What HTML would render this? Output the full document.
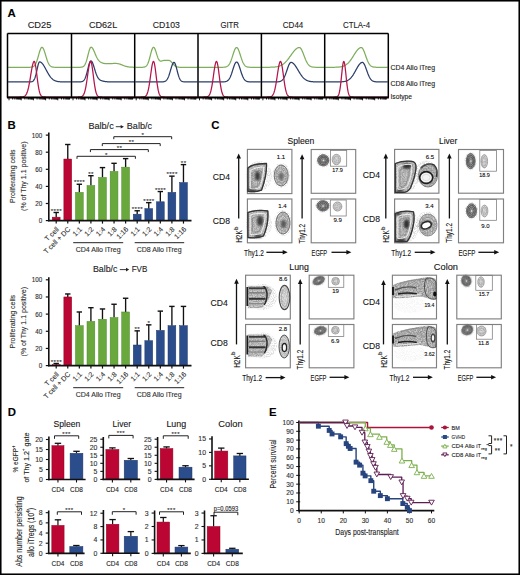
<!DOCTYPE html>
<html><head><meta charset="utf-8"><style>
html,body{margin:0;padding:0;background:#fff;}
svg{display:block;font-family:"Liberation Sans", sans-serif;}
text{stroke:#2a2a2a;stroke-width:0.12px;}
</style></head><body>
<svg width="520" height="575" viewBox="0 0 520 575">
<rect width="520" height="575" fill="#fff"/>
<defs><radialGradient id="gDark" cx="50%" cy="50%" r="50%">
<stop offset="0" stop-color="#8a8a8a"/><stop offset="0.3" stop-color="#4a4a4a"/><stop offset="0.65" stop-color="#3a3a3a"/><stop offset="0.85" stop-color="#6a6a6a"/><stop offset="1" stop-color="#cfcfcf" stop-opacity="0.6"/></radialGradient>
<radialGradient id="gLight" cx="50%" cy="50%" r="50%">
<stop offset="0" stop-color="#cfcfcf"/><stop offset="0.55" stop-color="#b8b8b8"/><stop offset="0.8" stop-color="#9a9a9a"/><stop offset="1" stop-color="#e0e0e0" stop-opacity="0.7"/></radialGradient>
<radialGradient id="gPop" cx="50%" cy="50%" r="50%">
<stop offset="0" stop-color="#7a7a7a"/><stop offset="0.5" stop-color="#a5a5a5"/><stop offset="0.9" stop-color="#c8c8c8"/><stop offset="1" stop-color="#dcdcdc"/></radialGradient>
<radialGradient id="gHaze" cx="50%" cy="50%" r="50%">
<stop offset="0" stop-color="#d0d0d0" stop-opacity="0.9"/><stop offset="1" stop-color="#ffffff" stop-opacity="0"/></radialGradient>
<linearGradient id="gBand" x1="0" y1="0" x2="1" y2="0">
<stop offset="0" stop-color="#6a6a6a"/><stop offset="0.5" stop-color="#a0a0a0"/><stop offset="1" stop-color="#8a8a8a"/></linearGradient>
<filter id="speck" filterUnits="userSpaceOnUse" x="0" y="0" width="520" height="575"><feTurbulence type="fractalNoise" baseFrequency="1.1" numOctaves="1" seed="7" result="n"/><feColorMatrix in="n" type="matrix" values="0 0 0 0 0  0 0 0 0 0  0 0 0 0 0  0 0 0 -3.2 2.0" result="m"/><feComposite in="SourceGraphic" in2="m" operator="in"/></filter>
<filter id="speck2" filterUnits="userSpaceOnUse" x="0" y="0" width="520" height="575"><feTurbulence type="fractalNoise" baseFrequency="0.8" numOctaves="2" seed="11" result="n"/><feColorMatrix in="n" type="matrix" values="0 0 0 0 0  0 0 0 0 0  0 0 0 0 0  0 0 0 -2.4 1.7" result="m"/><feComposite in="SourceGraphic" in2="m" operator="in"/><feGaussianBlur stdDeviation="0.25"/></filter>
<filter id="blur05" filterUnits="userSpaceOnUse" x="0" y="0" width="520" height="575"><feGaussianBlur stdDeviation="0.3"/></filter>
<filter id="blur1" filterUnits="userSpaceOnUse" x="0" y="0" width="520" height="575"><feGaussianBlur stdDeviation="0.6"/></filter>
<filter id="blur2" filterUnits="userSpaceOnUse" x="0" y="0" width="520" height="575"><feGaussianBlur stdDeviation="1.3"/></filter>
</defs>
<rect x="0.75" y="0.75" width="518.5" height="573.5" fill="none" stroke="#000" stroke-width="1.6" />
<text x="7.6" y="13.1" font-size="11.4" text-anchor="start" dominant-baseline="central" fill="#000" font-weight="bold" >A</text>
<text x="39.5" y="25.3" font-size="8.2" text-anchor="middle" dominant-baseline="central" fill="#222" textLength="23.7" lengthAdjust="spacingAndGlyphs" >CD25</text>
<text x="103.1" y="25.3" font-size="8.2" text-anchor="middle" dominant-baseline="central" fill="#222" textLength="28.3" lengthAdjust="spacingAndGlyphs" >CD62L</text>
<text x="166.35" y="25.3" font-size="8.2" text-anchor="middle" dominant-baseline="central" fill="#222" textLength="27" lengthAdjust="spacingAndGlyphs" >CD103</text>
<text x="229.7" y="25.3" font-size="8.2" text-anchor="middle" dominant-baseline="central" fill="#222" textLength="18.5" lengthAdjust="spacingAndGlyphs" >GITR</text>
<text x="293.05" y="25.3" font-size="8.2" text-anchor="middle" dominant-baseline="central" fill="#222" textLength="20.5" lengthAdjust="spacingAndGlyphs" >CD44</text>
<text x="356.5" y="25.3" font-size="8.2" text-anchor="middle" dominant-baseline="central" fill="#222" textLength="27" lengthAdjust="spacingAndGlyphs" >CTLA-4</text>
<polyline points="8.1,67.3 8.43,67.3 8.77,67.3 9.1,67.3 9.44,67.3 9.77,67.3 10.1,67.3 10.44,67.3 10.77,67.3 11.11,67.3 11.44,67.3 11.77,67.3 12.11,67.3 12.44,67.3 12.78,67.3 13.11,67.3 13.44,67.3 13.78,67.3 14.11,67.3 14.45,67.3 14.78,67.3 15.11,67.3 15.45,67.3 15.78,67.3 16.12,67.3 16.45,67.3 16.79,67.3 17.12,67.3 17.45,67.3 17.79,67.3 18.12,67.3 18.46,67.3 18.79,67.3 19.12,67.3 19.46,67.3 19.79,67.3 20.13,67.3 20.46,67.3 20.79,67.3 21.13,67.3 21.46,67.3 21.8,67.3 22.13,67.3 22.46,67.3 22.8,67.3 23.13,67.3 23.47,67.3 23.8,67.3 24.13,67.3 24.47,67.3 24.8,67.3 25.14,67.3 25.47,67.3 25.8,67.3 26.14,67.3 26.47,67.3 26.81,67.3 27.14,67.3 27.47,67.3 27.81,67.3 28.14,67.3 28.48,67.29 28.81,67.29 29.14,67.28 29.48,67.28 29.81,67.27 30.15,67.25 30.48,67.24 30.81,67.21 31.15,67.18 31.48,67.13 31.82,67.07 32.15,67 32.49,66.9 32.82,66.78 33.15,66.62 33.49,66.43 33.82,66.19 34.16,65.9 34.49,65.56 34.82,65.14 35.16,64.66 35.49,64.1 35.83,63.46 36.16,62.73 36.49,61.91 36.83,61.01 37.16,60.03 37.5,58.98 37.83,57.87 38.16,56.72 38.5,55.53 38.83,54.34 39.17,53.17 39.5,52.04 39.83,50.97 40.17,50 40.5,49.15 40.84,48.44 41.17,47.89 41.5,47.51 41.84,47.32 42.17,47.32 42.51,47.5 42.84,47.84 43.17,48.34 43.51,48.98 43.84,49.76 44.18,50.64 44.51,51.62 44.84,52.66 45.18,53.76 45.51,54.88 45.85,56 46.18,57.11 46.51,58.19 46.85,59.23 47.18,60.21 47.52,61.12 47.85,61.96 48.19,62.73 48.52,63.42 48.85,64.03 49.19,64.57 49.52,65.04 49.86,65.45 50.19,65.8 50.52,66.09 50.86,66.33 51.19,66.53 51.53,66.7 51.86,66.83 52.19,66.94 52.53,67.02 52.86,67.09 53.2,67.14 53.53,67.18 53.86,67.21 54.2,67.24 54.53,67.25 54.87,67.27 55.2,67.28 55.53,67.28 55.87,67.29 56.2,67.29 56.54,67.29 56.87,67.3 57.2,67.3 57.54,67.3 57.87,67.3 58.21,67.3 58.54,67.3 58.87,67.3 59.21,67.3 59.54,67.3 59.88,67.3 60.21,67.3 60.54,67.3 60.88,67.3 61.21,67.3 61.55,67.3 61.88,67.3 62.21,67.3 62.55,67.3 62.88,67.3 63.22,67.3 63.55,67.3 63.89,67.3 64.22,67.3 64.55,67.3 64.89,67.3 65.22,67.3 65.56,67.3 65.89,67.3 66.22,67.3 66.56,67.3 66.89,67.3 67.23,67.3 67.56,67.3 67.89,67.3 68.23,67.3 68.56,67.3 68.9,67.3 69.23,67.3 69.56,67.3 69.9,67.3 70.23,67.3 70.57,67.3 70.9,67.3" fill="none" stroke="#7eae5c" stroke-width="1.25" stroke-linejoin="round" />
<polyline points="8.1,81.9 8.43,81.9 8.77,81.9 9.1,81.9 9.44,81.9 9.77,81.9 10.1,81.9 10.44,81.9 10.77,81.9 11.11,81.9 11.44,81.9 11.77,81.9 12.11,81.9 12.44,81.9 12.78,81.9 13.11,81.9 13.44,81.9 13.78,81.9 14.11,81.9 14.45,81.9 14.78,81.9 15.11,81.9 15.45,81.9 15.78,81.9 16.12,81.9 16.45,81.9 16.79,81.9 17.12,81.9 17.45,81.9 17.79,81.9 18.12,81.9 18.46,81.9 18.79,81.9 19.12,81.9 19.46,81.9 19.79,81.9 20.13,81.9 20.46,81.9 20.79,81.9 21.13,81.9 21.46,81.9 21.8,81.9 22.13,81.9 22.46,81.9 22.8,81.9 23.13,81.9 23.47,81.9 23.8,81.9 24.13,81.9 24.47,81.9 24.8,81.9 25.14,81.9 25.47,81.9 25.8,81.9 26.14,81.9 26.47,81.9 26.81,81.9 27.14,81.9 27.47,81.9 27.81,81.9 28.14,81.9 28.48,81.9 28.81,81.9 29.14,81.89 29.48,81.89 29.81,81.88 30.15,81.87 30.48,81.86 30.81,81.83 31.15,81.8 31.48,81.75 31.82,81.67 32.15,81.57 32.49,81.43 32.82,81.23 33.15,80.98 33.49,80.64 33.82,80.21 34.16,79.67 34.49,79 34.82,78.2 35.16,77.25 35.49,76.16 35.83,74.93 36.16,73.57 36.49,72.1 36.83,70.57 37.16,69.02 37.5,67.49 37.83,66.04 38.16,64.73 38.5,63.62 38.83,62.75 39.17,62.18 39.5,61.91 39.83,61.91 40.17,61.98 40.5,62.09 40.84,62.26 41.17,62.48 41.5,62.74 41.84,63.05 42.17,63.41 42.51,63.8 42.84,64.24 43.17,64.71 43.51,65.21 43.84,65.74 44.18,66.29 44.51,66.87 44.84,67.46 45.18,68.06 45.51,68.68 45.85,69.3 46.18,69.92 46.51,70.54 46.85,71.16 47.18,71.77 47.52,72.37 47.85,72.96 48.19,73.54 48.52,74.1 48.85,74.64 49.19,75.16 49.52,75.66 49.86,76.14 50.19,76.59 50.52,77.03 50.86,77.44 51.19,77.82 51.53,78.18 51.86,78.52 52.19,78.84 52.53,79.13 52.86,79.4 53.2,79.66 53.53,79.89 53.86,80.1 54.2,80.29 54.53,80.47 54.87,80.63 55.2,80.78 55.53,80.91 55.87,81.03 56.2,81.13 56.54,81.23 56.87,81.31 57.2,81.39 57.54,81.46 57.87,81.52 58.21,81.57 58.54,81.61 58.87,81.65 59.21,81.69 59.54,81.72 59.88,81.75 60.21,81.77 60.54,81.79 60.88,81.81 61.21,81.82 61.55,81.83 61.88,81.84 62.21,81.85 62.55,81.86 62.88,81.87 63.22,81.87 63.55,81.88 63.89,81.88 64.22,81.88 64.55,81.89 64.89,81.89 65.22,81.89 65.56,81.89 65.89,81.89 66.22,81.9 66.56,81.9 66.89,81.9 67.23,81.9 67.56,81.9 67.89,81.9 68.23,81.9 68.56,81.9 68.9,81.9 69.23,81.9 69.56,81.9 69.9,81.9 70.23,81.9 70.57,81.9 70.9,81.9" fill="none" stroke="#2a3e68" stroke-width="1.25" stroke-linejoin="round" />
<polyline points="8.1,97 8.43,97 8.77,97 9.1,97 9.44,97 9.77,97 10.1,97 10.44,97 10.77,97 11.11,97 11.44,97 11.77,97 12.11,97 12.44,97 12.78,97 13.11,97 13.44,97 13.78,97 14.11,97 14.45,97 14.78,97 15.11,97 15.45,97 15.78,97 16.12,97 16.45,97 16.79,97 17.12,97 17.45,97 17.79,97 18.12,97 18.46,97 18.79,97 19.12,97 19.46,97 19.79,96.99 20.13,96.99 20.46,96.98 20.79,96.98 21.13,96.97 21.46,96.95 21.8,96.93 22.13,96.91 22.46,96.87 22.8,96.82 23.13,96.76 23.47,96.68 23.8,96.57 24.13,96.43 24.47,96.25 24.8,96.03 25.14,95.75 25.47,95.41 25.8,95 26.14,94.49 26.47,93.89 26.81,93.18 27.14,92.34 27.47,91.38 27.81,90.28 28.14,89.04 28.48,87.65 28.81,86.12 29.14,84.46 29.48,82.67 29.81,80.77 30.15,78.79 30.48,76.76 30.81,74.7 31.15,72.65 31.48,70.66 31.82,68.76 32.15,67.01 32.49,65.43 32.82,64.07 33.15,62.96 33.49,62.13 33.82,61.61 34.16,61.4 34.49,61.6 34.82,62.34 35.16,63.57 35.49,65.25 35.83,67.3 36.16,69.64 36.49,72.18 36.83,74.83 37.16,77.49 37.5,80.1 37.83,82.58 38.16,84.88 38.5,86.97 38.83,88.83 39.17,90.44 39.5,91.82 39.83,92.96 40.17,93.91 40.5,94.66 40.84,95.26 41.17,95.73 41.5,96.08 41.84,96.35 42.17,96.54 42.51,96.69 42.84,96.79 43.17,96.86 43.51,96.91 43.84,96.94 44.18,96.96 44.51,96.98 44.84,96.98 45.18,96.99 45.51,96.99 45.85,97 46.18,97 46.51,97 46.85,97 47.18,97 47.52,97 47.85,97 48.19,97 48.52,97 48.85,97 49.19,97 49.52,97 49.86,97 50.19,97 50.52,97 50.86,97 51.19,97 51.53,97 51.86,97 52.19,97 52.53,97 52.86,97 53.2,97 53.53,97 53.86,97 54.2,97 54.53,97 54.87,97 55.2,97 55.53,97 55.87,97 56.2,97 56.54,97 56.87,97 57.2,97 57.54,97 57.87,97 58.21,97 58.54,97 58.87,97 59.21,97 59.54,97 59.88,97 60.21,97 60.54,97 60.88,97 61.21,97 61.55,97 61.88,97 62.21,97 62.55,97 62.88,97 63.22,97 63.55,97 63.89,97 64.22,97 64.55,97 64.89,97 65.22,97 65.56,97 65.89,97 66.22,97 66.56,97 66.89,97 67.23,97 67.56,97 67.89,97 68.23,97 68.56,97 68.9,97 69.23,97 69.56,97 69.9,97 70.23,97 70.57,97 70.9,97" fill="none" stroke="#b5134a" stroke-width="1.25" stroke-linejoin="round" />
<polyline points="72.1,67.3 72.43,67.3 72.77,67.3 73.1,67.3 73.43,67.3 73.77,67.3 74.1,67.3 74.43,67.3 74.77,67.3 75.1,67.3 75.43,67.3 75.77,67.3 76.1,67.3 76.43,67.3 76.77,67.3 77.1,67.3 77.43,67.3 77.77,67.3 78.1,67.3 78.43,67.3 78.77,67.29 79.1,67.29 79.43,67.29 79.77,67.28 80.1,67.27 80.43,67.26 80.77,67.23 81.1,67.21 81.43,67.17 81.77,67.11 82.1,67.04 82.43,66.94 82.77,66.81 83.1,66.64 83.43,66.42 83.77,66.15 84.1,65.81 84.43,65.4 84.77,64.9 85.1,64.3 85.43,63.61 85.77,62.8 86.1,61.89 86.43,60.88 86.77,59.76 87.1,58.56 87.43,57.3 87.77,55.99 88.1,54.66 88.43,53.34 88.77,52.07 89.1,50.89 89.43,49.82 89.77,48.91 90.1,48.18 90.43,47.64 90.77,47.33 91.1,47.23 91.43,47.26 91.77,47.41 92.1,47.69 92.43,48.08 92.77,48.57 93.1,49.14 93.43,49.79 93.77,50.51 94.1,51.26 94.43,52.05 94.77,52.85 95.1,53.65 95.43,54.44 95.77,55.22 96.1,55.97 96.43,56.68 96.77,57.35 97.1,57.97 97.43,58.55 97.77,59.09 98.1,59.58 98.43,60.02 98.77,60.43 99.1,60.79 99.43,61.12 99.77,61.42 100.1,61.69 100.43,61.93 100.77,62.15 101.1,62.35 101.43,62.53 101.77,62.7 102.1,62.84 102.43,62.98 102.77,63.09 103.1,63.2 103.43,63.29 103.77,63.36 104.1,63.43 104.43,63.48 104.77,63.53 105.1,63.56 105.43,63.58 105.77,63.6 106.1,63.61 106.43,63.61 106.77,63.61 107.1,63.61 107.43,63.6 107.77,63.59 108.1,63.58 108.43,63.58 108.77,63.57 109.1,63.56 109.43,63.55 109.77,63.55 110.1,63.54 110.43,63.54 110.77,63.54 111.1,63.53 111.43,63.53 111.77,63.52 112.1,63.52 112.43,63.51 112.77,63.5 113.1,63.49 113.43,63.48 113.77,63.47 114.1,63.46 114.43,63.46 114.77,63.45 115.1,63.45 115.43,63.45 115.77,63.45 116.1,63.46 116.43,63.48 116.77,63.5 117.1,63.53 117.43,63.57 117.77,63.62 118.1,63.68 118.43,63.75 118.77,63.82 119.1,63.91 119.43,64 119.77,64.1 120.1,64.21 120.43,64.32 120.77,64.44 121.1,64.56 121.43,64.69 121.77,64.82 122.1,64.95 122.43,65.09 122.77,65.22 123.1,65.35 123.43,65.48 123.77,65.61 124.1,65.73 124.43,65.86 124.77,65.97 125.1,66.08 125.43,66.19 125.77,66.29 126.1,66.38 126.43,66.47 126.77,66.56 127.1,66.63 127.43,66.7 127.77,66.77 128.1,66.83 128.43,66.89 128.77,66.93 129.1,66.98 129.43,67.02 129.77,67.06 130.1,67.09 130.43,67.12 130.77,67.14 131.1,67.17 131.43,67.18 131.77,67.2 132.1,67.22 132.43,67.23 132.77,67.24 133.1,67.25 133.43,67.26 133.77,67.27 134.1,67.27" fill="none" stroke="#7eae5c" stroke-width="1.25" stroke-linejoin="round" />
<polyline points="72.1,81.9 72.43,81.9 72.77,81.9 73.1,81.9 73.43,81.9 73.77,81.9 74.1,81.9 74.43,81.9 74.77,81.9 75.1,81.9 75.43,81.9 75.77,81.9 76.1,81.9 76.43,81.9 76.77,81.9 77.1,81.9 77.43,81.9 77.77,81.9 78.1,81.9 78.43,81.89 78.77,81.89 79.1,81.89 79.43,81.88 79.77,81.87 80.1,81.85 80.43,81.83 80.77,81.8 81.1,81.76 81.43,81.7 81.77,81.63 82.1,81.53 82.43,81.4 82.77,81.23 83.1,81.02 83.43,80.76 83.77,80.43 84.1,80.02 84.43,79.54 84.77,78.96 85.1,78.28 85.43,77.5 85.77,76.61 86.1,75.62 86.43,74.53 86.77,73.34 87.1,72.07 87.43,70.75 87.77,69.4 88.1,68.04 88.43,66.71 88.77,65.44 89.1,64.27 89.43,63.23 89.77,62.36 90.1,61.68 90.43,61.21 90.77,60.97 91.1,60.96 91.43,61.13 91.77,61.46 92.1,61.95 92.43,62.59 92.77,63.36 93.1,64.24 93.43,65.21 93.77,66.24 94.1,67.32 94.43,68.43 94.77,69.53 95.1,70.62 95.43,71.68 95.77,72.69 96.1,73.65 96.43,74.54 96.77,75.36 97.1,76.11 97.43,76.78 97.77,77.38 98.1,77.92 98.43,78.38 98.77,78.79 99.1,79.15 99.43,79.45 99.77,79.72 100.1,79.95 100.43,80.15 100.77,80.33 101.1,80.48 101.43,80.61 101.77,80.74 102.1,80.85 102.43,80.95 102.77,81.04 103.1,81.12 103.43,81.2 103.77,81.28 104.1,81.34 104.43,81.41 104.77,81.46 105.1,81.52 105.43,81.56 105.77,81.61 106.1,81.65 106.43,81.68 106.77,81.72 107.1,81.74 107.43,81.77 107.77,81.79 108.1,81.81 108.43,81.83 108.77,81.84 109.1,81.85 109.43,81.86 109.77,81.87 110.1,81.87 110.43,81.88 110.77,81.88 111.1,81.89 111.43,81.89 111.77,81.89 112.1,81.89 112.43,81.9 112.77,81.9 113.1,81.9 113.43,81.9 113.77,81.9 114.1,81.9 114.43,81.9 114.77,81.9 115.1,81.9 115.43,81.9 115.77,81.9 116.1,81.9 116.43,81.9 116.77,81.9 117.1,81.9 117.43,81.9 117.77,81.9 118.1,81.9 118.43,81.9 118.77,81.9 119.1,81.9 119.43,81.9 119.77,81.9 120.1,81.9 120.43,81.9 120.77,81.9 121.1,81.9 121.43,81.9 121.77,81.9 122.1,81.9 122.43,81.9 122.77,81.9 123.1,81.9 123.43,81.9 123.77,81.9 124.1,81.9 124.43,81.9 124.77,81.9 125.1,81.9 125.43,81.9 125.77,81.9 126.1,81.9 126.43,81.9 126.77,81.9 127.1,81.9 127.43,81.9 127.77,81.9 128.1,81.9 128.43,81.9 128.77,81.9 129.1,81.9 129.43,81.9 129.77,81.9 130.1,81.9 130.43,81.9 130.77,81.9 131.1,81.9 131.43,81.9 131.77,81.9 132.1,81.9 132.43,81.9 132.77,81.9 133.1,81.9 133.43,81.9 133.77,81.9 134.1,81.9" fill="none" stroke="#2a3e68" stroke-width="1.25" stroke-linejoin="round" />
<polyline points="72.1,97 72.43,97 72.77,97 73.1,97 73.43,97 73.77,97 74.1,97 74.43,97 74.77,97 75.1,97 75.43,97 75.77,97 76.1,97 76.43,97 76.77,97 77.1,97 77.43,97 77.77,97 78.1,96.99 78.43,96.99 78.77,96.99 79.1,96.98 79.43,96.97 79.77,96.95 80.1,96.92 80.43,96.89 80.77,96.83 81.1,96.76 81.43,96.67 81.77,96.53 82.1,96.36 82.43,96.12 82.77,95.82 83.1,95.44 83.43,94.95 83.77,94.34 84.1,93.6 84.43,92.7 84.77,91.62 85.1,90.37 85.43,88.92 85.77,87.28 86.1,85.44 86.43,83.43 86.77,81.26 87.1,78.97 87.43,76.61 87.77,74.21 88.1,71.84 88.43,69.57 88.77,67.46 89.1,65.58 89.43,63.99 89.77,62.75 90.1,61.89 90.43,61.45 90.77,61.47 91.1,62.01 91.43,63.06 91.77,64.57 92.1,66.49 92.43,68.73 92.77,71.2 93.1,73.81 93.43,76.47 93.77,79.1 94.1,81.63 94.43,84.01 94.77,86.18 95.1,88.12 95.43,89.83 95.77,91.29 96.1,92.53 96.43,93.55 96.77,94.38 97.1,95.04 97.43,95.55 97.77,95.95 98.1,96.25 98.43,96.47 98.77,96.63 99.1,96.75 99.43,96.83 99.77,96.89 100.1,96.93 100.43,96.95 100.77,96.97 101.1,96.98 101.43,96.99 101.77,96.99 102.1,97 102.43,97 102.77,97 103.1,97 103.43,97 103.77,97 104.1,97 104.43,97 104.77,97 105.1,97 105.43,97 105.77,97 106.1,97 106.43,97 106.77,97 107.1,97 107.43,97 107.77,97 108.1,97 108.43,97 108.77,97 109.1,97 109.43,97 109.77,97 110.1,97 110.43,97 110.77,97 111.1,97 111.43,97 111.77,97 112.1,97 112.43,97 112.77,97 113.1,97 113.43,97 113.77,97 114.1,97 114.43,97 114.77,97 115.1,97 115.43,97 115.77,97 116.1,97 116.43,97 116.77,97 117.1,97 117.43,97 117.77,97 118.1,97 118.43,97 118.77,97 119.1,97 119.43,97 119.77,97 120.1,97 120.43,97 120.77,97 121.1,97 121.43,97 121.77,97 122.1,97 122.43,97 122.77,97 123.1,97 123.43,97 123.77,97 124.1,97 124.43,97 124.77,97 125.1,97 125.43,97 125.77,97 126.1,97 126.43,97 126.77,97 127.1,97 127.43,97 127.77,97 128.1,97 128.43,97 128.77,97 129.1,97 129.43,97 129.77,97 130.1,97 130.43,97 130.77,97 131.1,97 131.43,97 131.77,97 132.1,97 132.43,97 132.77,97 133.1,97 133.43,97 133.77,97 134.1,97" fill="none" stroke="#b5134a" stroke-width="1.25" stroke-linejoin="round" />
<polyline points="135.3,67.3 135.63,67.3 135.97,67.3 136.3,67.3 136.64,67.3 136.97,67.3 137.3,67.3 137.64,67.3 137.97,67.3 138.3,67.3 138.64,67.3 138.97,67.3 139.31,67.3 139.64,67.3 139.97,67.3 140.31,67.3 140.64,67.3 140.98,67.29 141.31,67.29 141.64,67.29 141.98,67.28 142.31,67.27 142.65,67.26 142.98,67.24 143.31,67.21 143.65,67.17 143.98,67.12 144.31,67.05 144.65,66.96 144.98,66.84 145.32,66.69 145.65,66.49 145.98,66.24 146.32,65.93 146.65,65.56 146.99,65.1 147.32,64.56 147.65,63.92 147.99,63.19 148.32,62.35 148.65,61.4 148.99,60.36 149.32,59.23 149.66,58.03 149.99,56.76 150.32,55.47 150.66,54.16 150.99,52.88 151.33,51.66 151.66,50.53 151.99,49.52 152.33,48.67 152.66,48 153,47.54 153.33,47.3 153.66,47.28 154,47.46 154.33,47.84 154.66,48.39 155,49.1 155.33,49.94 155.67,50.89 156,51.92 156.33,52.99 156.67,54.08 157,55.15 157.34,56.17 157.67,57.14 158,58.01 158.34,58.78 158.67,59.44 159,59.99 159.34,60.42 159.67,60.74 160.01,60.96 160.34,61.08 160.67,61.13 161.01,61.12 161.34,61.06 161.68,60.98 162.01,60.88 162.34,60.77 162.68,60.68 163.01,60.59 163.35,60.53 163.68,60.48 164.01,60.46 164.35,60.45 164.68,60.45 165.01,60.46 165.35,60.47 165.68,60.48 166.02,60.48 166.35,60.47 166.68,60.45 167.02,60.42 167.35,60.39 167.69,60.36 168.02,60.35 168.35,60.35 168.69,60.37 169.02,60.42 169.35,60.51 169.69,60.64 170.02,60.82 170.36,61.04 170.69,61.3 171.02,61.61 171.36,61.95 171.69,62.31 172.03,62.7 172.36,63.1 172.69,63.5 173.03,63.9 173.36,64.29 173.7,64.66 174.03,65.02 174.36,65.34 174.7,65.64 175.03,65.91 175.36,66.14 175.7,66.35 176.03,66.53 176.37,66.68 176.7,66.81 177.03,66.91 177.37,67 177.7,67.07 178.04,67.12 178.37,67.17 178.7,67.2 179.04,67.23 179.37,67.25 179.7,67.26 180.04,67.27 180.37,67.28 180.71,67.29 181.04,67.29 181.37,67.29 181.71,67.3 182.04,67.3 182.38,67.3 182.71,67.3 183.04,67.3 183.38,67.3 183.71,67.3 184.05,67.3 184.38,67.3 184.71,67.3 185.05,67.3 185.38,67.3 185.71,67.3 186.05,67.3 186.38,67.3 186.72,67.3 187.05,67.3 187.38,67.3 187.72,67.3 188.05,67.3 188.39,67.3 188.72,67.3 189.05,67.3 189.39,67.3 189.72,67.3 190.05,67.3 190.39,67.3 190.72,67.3 191.06,67.3 191.39,67.3 191.72,67.3 192.06,67.3 192.39,67.3 192.73,67.3 193.06,67.3 193.39,67.3 193.73,67.3 194.06,67.3 194.4,67.3 194.73,67.3 195.06,67.3 195.4,67.3 195.73,67.3 196.06,67.3 196.4,67.3 196.73,67.3 197.07,67.3 197.4,67.3" fill="none" stroke="#7eae5c" stroke-width="1.25" stroke-linejoin="round" />
<polyline points="135.3,81.9 135.63,81.9 135.97,81.9 136.3,81.9 136.64,81.9 136.97,81.9 137.3,81.9 137.64,81.9 137.97,81.9 138.3,81.9 138.64,81.9 138.97,81.9 139.31,81.9 139.64,81.9 139.97,81.9 140.31,81.9 140.64,81.9 140.98,81.9 141.31,81.9 141.64,81.9 141.98,81.9 142.31,81.9 142.65,81.9 142.98,81.9 143.31,81.9 143.65,81.9 143.98,81.9 144.31,81.9 144.65,81.9 144.98,81.9 145.32,81.9 145.65,81.9 145.98,81.9 146.32,81.9 146.65,81.9 146.99,81.9 147.32,81.9 147.65,81.9 147.99,81.9 148.32,81.9 148.65,81.9 148.99,81.9 149.32,81.9 149.66,81.9 149.99,81.9 150.32,81.9 150.66,81.9 150.99,81.9 151.33,81.9 151.66,81.9 151.99,81.9 152.33,81.9 152.66,81.9 153,81.9 153.33,81.9 153.66,81.9 154,81.9 154.33,81.9 154.66,81.9 155,81.9 155.33,81.9 155.67,81.9 156,81.9 156.33,81.9 156.67,81.9 157,81.9 157.34,81.9 157.67,81.9 158,81.9 158.34,81.9 158.67,81.9 159,81.9 159.34,81.9 159.67,81.9 160.01,81.9 160.34,81.89 160.67,81.89 161.01,81.89 161.34,81.88 161.68,81.87 162.01,81.86 162.34,81.85 162.68,81.82 163.01,81.79 163.35,81.76 163.68,81.71 164.01,81.64 164.35,81.55 164.68,81.44 165.01,81.31 165.35,81.13 165.68,80.92 166.02,80.66 166.35,80.35 166.68,79.97 167.02,79.53 167.35,79.02 167.69,78.42 168.02,77.75 168.35,76.99 168.69,76.15 169.02,75.23 169.35,74.23 169.69,73.17 170.02,72.06 170.36,70.92 170.69,69.76 171.02,68.6 171.36,67.48 171.69,66.41 172.03,65.43 172.36,64.54 172.69,63.79 173.03,63.18 173.36,62.74 173.7,62.48 174.03,62.4 174.36,62.54 174.7,62.92 175.03,63.52 175.36,64.32 175.7,65.29 176.03,66.4 176.37,67.61 176.7,68.89 177.03,70.21 177.37,71.52 177.7,72.79 178.04,74.01 178.37,75.15 178.7,76.19 179.04,77.14 179.37,77.97 179.7,78.7 180.04,79.33 180.37,79.86 180.71,80.3 181.04,80.66 181.37,80.95 181.71,81.18 182.04,81.36 182.38,81.5 182.71,81.61 183.04,81.69 183.38,81.75 183.71,81.8 184.05,81.83 184.38,81.85 184.71,81.87 185.05,81.88 185.38,81.89 185.71,81.89 186.05,81.89 186.38,81.9 186.72,81.9 187.05,81.9 187.38,81.9 187.72,81.9 188.05,81.9 188.39,81.9 188.72,81.9 189.05,81.9 189.39,81.9 189.72,81.9 190.05,81.9 190.39,81.9 190.72,81.9 191.06,81.9 191.39,81.9 191.72,81.9 192.06,81.9 192.39,81.9 192.73,81.9 193.06,81.9 193.39,81.9 193.73,81.9 194.06,81.9 194.4,81.9 194.73,81.9 195.06,81.9 195.4,81.9 195.73,81.9 196.06,81.9 196.4,81.9 196.73,81.9 197.07,81.9 197.4,81.9" fill="none" stroke="#2a3e68" stroke-width="1.25" stroke-linejoin="round" />
<polyline points="135.3,97 135.63,97 135.97,97 136.3,97 136.64,97 136.97,97 137.3,97 137.64,97 137.97,97 138.3,97 138.64,97 138.97,97 139.31,97 139.64,97 139.97,97 140.31,97 140.64,97 140.98,97 141.31,96.99 141.64,96.99 141.98,96.99 142.31,96.98 142.65,96.97 142.98,96.95 143.31,96.93 143.65,96.89 143.98,96.84 144.31,96.76 144.65,96.66 144.98,96.52 145.32,96.34 145.65,96.09 145.98,95.76 146.32,95.34 146.65,94.81 146.99,94.14 147.32,93.33 147.65,92.34 147.99,91.16 148.32,89.77 148.65,88.18 148.99,86.38 149.32,84.39 149.66,82.21 149.99,79.88 150.32,77.46 150.66,74.98 150.99,72.51 151.33,70.12 151.66,67.89 151.99,65.89 152.33,64.19 152.66,62.86 153,61.94 153.33,61.46 153.66,61.47 154,62.04 154.33,63.17 154.66,64.8 155,66.85 155.33,69.23 155.67,71.84 156,74.58 156.33,77.34 156.67,80.05 157,82.63 157.34,85.01 157.67,87.16 158,89.06 158.34,90.69 158.67,92.07 159,93.22 159.34,94.14 159.67,94.87 160.01,95.45 160.34,95.88 160.67,96.21 161.01,96.45 161.34,96.62 161.68,96.75 162.01,96.83 162.34,96.89 162.68,96.93 163.01,96.96 163.35,96.97 163.68,96.98 164.01,96.99 164.35,96.99 164.68,97 165.01,97 165.35,97 165.68,97 166.02,97 166.35,97 166.68,97 167.02,97 167.35,97 167.69,97 168.02,97 168.35,97 168.69,97 169.02,97 169.35,97 169.69,97 170.02,97 170.36,97 170.69,97 171.02,97 171.36,97 171.69,97 172.03,97 172.36,97 172.69,97 173.03,97 173.36,97 173.7,97 174.03,97 174.36,97 174.7,97 175.03,97 175.36,97 175.7,97 176.03,97 176.37,97 176.7,97 177.03,97 177.37,97 177.7,97 178.04,97 178.37,97 178.7,97 179.04,97 179.37,97 179.7,97 180.04,97 180.37,97 180.71,97 181.04,97 181.37,97 181.71,97 182.04,97 182.38,97 182.71,97 183.04,97 183.38,97 183.71,97 184.05,97 184.38,97 184.71,97 185.05,97 185.38,97 185.71,97 186.05,97 186.38,97 186.72,97 187.05,97 187.38,97 187.72,97 188.05,97 188.39,97 188.72,97 189.05,97 189.39,97 189.72,97 190.05,97 190.39,97 190.72,97 191.06,97 191.39,97 191.72,97 192.06,97 192.39,97 192.73,97 193.06,97 193.39,97 193.73,97 194.06,97 194.4,97 194.73,97 195.06,97 195.4,97 195.73,97 196.06,97 196.4,97 196.73,97 197.07,97 197.4,97" fill="none" stroke="#b5134a" stroke-width="1.25" stroke-linejoin="round" />
<polyline points="198.6,67.3 198.93,67.3 199.27,67.3 199.6,67.3 199.94,67.3 200.27,67.3 200.61,67.3 200.94,67.3 201.28,67.3 201.61,67.3 201.94,67.3 202.28,67.3 202.61,67.3 202.95,67.3 203.28,67.3 203.62,67.3 203.95,67.3 204.28,67.3 204.62,67.3 204.95,67.3 205.29,67.3 205.62,67.3 205.96,67.3 206.29,67.3 206.63,67.3 206.96,67.3 207.29,67.3 207.63,67.3 207.96,67.3 208.3,67.3 208.63,67.3 208.97,67.3 209.3,67.3 209.64,67.3 209.97,67.3 210.3,67.3 210.64,67.3 210.97,67.3 211.31,67.3 211.64,67.3 211.98,67.3 212.31,67.3 212.65,67.3 212.98,67.3 213.31,67.3 213.65,67.3 213.98,67.3 214.32,67.3 214.65,67.3 214.99,67.3 215.32,67.3 215.65,67.3 215.99,67.3 216.32,67.3 216.66,67.3 216.99,67.3 217.33,67.3 217.66,67.3 218,67.3 218.33,67.3 218.66,67.3 219,67.3 219.33,67.3 219.67,67.3 220,67.3 220.34,67.3 220.67,67.3 221.01,67.3 221.34,67.29 221.67,67.29 222.01,67.29 222.34,67.28 222.68,67.28 223.01,67.27 223.35,67.25 223.68,67.24 224.02,67.22 224.35,67.19 224.68,67.15 225.02,67.11 225.35,67.05 225.69,66.98 226.02,66.89 226.36,66.78 226.69,66.64 227.02,66.47 227.36,66.27 227.69,66.03 228.03,65.75 228.36,65.41 228.7,65.02 229.03,64.58 229.37,64.07 229.7,63.49 230.03,62.85 230.37,62.14 230.7,61.36 231.04,60.52 231.37,59.61 231.71,58.66 232.04,57.66 232.38,56.63 232.71,55.58 233.04,54.52 233.38,53.48 233.71,52.46 234.05,51.5 234.38,50.6 234.72,49.79 235.05,49.08 235.38,48.49 235.72,48.02 236.05,47.7 236.39,47.53 236.72,47.51 237.06,47.64 237.39,47.92 237.73,48.35 238.06,48.91 238.39,49.59 238.73,50.38 239.06,51.25 239.4,52.2 239.73,53.2 240.07,54.24 240.4,55.29 240.74,56.35 241.07,57.39 241.4,58.4 241.74,59.36 242.07,60.28 242.41,61.14 242.74,61.94 243.08,62.67 243.41,63.33 243.75,63.92 244.08,64.45 244.41,64.91 244.75,65.31 245.08,65.66 245.42,65.96 245.75,66.21 246.09,66.42 246.42,66.6 246.75,66.74 247.09,66.86 247.42,66.96 247.76,67.03 248.09,67.1 248.43,67.14 248.76,67.18 249.1,67.21 249.43,67.23 249.76,67.25 250.1,67.26 250.43,67.27 250.77,67.28 251.1,67.29 251.44,67.29 251.77,67.29 252.11,67.3 252.44,67.3 252.77,67.3 253.11,67.3 253.44,67.3 253.78,67.3 254.11,67.3 254.45,67.3 254.78,67.3 255.12,67.3 255.45,67.3 255.78,67.3 256.12,67.3 256.45,67.3 256.79,67.3 257.12,67.3 257.46,67.3 257.79,67.3 258.12,67.3 258.46,67.3 258.79,67.3 259.13,67.3 259.46,67.3 259.8,67.3 260.13,67.3 260.47,67.3 260.8,67.3" fill="none" stroke="#7eae5c" stroke-width="1.25" stroke-linejoin="round" />
<polyline points="198.6,81.9 198.93,81.9 199.27,81.9 199.6,81.9 199.94,81.9 200.27,81.9 200.61,81.9 200.94,81.9 201.28,81.9 201.61,81.9 201.94,81.9 202.28,81.9 202.61,81.9 202.95,81.9 203.28,81.9 203.62,81.9 203.95,81.9 204.28,81.9 204.62,81.9 204.95,81.9 205.29,81.9 205.62,81.9 205.96,81.9 206.29,81.9 206.63,81.9 206.96,81.9 207.29,81.9 207.63,81.9 207.96,81.9 208.3,81.9 208.63,81.9 208.97,81.9 209.3,81.9 209.64,81.9 209.97,81.9 210.3,81.9 210.64,81.9 210.97,81.9 211.31,81.9 211.64,81.9 211.98,81.9 212.31,81.9 212.65,81.9 212.98,81.9 213.31,81.9 213.65,81.9 213.98,81.9 214.32,81.9 214.65,81.9 214.99,81.9 215.32,81.9 215.65,81.9 215.99,81.9 216.32,81.9 216.66,81.9 216.99,81.9 217.33,81.9 217.66,81.9 218,81.9 218.33,81.9 218.66,81.9 219,81.9 219.33,81.9 219.67,81.9 220,81.9 220.34,81.9 220.67,81.9 221.01,81.9 221.34,81.89 221.67,81.89 222.01,81.89 222.34,81.88 222.68,81.88 223.01,81.87 223.35,81.85 223.68,81.84 224.02,81.82 224.35,81.79 224.68,81.75 225.02,81.71 225.35,81.65 225.69,81.58 226.02,81.49 226.36,81.37 226.69,81.24 227.02,81.07 227.36,80.87 227.69,80.62 228.03,80.34 228.36,80 228.7,79.61 229.03,79.16 229.37,78.65 229.7,78.07 230.03,77.43 230.37,76.71 230.7,75.93 231.04,75.08 231.37,74.18 231.71,73.22 232.04,72.21 232.38,71.17 232.71,70.12 233.04,69.06 233.38,68.01 233.71,66.99 234.05,66.02 234.38,65.12 234.72,64.3 235.05,63.59 235.38,62.99 235.72,62.53 236.05,62.2 236.39,62.03 236.72,62.01 237.06,62.14 237.39,62.43 237.73,62.85 238.06,63.42 238.39,64.1 238.73,64.89 239.06,65.77 239.4,66.72 239.73,67.73 240.07,68.77 240.4,69.83 240.74,70.89 241.07,71.94 241.4,72.95 241.74,73.92 242.07,74.85 242.41,75.71 242.74,76.51 243.08,77.24 243.41,77.91 243.75,78.5 244.08,79.03 244.41,79.5 244.75,79.9 245.08,80.25 245.42,80.55 245.75,80.81 246.09,81.02 246.42,81.19 246.75,81.34 247.09,81.46 247.42,81.56 247.76,81.63 248.09,81.69 248.43,81.74 248.76,81.78 249.1,81.81 249.43,81.83 249.76,81.85 250.1,81.86 250.43,81.87 250.77,81.88 251.1,81.89 251.44,81.89 251.77,81.89 252.11,81.9 252.44,81.9 252.77,81.9 253.11,81.9 253.44,81.9 253.78,81.9 254.11,81.9 254.45,81.9 254.78,81.9 255.12,81.9 255.45,81.9 255.78,81.9 256.12,81.9 256.45,81.9 256.79,81.9 257.12,81.9 257.46,81.9 257.79,81.9 258.12,81.9 258.46,81.9 258.79,81.9 259.13,81.9 259.46,81.9 259.8,81.9 260.13,81.9 260.47,81.9 260.8,81.9" fill="none" stroke="#2a3e68" stroke-width="1.25" stroke-linejoin="round" />
<polyline points="198.6,97 198.93,97 199.27,97 199.6,97 199.94,97 200.27,97 200.61,97 200.94,97 201.28,97 201.61,97 201.94,97 202.28,97 202.61,97 202.95,97 203.28,97 203.62,97 203.95,96.99 204.28,96.99 204.62,96.99 204.95,96.98 205.29,96.97 205.62,96.95 205.96,96.93 206.29,96.89 206.63,96.84 206.96,96.77 207.29,96.68 207.63,96.55 207.96,96.38 208.3,96.15 208.63,95.86 208.97,95.48 209.3,95 209.64,94.4 209.97,93.67 210.3,92.78 210.64,91.72 210.97,90.48 211.31,89.04 211.64,87.41 211.98,85.58 212.31,83.57 212.65,81.41 212.98,79.12 213.31,76.74 213.65,74.34 213.98,71.96 214.32,69.68 214.65,67.55 214.99,65.66 215.32,64.05 215.65,62.79 215.99,61.91 216.32,61.46 216.66,61.46 216.99,61.99 217.33,63.03 217.66,64.55 218,66.46 218.33,68.71 218.66,71.18 219,73.8 219.33,76.47 219.67,79.11 220,81.65 220.34,84.03 220.67,86.2 221.01,88.15 221.34,89.86 221.67,91.32 222.01,92.56 222.34,93.58 222.68,94.4 223.01,95.06 223.35,95.57 223.68,95.96 224.02,96.26 224.35,96.48 224.68,96.64 225.02,96.75 225.35,96.84 225.69,96.89 226.02,96.93 226.36,96.95 226.69,96.97 227.02,96.98 227.36,96.99 227.69,96.99 228.03,97 228.36,97 228.7,97 229.03,97 229.37,97 229.7,97 230.03,97 230.37,97 230.7,97 231.04,97 231.37,97 231.71,97 232.04,97 232.38,97 232.71,97 233.04,97 233.38,97 233.71,97 234.05,97 234.38,97 234.72,97 235.05,97 235.38,97 235.72,97 236.05,97 236.39,97 236.72,97 237.06,97 237.39,97 237.73,97 238.06,97 238.39,97 238.73,97 239.06,97 239.4,97 239.73,97 240.07,97 240.4,97 240.74,97 241.07,97 241.4,97 241.74,97 242.07,97 242.41,97 242.74,97 243.08,97 243.41,97 243.75,97 244.08,97 244.41,97 244.75,97 245.08,97 245.42,97 245.75,97 246.09,97 246.42,97 246.75,97 247.09,97 247.42,97 247.76,97 248.09,97 248.43,97 248.76,97 249.1,97 249.43,97 249.76,97 250.1,97 250.43,97 250.77,97 251.1,97 251.44,97 251.77,97 252.11,97 252.44,97 252.77,97 253.11,97 253.44,97 253.78,97 254.11,97 254.45,97 254.78,97 255.12,97 255.45,97 255.78,97 256.12,97 256.45,97 256.79,97 257.12,97 257.46,97 257.79,97 258.12,97 258.46,97 258.79,97 259.13,97 259.46,97 259.8,97 260.13,97 260.47,97 260.8,97" fill="none" stroke="#b5134a" stroke-width="1.25" stroke-linejoin="round" />
<polyline points="262,67.3 262.33,67.3 262.67,67.3 263,67.3 263.34,67.3 263.67,67.3 264,67.3 264.34,67.3 264.67,67.3 265,67.29 265.34,67.29 265.67,67.29 266.01,67.29 266.34,67.29 266.67,67.29 267.01,67.29 267.34,67.28 267.68,67.28 268.01,67.28 268.34,67.28 268.68,67.27 269.01,67.27 269.35,67.26 269.68,67.26 270.01,67.25 270.35,67.24 270.68,67.23 271.01,67.23 271.35,67.21 271.68,67.2 272.02,67.19 272.35,67.17 272.68,67.16 273.02,67.14 273.35,67.12 273.69,67.1 274.02,67.07 274.35,67.04 274.69,67.01 275.02,66.98 275.35,66.94 275.69,66.9 276.02,66.85 276.36,66.8 276.69,66.74 277.02,66.68 277.36,66.61 277.69,66.54 278.03,66.46 278.36,66.37 278.69,66.28 279.03,66.18 279.36,66.07 279.7,65.95 280.03,65.82 280.36,65.69 280.7,65.54 281.03,65.38 281.36,65.22 281.7,65.04 282.03,64.84 282.37,64.64 282.7,64.43 283.03,64.2 283.37,63.96 283.7,63.7 284.04,63.43 284.37,63.15 284.7,62.86 285.04,62.55 285.37,62.23 285.7,61.89 286.04,61.54 286.37,61.18 286.71,60.81 287.04,60.42 287.37,60.02 287.71,59.61 288.04,59.19 288.38,58.76 288.71,58.32 289.04,57.87 289.38,57.42 289.71,56.96 290.05,56.49 290.38,56.03 290.71,55.55 291.05,55.08 291.38,54.61 291.71,54.14 292.05,53.68 292.38,53.22 292.72,52.77 293.05,52.32 293.38,51.89 293.72,51.46 294.05,51.06 294.39,50.66 294.72,50.29 295.05,49.93 295.39,49.59 295.72,49.27 296.05,48.98 296.39,48.7 296.72,48.46 297.06,48.24 297.39,48.05 297.72,47.88 298.06,47.75 298.39,47.64 298.73,47.56 299.06,47.52 299.39,47.5 299.73,47.55 300.06,47.71 300.4,47.98 300.73,48.34 301.06,48.81 301.4,49.36 301.73,49.99 302.06,50.68 302.4,51.44 302.73,52.25 303.07,53.09 303.4,53.96 303.73,54.85 304.07,55.74 304.4,56.62 304.74,57.5 305.07,58.35 305.4,59.17 305.74,59.95 306.07,60.7 306.4,61.4 306.74,62.06 307.07,62.67 307.41,63.23 307.74,63.75 308.07,64.21 308.41,64.63 308.74,65 309.08,65.34 309.41,65.63 309.74,65.89 310.08,66.11 310.41,66.31 310.75,66.48 311.08,66.62 311.41,66.74 311.75,66.84 312.08,66.93 312.41,67 312.75,67.06 313.08,67.11 313.42,67.15 313.75,67.18 314.08,67.2 314.42,67.22 314.75,67.24 315.09,67.25 315.42,67.26 315.75,67.27 316.09,67.28 316.42,67.28 316.75,67.29 317.09,67.29 317.42,67.29 317.76,67.3 318.09,67.3 318.42,67.3 318.76,67.3 319.09,67.3 319.43,67.3 319.76,67.3 320.09,67.3 320.43,67.3 320.76,67.3 321.1,67.3 321.43,67.3 321.76,67.3 322.1,67.3 322.43,67.3 322.76,67.3 323.1,67.3 323.43,67.3 323.77,67.3 324.1,67.3" fill="none" stroke="#7eae5c" stroke-width="1.25" stroke-linejoin="round" />
<polyline points="262,81.9 262.33,81.9 262.67,81.9 263,81.9 263.34,81.9 263.67,81.9 264,81.9 264.34,81.9 264.67,81.9 265,81.9 265.34,81.9 265.67,81.9 266.01,81.9 266.34,81.9 266.67,81.9 267.01,81.9 267.34,81.9 267.68,81.9 268.01,81.9 268.34,81.9 268.68,81.9 269.01,81.9 269.35,81.9 269.68,81.9 270.01,81.9 270.35,81.9 270.68,81.9 271.01,81.9 271.35,81.9 271.68,81.9 272.02,81.9 272.35,81.9 272.68,81.9 273.02,81.9 273.35,81.9 273.69,81.9 274.02,81.9 274.35,81.9 274.69,81.9 275.02,81.89 275.35,81.89 275.69,81.89 276.02,81.88 276.36,81.88 276.69,81.87 277.02,81.86 277.36,81.84 277.69,81.82 278.03,81.8 278.36,81.77 278.69,81.73 279.03,81.68 279.36,81.62 279.7,81.54 280.03,81.45 280.36,81.33 280.7,81.19 281.03,81.03 281.36,80.83 281.7,80.59 282.03,80.32 282.37,80 282.7,79.63 283.03,79.22 283.37,78.74 283.7,78.21 284.04,77.62 284.37,76.96 284.7,76.25 285.04,75.48 285.37,74.66 285.7,73.78 286.04,72.86 286.37,71.91 286.71,70.94 287.04,69.95 287.37,68.97 287.71,68 288.04,67.07 288.38,66.18 288.71,65.35 289.04,64.6 289.38,63.94 289.71,63.39 290.05,62.95 290.38,62.63 290.71,62.45 291.05,62.4 291.38,62.43 291.71,62.5 292.05,62.62 292.38,62.78 292.72,62.98 293.05,63.22 293.38,63.5 293.72,63.82 294.05,64.17 294.39,64.55 294.72,64.97 295.05,65.41 295.39,65.88 295.72,66.37 296.05,66.88 296.39,67.4 296.72,67.94 297.06,68.49 297.39,69.05 297.72,69.61 298.06,70.17 298.39,70.73 298.73,71.29 299.06,71.85 299.39,72.4 299.73,72.94 300.06,73.46 300.4,73.98 300.73,74.48 301.06,74.96 301.4,75.43 301.73,75.88 302.06,76.31 302.4,76.72 302.73,77.11 303.07,77.49 303.4,77.84 303.73,78.17 304.07,78.49 304.4,78.78 304.74,79.06 305.07,79.31 305.4,79.55 305.74,79.77 306.07,79.98 306.4,80.17 306.74,80.34 307.07,80.5 307.41,80.65 307.74,80.78 308.07,80.9 308.41,81.01 308.74,81.11 309.08,81.2 309.41,81.29 309.74,81.36 310.08,81.42 310.41,81.48 310.75,81.54 311.08,81.58 311.41,81.62 311.75,81.66 312.08,81.69 312.41,81.72 312.75,81.74 313.08,81.77 313.42,81.78 313.75,81.8 314.08,81.82 314.42,81.83 314.75,81.84 315.09,81.85 315.42,81.86 315.75,81.86 316.09,81.87 316.42,81.87 316.75,81.88 317.09,81.88 317.42,81.88 317.76,81.89 318.09,81.89 318.42,81.89 318.76,81.89 319.09,81.89 319.43,81.89 319.76,81.9 320.09,81.9 320.43,81.9 320.76,81.9 321.1,81.9 321.43,81.9 321.76,81.9 322.1,81.9 322.43,81.9 322.76,81.9 323.1,81.9 323.43,81.9 323.77,81.9 324.1,81.9" fill="none" stroke="#2a3e68" stroke-width="1.25" stroke-linejoin="round" />
<polyline points="262,97 262.33,97 262.67,97 263,97 263.34,97 263.67,97 264,97 264.34,97 264.67,97 265,97 265.34,97 265.67,97 266.01,97 266.34,97 266.67,97 267.01,97 267.34,96.99 267.68,96.99 268.01,96.98 268.34,96.97 268.68,96.96 269.01,96.94 269.35,96.92 269.68,96.88 270.01,96.83 270.35,96.77 270.68,96.68 271.01,96.56 271.35,96.4 271.68,96.2 272.02,95.94 272.35,95.61 272.68,95.2 273.02,94.69 273.35,94.06 273.69,93.31 274.02,92.42 274.35,91.37 274.69,90.16 275.02,88.78 275.35,87.23 275.69,85.5 276.02,83.62 276.36,81.61 276.69,79.47 277.02,77.26 277.36,75.02 277.69,72.78 278.03,70.6 278.36,68.54 278.69,66.64 279.03,64.98 279.36,63.58 279.7,62.51 280.03,61.78 280.36,61.43 280.7,61.48 281.03,61.99 281.36,62.95 281.7,64.31 282.03,66.04 282.37,68.06 282.7,70.3 283.03,72.7 283.37,75.17 283.7,77.65 284.04,80.07 284.37,82.38 284.7,84.55 285.04,86.53 285.37,88.31 285.7,89.89 286.04,91.25 286.37,92.42 286.71,93.4 287.04,94.2 287.37,94.86 287.71,95.38 288.04,95.79 288.38,96.11 288.71,96.35 289.04,96.54 289.38,96.67 289.71,96.77 290.05,96.84 290.38,96.89 290.71,96.93 291.05,96.95 291.38,96.97 291.71,96.98 292.05,96.99 292.38,96.99 292.72,97 293.05,97 293.38,97 293.72,97 294.05,97 294.39,97 294.72,97 295.05,97 295.39,97 295.72,97 296.05,97 296.39,97 296.72,97 297.06,97 297.39,97 297.72,97 298.06,97 298.39,97 298.73,97 299.06,97 299.39,97 299.73,97 300.06,97 300.4,97 300.73,97 301.06,97 301.4,97 301.73,97 302.06,97 302.4,97 302.73,97 303.07,97 303.4,97 303.73,97 304.07,97 304.4,97 304.74,97 305.07,97 305.4,97 305.74,97 306.07,97 306.4,97 306.74,97 307.07,97 307.41,97 307.74,97 308.07,97 308.41,97 308.74,97 309.08,97 309.41,97 309.74,97 310.08,97 310.41,97 310.75,97 311.08,97 311.41,97 311.75,97 312.08,97 312.41,97 312.75,97 313.08,97 313.42,97 313.75,97 314.08,97 314.42,97 314.75,97 315.09,97 315.42,97 315.75,97 316.09,97 316.42,97 316.75,97 317.09,97 317.42,97 317.76,97 318.09,97 318.42,97 318.76,97 319.09,97 319.43,97 319.76,97 320.09,97 320.43,97 320.76,97 321.1,97 321.43,97 321.76,97 322.1,97 322.43,97 322.76,97 323.1,97 323.43,97 323.77,97 324.1,97" fill="none" stroke="#b5134a" stroke-width="1.25" stroke-linejoin="round" />
<polyline points="325.3,67.3 325.63,67.3 325.97,67.3 326.3,67.3 326.63,67.3 326.97,67.3 327.3,67.3 327.64,67.3 327.97,67.3 328.3,67.3 328.64,67.3 328.97,67.3 329.3,67.3 329.64,67.3 329.97,67.3 330.31,67.3 330.64,67.3 330.97,67.29 331.31,67.29 331.64,67.29 331.97,67.29 332.31,67.29 332.64,67.29 332.97,67.28 333.31,67.28 333.64,67.28 333.98,67.27 334.31,67.27 334.64,67.26 334.98,67.26 335.31,67.25 335.64,67.24 335.98,67.23 336.31,67.22 336.65,67.21 336.98,67.2 337.31,67.18 337.65,67.16 337.98,67.14 338.31,67.12 338.65,67.09 338.98,67.06 339.31,67.03 339.65,66.99 339.98,66.95 340.32,66.9 340.65,66.85 340.98,66.8 341.32,66.73 341.65,66.66 341.98,66.58 342.32,66.5 342.65,66.4 342.99,66.3 343.32,66.18 343.65,66.06 343.99,65.92 344.32,65.77 344.65,65.61 344.99,65.44 345.32,65.25 345.66,65.05 345.99,64.84 346.32,64.6 346.66,64.36 346.99,64.09 347.32,63.81 347.66,63.51 347.99,63.2 348.32,62.87 348.66,62.52 348.99,62.15 349.33,61.76 349.66,61.36 349.99,60.94 350.33,60.51 350.66,60.06 350.99,59.6 351.33,59.12 351.66,58.63 352,58.13 352.33,57.62 352.66,57.1 353,56.57 353.33,56.04 353.66,55.51 354,54.97 354.33,54.44 354.66,53.91 355,53.39 355.33,52.87 355.67,52.37 356,51.88 356.33,51.4 356.67,50.94 357,50.5 357.33,50.08 357.67,49.69 358,49.33 358.34,48.99 358.67,48.68 359,48.41 359.34,48.17 359.67,47.96 360,47.79 360.34,47.66 360.67,47.57 361,47.52 361.34,47.5 361.67,47.58 362.01,47.78 362.34,48.1 362.67,48.53 363.01,49.07 363.34,49.7 363.67,50.42 364.01,51.22 364.34,52.07 364.68,52.96 365.01,53.89 365.34,54.84 365.68,55.79 366.01,56.74 366.34,57.67 366.68,58.58 367.01,59.45 367.34,60.27 367.68,61.05 368.01,61.78 368.35,62.45 368.68,63.07 369.01,63.63 369.35,64.14 369.68,64.6 370.01,65 370.35,65.36 370.68,65.67 371.02,65.94 371.35,66.17 371.68,66.37 372.02,66.54 372.35,66.68 372.68,66.8 373.02,66.9 373.35,66.98 373.69,67.04 374.02,67.1 374.35,67.14 374.69,67.18 375.02,67.2 375.35,67.23 375.69,67.24 376.02,67.26 376.35,67.27 376.69,67.28 377.02,67.28 377.36,67.29 377.69,67.29 378.02,67.29 378.36,67.29 378.69,67.3 379.02,67.3 379.36,67.3 379.69,67.3 380.03,67.3 380.36,67.3 380.69,67.3 381.03,67.3 381.36,67.3 381.69,67.3 382.03,67.3 382.36,67.3 382.69,67.3 383.03,67.3 383.36,67.3 383.7,67.3 384.03,67.3 384.36,67.3 384.7,67.3 385.03,67.3 385.36,67.3 385.7,67.3 386.03,67.3 386.37,67.3 386.7,67.3 387.03,67.3 387.37,67.3 387.7,67.3" fill="none" stroke="#7eae5c" stroke-width="1.25" stroke-linejoin="round" />
<polyline points="325.3,81.9 325.63,81.9 325.97,81.9 326.3,81.9 326.63,81.9 326.97,81.9 327.3,81.9 327.64,81.9 327.97,81.9 328.3,81.9 328.64,81.9 328.97,81.9 329.3,81.9 329.64,81.9 329.97,81.9 330.31,81.9 330.64,81.9 330.97,81.9 331.31,81.9 331.64,81.9 331.97,81.9 332.31,81.9 332.64,81.9 332.97,81.9 333.31,81.9 333.64,81.9 333.98,81.9 334.31,81.9 334.64,81.9 334.98,81.9 335.31,81.9 335.64,81.9 335.98,81.89 336.31,81.89 336.65,81.89 336.98,81.89 337.31,81.89 337.65,81.89 337.98,81.88 338.31,81.88 338.65,81.88 338.98,81.87 339.31,81.86 339.65,81.86 339.98,81.85 340.32,81.84 340.65,81.83 340.98,81.81 341.32,81.8 341.65,81.78 341.98,81.76 342.32,81.74 342.65,81.71 342.99,81.67 343.32,81.64 343.65,81.6 343.99,81.55 344.32,81.49 344.65,81.43 344.99,81.36 345.32,81.28 345.66,81.19 345.99,81.09 346.32,80.98 346.66,80.86 346.99,80.73 347.32,80.58 347.66,80.41 347.99,80.23 348.32,80.03 348.66,79.81 348.99,79.58 349.33,79.32 349.66,79.04 349.99,78.75 350.33,78.43 350.66,78.08 350.99,77.72 351.33,77.33 351.66,76.92 352,76.48 352.33,76.03 352.66,75.55 353,75.05 353.33,74.53 353.66,74 354,73.44 354.33,72.88 354.66,72.29 355,71.7 355.33,71.1 355.67,70.5 356,69.89 356.33,69.29 356.67,68.68 357,68.09 357.33,67.51 357.67,66.94 358,66.39 358.34,65.86 358.67,65.36 359,64.89 359.34,64.45 359.67,64.05 360,63.68 360.34,63.36 360.67,63.08 361,62.84 361.34,62.66 361.67,62.52 362.01,62.44 362.34,62.4 362.67,62.44 363.01,62.6 363.34,62.88 363.67,63.28 364.01,63.78 364.34,64.38 364.68,65.06 365.01,65.82 365.34,66.64 365.68,67.52 366.01,68.42 366.34,69.35 366.68,70.29 367.01,71.23 367.34,72.15 367.68,73.05 368.01,73.91 368.35,74.74 368.68,75.52 369.01,76.26 369.35,76.93 369.68,77.56 370.01,78.13 370.35,78.65 370.68,79.11 371.02,79.52 371.35,79.89 371.68,80.2 372.02,80.48 372.35,80.72 372.68,80.93 373.02,81.1 373.35,81.25 373.69,81.37 374.02,81.48 374.35,81.56 374.69,81.63 375.02,81.69 375.35,81.73 375.69,81.77 376.02,81.8 376.35,81.82 376.69,81.84 377.02,81.85 377.36,81.87 377.69,81.87 378.02,81.88 378.36,81.89 378.69,81.89 379.02,81.89 379.36,81.89 379.69,81.9 380.03,81.9 380.36,81.9 380.69,81.9 381.03,81.9 381.36,81.9 381.69,81.9 382.03,81.9 382.36,81.9 382.69,81.9 383.03,81.9 383.36,81.9 383.7,81.9 384.03,81.9 384.36,81.9 384.7,81.9 385.03,81.9 385.36,81.9 385.7,81.9 386.03,81.9 386.37,81.9 386.7,81.9 387.03,81.9 387.37,81.9 387.7,81.9" fill="none" stroke="#2a3e68" stroke-width="1.25" stroke-linejoin="round" />
<polyline points="325.3,97 325.63,97 325.97,97 326.3,97 326.63,97 326.97,97 327.3,97 327.64,97 327.97,97 328.3,97 328.64,97 328.97,97 329.3,97 329.64,97 329.97,97 330.31,97 330.64,97 330.97,97 331.31,97 331.64,97 331.97,97 332.31,97 332.64,97 332.97,97 333.31,97 333.64,97 333.98,97 334.31,97 334.64,96.99 334.98,96.99 335.31,96.98 335.64,96.96 335.98,96.94 336.31,96.89 336.65,96.82 336.98,96.71 337.31,96.54 337.65,96.29 337.98,95.92 338.31,95.41 338.65,94.71 338.98,93.77 339.31,92.54 339.65,91 339.98,89.1 340.32,86.84 340.65,84.23 340.98,81.31 341.32,78.17 341.65,74.91 341.98,71.67 342.32,68.63 342.65,65.93 342.99,63.76 343.32,62.24 343.65,61.48 343.99,61.53 344.32,62.38 344.65,63.98 344.99,66.23 345.32,68.97 345.66,72.05 345.99,75.3 346.32,78.55 346.66,81.67 346.99,84.56 347.32,87.13 347.66,89.35 347.99,91.2 348.32,92.7 348.66,93.89 348.99,94.8 349.33,95.48 349.66,95.97 349.99,96.32 350.33,96.56 350.66,96.72 350.99,96.83 351.33,96.9 351.66,96.94 352,96.97 352.33,96.98 352.66,96.99 353,96.99 353.33,97 353.66,97 354,97 354.33,97 354.66,97 355,97 355.33,97 355.67,97 356,97 356.33,97 356.67,97 357,97 357.33,97 357.67,97 358,97 358.34,97 358.67,97 359,97 359.34,97 359.67,97 360,97 360.34,97 360.67,97 361,97 361.34,97 361.67,97 362.01,97 362.34,97 362.67,97 363.01,97 363.34,97 363.67,97 364.01,97 364.34,97 364.68,97 365.01,97 365.34,97 365.68,97 366.01,97 366.34,97 366.68,97 367.01,97 367.34,97 367.68,97 368.01,97 368.35,97 368.68,97 369.01,97 369.35,97 369.68,97 370.01,97 370.35,97 370.68,97 371.02,97 371.35,97 371.68,97 372.02,97 372.35,97 372.68,97 373.02,97 373.35,97 373.69,97 374.02,97 374.35,97 374.69,97 375.02,97 375.35,97 375.69,97 376.02,97 376.35,97 376.69,97 377.02,97 377.36,97 377.69,97 378.02,97 378.36,97 378.69,97 379.02,97 379.36,97 379.69,97 380.03,97 380.36,97 380.69,97 381.03,97 381.36,97 381.69,97 382.03,97 382.36,97 382.69,97 383.03,97 383.36,97 383.7,97 384.03,97 384.36,97 384.7,97 385.03,97 385.36,97 385.7,97 386.03,97 386.37,97 386.7,97 387.03,97 387.37,97 387.7,97" fill="none" stroke="#b5134a" stroke-width="1.25" stroke-linejoin="round" />
<line x1="7.5" y1="33.4" x2="7.5" y2="97.3" stroke="#000" stroke-width="1.5" />
<line x1="71.5" y1="33.4" x2="71.5" y2="97.3" stroke="#000" stroke-width="1.5" />
<line x1="134.7" y1="33.4" x2="134.7" y2="97.3" stroke="#000" stroke-width="1.5" />
<line x1="198" y1="33.4" x2="198" y2="97.3" stroke="#000" stroke-width="1.5" />
<line x1="261.4" y1="33.4" x2="261.4" y2="97.3" stroke="#000" stroke-width="1.5" />
<line x1="324.7" y1="33.4" x2="324.7" y2="97.3" stroke="#000" stroke-width="1.5" />
<line x1="388.3" y1="33.4" x2="388.3" y2="97.3" stroke="#000" stroke-width="1.5" />
<line x1="7.5" y1="33.4" x2="388.3" y2="33.4" stroke="#000" stroke-width="1.5" />
<line x1="6.9" y1="97.5" x2="388.9" y2="97.5" stroke="#000" stroke-width="2" />
<line x1="9" y1="97.3" x2="9" y2="100.3" stroke="#000" stroke-width="0.9" />
<line x1="12.67" y1="97.3" x2="12.67" y2="99.5" stroke="#000" stroke-width="0.9" />
<line x1="14.82" y1="97.3" x2="14.82" y2="99.5" stroke="#000" stroke-width="0.9" />
<line x1="16.35" y1="97.3" x2="16.35" y2="99.5" stroke="#000" stroke-width="0.9" />
<line x1="17.53" y1="97.3" x2="17.53" y2="99.5" stroke="#000" stroke-width="0.9" />
<line x1="18.49" y1="97.3" x2="18.49" y2="99.5" stroke="#000" stroke-width="0.9" />
<line x1="19.31" y1="97.3" x2="19.31" y2="99.5" stroke="#000" stroke-width="0.9" />
<line x1="20.02" y1="97.3" x2="20.02" y2="99.5" stroke="#000" stroke-width="0.9" />
<line x1="20.64" y1="97.3" x2="20.64" y2="99.5" stroke="#000" stroke-width="0.9" />
<line x1="21.2" y1="97.3" x2="21.2" y2="100.3" stroke="#000" stroke-width="0.9" />
<line x1="24.87" y1="97.3" x2="24.87" y2="99.5" stroke="#000" stroke-width="0.9" />
<line x1="27.02" y1="97.3" x2="27.02" y2="99.5" stroke="#000" stroke-width="0.9" />
<line x1="28.55" y1="97.3" x2="28.55" y2="99.5" stroke="#000" stroke-width="0.9" />
<line x1="29.73" y1="97.3" x2="29.73" y2="99.5" stroke="#000" stroke-width="0.9" />
<line x1="30.69" y1="97.3" x2="30.69" y2="99.5" stroke="#000" stroke-width="0.9" />
<line x1="31.51" y1="97.3" x2="31.51" y2="99.5" stroke="#000" stroke-width="0.9" />
<line x1="32.22" y1="97.3" x2="32.22" y2="99.5" stroke="#000" stroke-width="0.9" />
<line x1="32.84" y1="97.3" x2="32.84" y2="99.5" stroke="#000" stroke-width="0.9" />
<line x1="33.4" y1="97.3" x2="33.4" y2="100.3" stroke="#000" stroke-width="0.9" />
<line x1="37.07" y1="97.3" x2="37.07" y2="99.5" stroke="#000" stroke-width="0.9" />
<line x1="39.22" y1="97.3" x2="39.22" y2="99.5" stroke="#000" stroke-width="0.9" />
<line x1="40.75" y1="97.3" x2="40.75" y2="99.5" stroke="#000" stroke-width="0.9" />
<line x1="41.93" y1="97.3" x2="41.93" y2="99.5" stroke="#000" stroke-width="0.9" />
<line x1="42.89" y1="97.3" x2="42.89" y2="99.5" stroke="#000" stroke-width="0.9" />
<line x1="43.71" y1="97.3" x2="43.71" y2="99.5" stroke="#000" stroke-width="0.9" />
<line x1="44.42" y1="97.3" x2="44.42" y2="99.5" stroke="#000" stroke-width="0.9" />
<line x1="45.04" y1="97.3" x2="45.04" y2="99.5" stroke="#000" stroke-width="0.9" />
<line x1="45.6" y1="97.3" x2="45.6" y2="100.3" stroke="#000" stroke-width="0.9" />
<line x1="49.27" y1="97.3" x2="49.27" y2="99.5" stroke="#000" stroke-width="0.9" />
<line x1="51.42" y1="97.3" x2="51.42" y2="99.5" stroke="#000" stroke-width="0.9" />
<line x1="52.95" y1="97.3" x2="52.95" y2="99.5" stroke="#000" stroke-width="0.9" />
<line x1="54.13" y1="97.3" x2="54.13" y2="99.5" stroke="#000" stroke-width="0.9" />
<line x1="55.09" y1="97.3" x2="55.09" y2="99.5" stroke="#000" stroke-width="0.9" />
<line x1="55.91" y1="97.3" x2="55.91" y2="99.5" stroke="#000" stroke-width="0.9" />
<line x1="56.62" y1="97.3" x2="56.62" y2="99.5" stroke="#000" stroke-width="0.9" />
<line x1="57.24" y1="97.3" x2="57.24" y2="99.5" stroke="#000" stroke-width="0.9" />
<line x1="57.8" y1="97.3" x2="57.8" y2="100.3" stroke="#000" stroke-width="0.9" />
<line x1="61.47" y1="97.3" x2="61.47" y2="99.5" stroke="#000" stroke-width="0.9" />
<line x1="63.62" y1="97.3" x2="63.62" y2="99.5" stroke="#000" stroke-width="0.9" />
<line x1="65.15" y1="97.3" x2="65.15" y2="99.5" stroke="#000" stroke-width="0.9" />
<line x1="66.33" y1="97.3" x2="66.33" y2="99.5" stroke="#000" stroke-width="0.9" />
<line x1="67.29" y1="97.3" x2="67.29" y2="99.5" stroke="#000" stroke-width="0.9" />
<line x1="68.11" y1="97.3" x2="68.11" y2="99.5" stroke="#000" stroke-width="0.9" />
<line x1="68.82" y1="97.3" x2="68.82" y2="99.5" stroke="#000" stroke-width="0.9" />
<line x1="69.44" y1="97.3" x2="69.44" y2="99.5" stroke="#000" stroke-width="0.9" />
<line x1="73" y1="97.3" x2="73" y2="100.3" stroke="#000" stroke-width="0.9" />
<line x1="76.62" y1="97.3" x2="76.62" y2="99.5" stroke="#000" stroke-width="0.9" />
<line x1="78.74" y1="97.3" x2="78.74" y2="99.5" stroke="#000" stroke-width="0.9" />
<line x1="80.25" y1="97.3" x2="80.25" y2="99.5" stroke="#000" stroke-width="0.9" />
<line x1="81.42" y1="97.3" x2="81.42" y2="99.5" stroke="#000" stroke-width="0.9" />
<line x1="82.37" y1="97.3" x2="82.37" y2="99.5" stroke="#000" stroke-width="0.9" />
<line x1="83.17" y1="97.3" x2="83.17" y2="99.5" stroke="#000" stroke-width="0.9" />
<line x1="83.87" y1="97.3" x2="83.87" y2="99.5" stroke="#000" stroke-width="0.9" />
<line x1="84.49" y1="97.3" x2="84.49" y2="99.5" stroke="#000" stroke-width="0.9" />
<line x1="85.04" y1="97.3" x2="85.04" y2="100.3" stroke="#000" stroke-width="0.9" />
<line x1="88.66" y1="97.3" x2="88.66" y2="99.5" stroke="#000" stroke-width="0.9" />
<line x1="90.78" y1="97.3" x2="90.78" y2="99.5" stroke="#000" stroke-width="0.9" />
<line x1="92.29" y1="97.3" x2="92.29" y2="99.5" stroke="#000" stroke-width="0.9" />
<line x1="93.46" y1="97.3" x2="93.46" y2="99.5" stroke="#000" stroke-width="0.9" />
<line x1="94.41" y1="97.3" x2="94.41" y2="99.5" stroke="#000" stroke-width="0.9" />
<line x1="95.21" y1="97.3" x2="95.21" y2="99.5" stroke="#000" stroke-width="0.9" />
<line x1="95.91" y1="97.3" x2="95.91" y2="99.5" stroke="#000" stroke-width="0.9" />
<line x1="96.53" y1="97.3" x2="96.53" y2="99.5" stroke="#000" stroke-width="0.9" />
<line x1="97.08" y1="97.3" x2="97.08" y2="100.3" stroke="#000" stroke-width="0.9" />
<line x1="100.7" y1="97.3" x2="100.7" y2="99.5" stroke="#000" stroke-width="0.9" />
<line x1="102.82" y1="97.3" x2="102.82" y2="99.5" stroke="#000" stroke-width="0.9" />
<line x1="104.33" y1="97.3" x2="104.33" y2="99.5" stroke="#000" stroke-width="0.9" />
<line x1="105.5" y1="97.3" x2="105.5" y2="99.5" stroke="#000" stroke-width="0.9" />
<line x1="106.45" y1="97.3" x2="106.45" y2="99.5" stroke="#000" stroke-width="0.9" />
<line x1="107.25" y1="97.3" x2="107.25" y2="99.5" stroke="#000" stroke-width="0.9" />
<line x1="107.95" y1="97.3" x2="107.95" y2="99.5" stroke="#000" stroke-width="0.9" />
<line x1="108.57" y1="97.3" x2="108.57" y2="99.5" stroke="#000" stroke-width="0.9" />
<line x1="109.12" y1="97.3" x2="109.12" y2="100.3" stroke="#000" stroke-width="0.9" />
<line x1="112.74" y1="97.3" x2="112.74" y2="99.5" stroke="#000" stroke-width="0.9" />
<line x1="114.86" y1="97.3" x2="114.86" y2="99.5" stroke="#000" stroke-width="0.9" />
<line x1="116.37" y1="97.3" x2="116.37" y2="99.5" stroke="#000" stroke-width="0.9" />
<line x1="117.54" y1="97.3" x2="117.54" y2="99.5" stroke="#000" stroke-width="0.9" />
<line x1="118.49" y1="97.3" x2="118.49" y2="99.5" stroke="#000" stroke-width="0.9" />
<line x1="119.29" y1="97.3" x2="119.29" y2="99.5" stroke="#000" stroke-width="0.9" />
<line x1="119.99" y1="97.3" x2="119.99" y2="99.5" stroke="#000" stroke-width="0.9" />
<line x1="120.61" y1="97.3" x2="120.61" y2="99.5" stroke="#000" stroke-width="0.9" />
<line x1="121.16" y1="97.3" x2="121.16" y2="100.3" stroke="#000" stroke-width="0.9" />
<line x1="124.78" y1="97.3" x2="124.78" y2="99.5" stroke="#000" stroke-width="0.9" />
<line x1="126.9" y1="97.3" x2="126.9" y2="99.5" stroke="#000" stroke-width="0.9" />
<line x1="128.41" y1="97.3" x2="128.41" y2="99.5" stroke="#000" stroke-width="0.9" />
<line x1="129.58" y1="97.3" x2="129.58" y2="99.5" stroke="#000" stroke-width="0.9" />
<line x1="130.53" y1="97.3" x2="130.53" y2="99.5" stroke="#000" stroke-width="0.9" />
<line x1="131.33" y1="97.3" x2="131.33" y2="99.5" stroke="#000" stroke-width="0.9" />
<line x1="132.03" y1="97.3" x2="132.03" y2="99.5" stroke="#000" stroke-width="0.9" />
<line x1="132.65" y1="97.3" x2="132.65" y2="99.5" stroke="#000" stroke-width="0.9" />
<line x1="136.2" y1="97.3" x2="136.2" y2="100.3" stroke="#000" stroke-width="0.9" />
<line x1="139.83" y1="97.3" x2="139.83" y2="99.5" stroke="#000" stroke-width="0.9" />
<line x1="141.95" y1="97.3" x2="141.95" y2="99.5" stroke="#000" stroke-width="0.9" />
<line x1="143.46" y1="97.3" x2="143.46" y2="99.5" stroke="#000" stroke-width="0.9" />
<line x1="144.63" y1="97.3" x2="144.63" y2="99.5" stroke="#000" stroke-width="0.9" />
<line x1="145.58" y1="97.3" x2="145.58" y2="99.5" stroke="#000" stroke-width="0.9" />
<line x1="146.39" y1="97.3" x2="146.39" y2="99.5" stroke="#000" stroke-width="0.9" />
<line x1="147.09" y1="97.3" x2="147.09" y2="99.5" stroke="#000" stroke-width="0.9" />
<line x1="147.71" y1="97.3" x2="147.71" y2="99.5" stroke="#000" stroke-width="0.9" />
<line x1="148.26" y1="97.3" x2="148.26" y2="100.3" stroke="#000" stroke-width="0.9" />
<line x1="151.89" y1="97.3" x2="151.89" y2="99.5" stroke="#000" stroke-width="0.9" />
<line x1="154.01" y1="97.3" x2="154.01" y2="99.5" stroke="#000" stroke-width="0.9" />
<line x1="155.52" y1="97.3" x2="155.52" y2="99.5" stroke="#000" stroke-width="0.9" />
<line x1="156.69" y1="97.3" x2="156.69" y2="99.5" stroke="#000" stroke-width="0.9" />
<line x1="157.64" y1="97.3" x2="157.64" y2="99.5" stroke="#000" stroke-width="0.9" />
<line x1="158.45" y1="97.3" x2="158.45" y2="99.5" stroke="#000" stroke-width="0.9" />
<line x1="159.15" y1="97.3" x2="159.15" y2="99.5" stroke="#000" stroke-width="0.9" />
<line x1="159.77" y1="97.3" x2="159.77" y2="99.5" stroke="#000" stroke-width="0.9" />
<line x1="160.32" y1="97.3" x2="160.32" y2="100.3" stroke="#000" stroke-width="0.9" />
<line x1="163.95" y1="97.3" x2="163.95" y2="99.5" stroke="#000" stroke-width="0.9" />
<line x1="166.07" y1="97.3" x2="166.07" y2="99.5" stroke="#000" stroke-width="0.9" />
<line x1="167.58" y1="97.3" x2="167.58" y2="99.5" stroke="#000" stroke-width="0.9" />
<line x1="168.75" y1="97.3" x2="168.75" y2="99.5" stroke="#000" stroke-width="0.9" />
<line x1="169.7" y1="97.3" x2="169.7" y2="99.5" stroke="#000" stroke-width="0.9" />
<line x1="170.51" y1="97.3" x2="170.51" y2="99.5" stroke="#000" stroke-width="0.9" />
<line x1="171.21" y1="97.3" x2="171.21" y2="99.5" stroke="#000" stroke-width="0.9" />
<line x1="171.83" y1="97.3" x2="171.83" y2="99.5" stroke="#000" stroke-width="0.9" />
<line x1="172.38" y1="97.3" x2="172.38" y2="100.3" stroke="#000" stroke-width="0.9" />
<line x1="176.01" y1="97.3" x2="176.01" y2="99.5" stroke="#000" stroke-width="0.9" />
<line x1="178.13" y1="97.3" x2="178.13" y2="99.5" stroke="#000" stroke-width="0.9" />
<line x1="179.64" y1="97.3" x2="179.64" y2="99.5" stroke="#000" stroke-width="0.9" />
<line x1="180.81" y1="97.3" x2="180.81" y2="99.5" stroke="#000" stroke-width="0.9" />
<line x1="181.76" y1="97.3" x2="181.76" y2="99.5" stroke="#000" stroke-width="0.9" />
<line x1="182.57" y1="97.3" x2="182.57" y2="99.5" stroke="#000" stroke-width="0.9" />
<line x1="183.27" y1="97.3" x2="183.27" y2="99.5" stroke="#000" stroke-width="0.9" />
<line x1="183.89" y1="97.3" x2="183.89" y2="99.5" stroke="#000" stroke-width="0.9" />
<line x1="184.44" y1="97.3" x2="184.44" y2="100.3" stroke="#000" stroke-width="0.9" />
<line x1="188.07" y1="97.3" x2="188.07" y2="99.5" stroke="#000" stroke-width="0.9" />
<line x1="190.19" y1="97.3" x2="190.19" y2="99.5" stroke="#000" stroke-width="0.9" />
<line x1="191.7" y1="97.3" x2="191.7" y2="99.5" stroke="#000" stroke-width="0.9" />
<line x1="192.87" y1="97.3" x2="192.87" y2="99.5" stroke="#000" stroke-width="0.9" />
<line x1="193.82" y1="97.3" x2="193.82" y2="99.5" stroke="#000" stroke-width="0.9" />
<line x1="194.63" y1="97.3" x2="194.63" y2="99.5" stroke="#000" stroke-width="0.9" />
<line x1="195.33" y1="97.3" x2="195.33" y2="99.5" stroke="#000" stroke-width="0.9" />
<line x1="195.95" y1="97.3" x2="195.95" y2="99.5" stroke="#000" stroke-width="0.9" />
<line x1="199.5" y1="97.3" x2="199.5" y2="100.3" stroke="#000" stroke-width="0.9" />
<line x1="203.14" y1="97.3" x2="203.14" y2="99.5" stroke="#000" stroke-width="0.9" />
<line x1="205.26" y1="97.3" x2="205.26" y2="99.5" stroke="#000" stroke-width="0.9" />
<line x1="206.77" y1="97.3" x2="206.77" y2="99.5" stroke="#000" stroke-width="0.9" />
<line x1="207.94" y1="97.3" x2="207.94" y2="99.5" stroke="#000" stroke-width="0.9" />
<line x1="208.9" y1="97.3" x2="208.9" y2="99.5" stroke="#000" stroke-width="0.9" />
<line x1="209.71" y1="97.3" x2="209.71" y2="99.5" stroke="#000" stroke-width="0.9" />
<line x1="210.41" y1="97.3" x2="210.41" y2="99.5" stroke="#000" stroke-width="0.9" />
<line x1="211.03" y1="97.3" x2="211.03" y2="99.5" stroke="#000" stroke-width="0.9" />
<line x1="211.58" y1="97.3" x2="211.58" y2="100.3" stroke="#000" stroke-width="0.9" />
<line x1="215.22" y1="97.3" x2="215.22" y2="99.5" stroke="#000" stroke-width="0.9" />
<line x1="217.34" y1="97.3" x2="217.34" y2="99.5" stroke="#000" stroke-width="0.9" />
<line x1="218.85" y1="97.3" x2="218.85" y2="99.5" stroke="#000" stroke-width="0.9" />
<line x1="220.02" y1="97.3" x2="220.02" y2="99.5" stroke="#000" stroke-width="0.9" />
<line x1="220.98" y1="97.3" x2="220.98" y2="99.5" stroke="#000" stroke-width="0.9" />
<line x1="221.79" y1="97.3" x2="221.79" y2="99.5" stroke="#000" stroke-width="0.9" />
<line x1="222.49" y1="97.3" x2="222.49" y2="99.5" stroke="#000" stroke-width="0.9" />
<line x1="223.11" y1="97.3" x2="223.11" y2="99.5" stroke="#000" stroke-width="0.9" />
<line x1="223.66" y1="97.3" x2="223.66" y2="100.3" stroke="#000" stroke-width="0.9" />
<line x1="227.3" y1="97.3" x2="227.3" y2="99.5" stroke="#000" stroke-width="0.9" />
<line x1="229.42" y1="97.3" x2="229.42" y2="99.5" stroke="#000" stroke-width="0.9" />
<line x1="230.93" y1="97.3" x2="230.93" y2="99.5" stroke="#000" stroke-width="0.9" />
<line x1="232.1" y1="97.3" x2="232.1" y2="99.5" stroke="#000" stroke-width="0.9" />
<line x1="233.06" y1="97.3" x2="233.06" y2="99.5" stroke="#000" stroke-width="0.9" />
<line x1="233.87" y1="97.3" x2="233.87" y2="99.5" stroke="#000" stroke-width="0.9" />
<line x1="234.57" y1="97.3" x2="234.57" y2="99.5" stroke="#000" stroke-width="0.9" />
<line x1="235.19" y1="97.3" x2="235.19" y2="99.5" stroke="#000" stroke-width="0.9" />
<line x1="235.74" y1="97.3" x2="235.74" y2="100.3" stroke="#000" stroke-width="0.9" />
<line x1="239.38" y1="97.3" x2="239.38" y2="99.5" stroke="#000" stroke-width="0.9" />
<line x1="241.5" y1="97.3" x2="241.5" y2="99.5" stroke="#000" stroke-width="0.9" />
<line x1="243.01" y1="97.3" x2="243.01" y2="99.5" stroke="#000" stroke-width="0.9" />
<line x1="244.18" y1="97.3" x2="244.18" y2="99.5" stroke="#000" stroke-width="0.9" />
<line x1="245.14" y1="97.3" x2="245.14" y2="99.5" stroke="#000" stroke-width="0.9" />
<line x1="245.95" y1="97.3" x2="245.95" y2="99.5" stroke="#000" stroke-width="0.9" />
<line x1="246.65" y1="97.3" x2="246.65" y2="99.5" stroke="#000" stroke-width="0.9" />
<line x1="247.27" y1="97.3" x2="247.27" y2="99.5" stroke="#000" stroke-width="0.9" />
<line x1="247.82" y1="97.3" x2="247.82" y2="100.3" stroke="#000" stroke-width="0.9" />
<line x1="251.46" y1="97.3" x2="251.46" y2="99.5" stroke="#000" stroke-width="0.9" />
<line x1="253.58" y1="97.3" x2="253.58" y2="99.5" stroke="#000" stroke-width="0.9" />
<line x1="255.09" y1="97.3" x2="255.09" y2="99.5" stroke="#000" stroke-width="0.9" />
<line x1="256.26" y1="97.3" x2="256.26" y2="99.5" stroke="#000" stroke-width="0.9" />
<line x1="257.22" y1="97.3" x2="257.22" y2="99.5" stroke="#000" stroke-width="0.9" />
<line x1="258.03" y1="97.3" x2="258.03" y2="99.5" stroke="#000" stroke-width="0.9" />
<line x1="258.73" y1="97.3" x2="258.73" y2="99.5" stroke="#000" stroke-width="0.9" />
<line x1="259.35" y1="97.3" x2="259.35" y2="99.5" stroke="#000" stroke-width="0.9" />
<line x1="262.9" y1="97.3" x2="262.9" y2="100.3" stroke="#000" stroke-width="0.9" />
<line x1="266.53" y1="97.3" x2="266.53" y2="99.5" stroke="#000" stroke-width="0.9" />
<line x1="268.65" y1="97.3" x2="268.65" y2="99.5" stroke="#000" stroke-width="0.9" />
<line x1="270.16" y1="97.3" x2="270.16" y2="99.5" stroke="#000" stroke-width="0.9" />
<line x1="271.33" y1="97.3" x2="271.33" y2="99.5" stroke="#000" stroke-width="0.9" />
<line x1="272.28" y1="97.3" x2="272.28" y2="99.5" stroke="#000" stroke-width="0.9" />
<line x1="273.09" y1="97.3" x2="273.09" y2="99.5" stroke="#000" stroke-width="0.9" />
<line x1="273.79" y1="97.3" x2="273.79" y2="99.5" stroke="#000" stroke-width="0.9" />
<line x1="274.41" y1="97.3" x2="274.41" y2="99.5" stroke="#000" stroke-width="0.9" />
<line x1="274.96" y1="97.3" x2="274.96" y2="100.3" stroke="#000" stroke-width="0.9" />
<line x1="278.59" y1="97.3" x2="278.59" y2="99.5" stroke="#000" stroke-width="0.9" />
<line x1="280.71" y1="97.3" x2="280.71" y2="99.5" stroke="#000" stroke-width="0.9" />
<line x1="282.22" y1="97.3" x2="282.22" y2="99.5" stroke="#000" stroke-width="0.9" />
<line x1="283.39" y1="97.3" x2="283.39" y2="99.5" stroke="#000" stroke-width="0.9" />
<line x1="284.34" y1="97.3" x2="284.34" y2="99.5" stroke="#000" stroke-width="0.9" />
<line x1="285.15" y1="97.3" x2="285.15" y2="99.5" stroke="#000" stroke-width="0.9" />
<line x1="285.85" y1="97.3" x2="285.85" y2="99.5" stroke="#000" stroke-width="0.9" />
<line x1="286.47" y1="97.3" x2="286.47" y2="99.5" stroke="#000" stroke-width="0.9" />
<line x1="287.02" y1="97.3" x2="287.02" y2="100.3" stroke="#000" stroke-width="0.9" />
<line x1="290.65" y1="97.3" x2="290.65" y2="99.5" stroke="#000" stroke-width="0.9" />
<line x1="292.77" y1="97.3" x2="292.77" y2="99.5" stroke="#000" stroke-width="0.9" />
<line x1="294.28" y1="97.3" x2="294.28" y2="99.5" stroke="#000" stroke-width="0.9" />
<line x1="295.45" y1="97.3" x2="295.45" y2="99.5" stroke="#000" stroke-width="0.9" />
<line x1="296.4" y1="97.3" x2="296.4" y2="99.5" stroke="#000" stroke-width="0.9" />
<line x1="297.21" y1="97.3" x2="297.21" y2="99.5" stroke="#000" stroke-width="0.9" />
<line x1="297.91" y1="97.3" x2="297.91" y2="99.5" stroke="#000" stroke-width="0.9" />
<line x1="298.53" y1="97.3" x2="298.53" y2="99.5" stroke="#000" stroke-width="0.9" />
<line x1="299.08" y1="97.3" x2="299.08" y2="100.3" stroke="#000" stroke-width="0.9" />
<line x1="302.71" y1="97.3" x2="302.71" y2="99.5" stroke="#000" stroke-width="0.9" />
<line x1="304.83" y1="97.3" x2="304.83" y2="99.5" stroke="#000" stroke-width="0.9" />
<line x1="306.34" y1="97.3" x2="306.34" y2="99.5" stroke="#000" stroke-width="0.9" />
<line x1="307.51" y1="97.3" x2="307.51" y2="99.5" stroke="#000" stroke-width="0.9" />
<line x1="308.46" y1="97.3" x2="308.46" y2="99.5" stroke="#000" stroke-width="0.9" />
<line x1="309.27" y1="97.3" x2="309.27" y2="99.5" stroke="#000" stroke-width="0.9" />
<line x1="309.97" y1="97.3" x2="309.97" y2="99.5" stroke="#000" stroke-width="0.9" />
<line x1="310.59" y1="97.3" x2="310.59" y2="99.5" stroke="#000" stroke-width="0.9" />
<line x1="311.14" y1="97.3" x2="311.14" y2="100.3" stroke="#000" stroke-width="0.9" />
<line x1="314.77" y1="97.3" x2="314.77" y2="99.5" stroke="#000" stroke-width="0.9" />
<line x1="316.89" y1="97.3" x2="316.89" y2="99.5" stroke="#000" stroke-width="0.9" />
<line x1="318.4" y1="97.3" x2="318.4" y2="99.5" stroke="#000" stroke-width="0.9" />
<line x1="319.57" y1="97.3" x2="319.57" y2="99.5" stroke="#000" stroke-width="0.9" />
<line x1="320.52" y1="97.3" x2="320.52" y2="99.5" stroke="#000" stroke-width="0.9" />
<line x1="321.33" y1="97.3" x2="321.33" y2="99.5" stroke="#000" stroke-width="0.9" />
<line x1="322.03" y1="97.3" x2="322.03" y2="99.5" stroke="#000" stroke-width="0.9" />
<line x1="322.65" y1="97.3" x2="322.65" y2="99.5" stroke="#000" stroke-width="0.9" />
<line x1="326.2" y1="97.3" x2="326.2" y2="100.3" stroke="#000" stroke-width="0.9" />
<line x1="329.85" y1="97.3" x2="329.85" y2="99.5" stroke="#000" stroke-width="0.9" />
<line x1="331.98" y1="97.3" x2="331.98" y2="99.5" stroke="#000" stroke-width="0.9" />
<line x1="333.5" y1="97.3" x2="333.5" y2="99.5" stroke="#000" stroke-width="0.9" />
<line x1="334.67" y1="97.3" x2="334.67" y2="99.5" stroke="#000" stroke-width="0.9" />
<line x1="335.63" y1="97.3" x2="335.63" y2="99.5" stroke="#000" stroke-width="0.9" />
<line x1="336.44" y1="97.3" x2="336.44" y2="99.5" stroke="#000" stroke-width="0.9" />
<line x1="337.15" y1="97.3" x2="337.15" y2="99.5" stroke="#000" stroke-width="0.9" />
<line x1="337.77" y1="97.3" x2="337.77" y2="99.5" stroke="#000" stroke-width="0.9" />
<line x1="338.32" y1="97.3" x2="338.32" y2="100.3" stroke="#000" stroke-width="0.9" />
<line x1="341.97" y1="97.3" x2="341.97" y2="99.5" stroke="#000" stroke-width="0.9" />
<line x1="344.1" y1="97.3" x2="344.1" y2="99.5" stroke="#000" stroke-width="0.9" />
<line x1="345.62" y1="97.3" x2="345.62" y2="99.5" stroke="#000" stroke-width="0.9" />
<line x1="346.79" y1="97.3" x2="346.79" y2="99.5" stroke="#000" stroke-width="0.9" />
<line x1="347.75" y1="97.3" x2="347.75" y2="99.5" stroke="#000" stroke-width="0.9" />
<line x1="348.56" y1="97.3" x2="348.56" y2="99.5" stroke="#000" stroke-width="0.9" />
<line x1="349.27" y1="97.3" x2="349.27" y2="99.5" stroke="#000" stroke-width="0.9" />
<line x1="349.89" y1="97.3" x2="349.89" y2="99.5" stroke="#000" stroke-width="0.9" />
<line x1="350.44" y1="97.3" x2="350.44" y2="100.3" stroke="#000" stroke-width="0.9" />
<line x1="354.09" y1="97.3" x2="354.09" y2="99.5" stroke="#000" stroke-width="0.9" />
<line x1="356.22" y1="97.3" x2="356.22" y2="99.5" stroke="#000" stroke-width="0.9" />
<line x1="357.74" y1="97.3" x2="357.74" y2="99.5" stroke="#000" stroke-width="0.9" />
<line x1="358.91" y1="97.3" x2="358.91" y2="99.5" stroke="#000" stroke-width="0.9" />
<line x1="359.87" y1="97.3" x2="359.87" y2="99.5" stroke="#000" stroke-width="0.9" />
<line x1="360.68" y1="97.3" x2="360.68" y2="99.5" stroke="#000" stroke-width="0.9" />
<line x1="361.39" y1="97.3" x2="361.39" y2="99.5" stroke="#000" stroke-width="0.9" />
<line x1="362.01" y1="97.3" x2="362.01" y2="99.5" stroke="#000" stroke-width="0.9" />
<line x1="362.56" y1="97.3" x2="362.56" y2="100.3" stroke="#000" stroke-width="0.9" />
<line x1="366.21" y1="97.3" x2="366.21" y2="99.5" stroke="#000" stroke-width="0.9" />
<line x1="368.34" y1="97.3" x2="368.34" y2="99.5" stroke="#000" stroke-width="0.9" />
<line x1="369.86" y1="97.3" x2="369.86" y2="99.5" stroke="#000" stroke-width="0.9" />
<line x1="371.03" y1="97.3" x2="371.03" y2="99.5" stroke="#000" stroke-width="0.9" />
<line x1="371.99" y1="97.3" x2="371.99" y2="99.5" stroke="#000" stroke-width="0.9" />
<line x1="372.8" y1="97.3" x2="372.8" y2="99.5" stroke="#000" stroke-width="0.9" />
<line x1="373.51" y1="97.3" x2="373.51" y2="99.5" stroke="#000" stroke-width="0.9" />
<line x1="374.13" y1="97.3" x2="374.13" y2="99.5" stroke="#000" stroke-width="0.9" />
<line x1="374.68" y1="97.3" x2="374.68" y2="100.3" stroke="#000" stroke-width="0.9" />
<line x1="378.33" y1="97.3" x2="378.33" y2="99.5" stroke="#000" stroke-width="0.9" />
<line x1="380.46" y1="97.3" x2="380.46" y2="99.5" stroke="#000" stroke-width="0.9" />
<line x1="381.98" y1="97.3" x2="381.98" y2="99.5" stroke="#000" stroke-width="0.9" />
<line x1="383.15" y1="97.3" x2="383.15" y2="99.5" stroke="#000" stroke-width="0.9" />
<line x1="384.11" y1="97.3" x2="384.11" y2="99.5" stroke="#000" stroke-width="0.9" />
<line x1="384.92" y1="97.3" x2="384.92" y2="99.5" stroke="#000" stroke-width="0.9" />
<line x1="385.63" y1="97.3" x2="385.63" y2="99.5" stroke="#000" stroke-width="0.9" />
<line x1="386.25" y1="97.3" x2="386.25" y2="99.5" stroke="#000" stroke-width="0.9" />
<text x="390.5" y="67.5" font-size="6.6" text-anchor="start" dominant-baseline="central" fill="#222" textLength="44.5" lengthAdjust="spacingAndGlyphs" >CD4 Allo iTreg</text>
<text x="390.5" y="83" font-size="6.6" text-anchor="start" dominant-baseline="central" fill="#222" textLength="44.5" lengthAdjust="spacingAndGlyphs" >CD8 Allo iTreg</text>
<text x="390.5" y="96.6" font-size="6.6" text-anchor="start" dominant-baseline="central" fill="#222" textLength="21.5" lengthAdjust="spacingAndGlyphs" >Isotype</text>
<text x="7.6" y="125" font-size="11.4" text-anchor="start" dominant-baseline="central" fill="#000" font-weight="bold" >B</text>
<line x1="48.8" y1="132.6" x2="48.8" y2="221.3" stroke="#111" stroke-width="1.6" />
<line x1="45.8" y1="220.6" x2="48.8" y2="220.6" stroke="#111" stroke-width="1.2" />
<text x="42.3" y="220.6" font-size="6.3" text-anchor="end" dominant-baseline="central" fill="#333" >0</text>
<line x1="45.8" y1="203.5" x2="48.8" y2="203.5" stroke="#111" stroke-width="1.2" />
<text x="42.3" y="203.5" font-size="6.3" text-anchor="end" dominant-baseline="central" fill="#333" >20</text>
<line x1="45.8" y1="186.4" x2="48.8" y2="186.4" stroke="#111" stroke-width="1.2" />
<text x="42.3" y="186.4" font-size="6.3" text-anchor="end" dominant-baseline="central" fill="#333" >40</text>
<line x1="45.8" y1="169.3" x2="48.8" y2="169.3" stroke="#111" stroke-width="1.2" />
<text x="42.3" y="169.3" font-size="6.3" text-anchor="end" dominant-baseline="central" fill="#333" >60</text>
<line x1="45.8" y1="152.2" x2="48.8" y2="152.2" stroke="#111" stroke-width="1.2" />
<text x="42.3" y="152.2" font-size="6.3" text-anchor="end" dominant-baseline="central" fill="#333" >80</text>
<line x1="45.8" y1="135.1" x2="48.8" y2="135.1" stroke="#111" stroke-width="1.2" />
<text x="42.3" y="135.1" font-size="6.3" text-anchor="end" dominant-baseline="central" fill="#333" >100</text>
<line x1="56.2" y1="212.48" x2="56.2" y2="217.18" stroke="#111" stroke-width="1.35" />
<line x1="53.5" y1="212.48" x2="58.9" y2="212.48" stroke="#111" stroke-width="1.4" />
<rect x="52.3" y="217.18" width="7.8" height="3.42" fill="#bb0532" stroke="#920526" stroke-width="0.5" />
<line x1="67.77" y1="144.5" x2="67.77" y2="159.04" stroke="#111" stroke-width="1.35" />
<line x1="65.07" y1="144.5" x2="70.47" y2="144.5" stroke="#111" stroke-width="1.4" />
<rect x="63.87" y="159.04" width="7.8" height="61.56" fill="#bb0532" stroke="#920526" stroke-width="0.5" />
<line x1="79.34" y1="184.26" x2="79.34" y2="192.38" stroke="#111" stroke-width="1.35" />
<line x1="76.64" y1="184.26" x2="82.04" y2="184.26" stroke="#111" stroke-width="1.4" />
<rect x="75.44" y="192.38" width="7.8" height="28.22" fill="#68a83c" stroke="#4f8a2c" stroke-width="0.5" />
<line x1="90.91" y1="175.71" x2="90.91" y2="185.54" stroke="#111" stroke-width="1.35" />
<line x1="88.21" y1="175.71" x2="93.61" y2="175.71" stroke="#111" stroke-width="1.4" />
<rect x="87.01" y="185.54" width="7.8" height="35.06" fill="#68a83c" stroke="#4f8a2c" stroke-width="0.5" />
<line x1="102.48" y1="167.59" x2="102.48" y2="177.42" stroke="#111" stroke-width="1.35" />
<line x1="99.78" y1="167.59" x2="105.18" y2="167.59" stroke="#111" stroke-width="1.4" />
<rect x="98.58" y="177.42" width="7.8" height="43.18" fill="#68a83c" stroke="#4f8a2c" stroke-width="0.5" />
<line x1="114.05" y1="163.31" x2="114.05" y2="171.44" stroke="#111" stroke-width="1.35" />
<line x1="111.35" y1="163.31" x2="116.75" y2="163.31" stroke="#111" stroke-width="1.4" />
<rect x="110.15" y="171.44" width="7.8" height="49.16" fill="#68a83c" stroke="#4f8a2c" stroke-width="0.5" />
<line x1="125.62" y1="158.61" x2="125.62" y2="167.16" stroke="#111" stroke-width="1.35" />
<line x1="122.92" y1="158.61" x2="128.32" y2="158.61" stroke="#111" stroke-width="1.4" />
<rect x="121.72" y="167.16" width="7.8" height="53.44" fill="#68a83c" stroke="#4f8a2c" stroke-width="0.5" />
<line x1="137.19" y1="210.77" x2="137.19" y2="214.19" stroke="#111" stroke-width="1.35" />
<line x1="134.49" y1="210.77" x2="139.89" y2="210.77" stroke="#111" stroke-width="1.4" />
<rect x="133.29" y="214.19" width="7.8" height="6.41" fill="#2c4d8c" stroke="#1d3566" stroke-width="0.5" />
<line x1="148.76" y1="202.64" x2="148.76" y2="208.63" stroke="#111" stroke-width="1.35" />
<line x1="146.06" y1="202.64" x2="151.46" y2="202.64" stroke="#111" stroke-width="1.4" />
<rect x="144.86" y="208.63" width="7.8" height="11.97" fill="#2c4d8c" stroke="#1d3566" stroke-width="0.5" />
<line x1="160.33" y1="191.53" x2="160.33" y2="201.79" stroke="#111" stroke-width="1.35" />
<line x1="157.63" y1="191.53" x2="163.03" y2="191.53" stroke="#111" stroke-width="1.4" />
<rect x="156.43" y="201.79" width="7.8" height="18.81" fill="#2c4d8c" stroke="#1d3566" stroke-width="0.5" />
<line x1="171.9" y1="176.14" x2="171.9" y2="192.38" stroke="#111" stroke-width="1.35" />
<line x1="169.2" y1="176.14" x2="174.6" y2="176.14" stroke="#111" stroke-width="1.4" />
<rect x="168" y="192.38" width="7.8" height="28.22" fill="#2c4d8c" stroke="#1d3566" stroke-width="0.5" />
<line x1="183.47" y1="164.6" x2="183.47" y2="182.55" stroke="#111" stroke-width="1.35" />
<line x1="180.77" y1="164.6" x2="186.17" y2="164.6" stroke="#111" stroke-width="1.4" />
<rect x="179.57" y="182.55" width="7.8" height="38.05" fill="#2c4d8c" stroke="#1d3566" stroke-width="0.5" />
<line x1="48" y1="220.6" x2="191.5" y2="220.6" stroke="#111" stroke-width="1.6" />
<line x1="56.2" y1="220.6" x2="56.2" y2="223.6" stroke="#111" stroke-width="1.2" />
<line x1="67.77" y1="220.6" x2="67.77" y2="223.6" stroke="#111" stroke-width="1.2" />
<line x1="79.34" y1="220.6" x2="79.34" y2="223.6" stroke="#111" stroke-width="1.2" />
<line x1="90.91" y1="220.6" x2="90.91" y2="223.6" stroke="#111" stroke-width="1.2" />
<line x1="102.48" y1="220.6" x2="102.48" y2="223.6" stroke="#111" stroke-width="1.2" />
<line x1="114.05" y1="220.6" x2="114.05" y2="223.6" stroke="#111" stroke-width="1.2" />
<line x1="125.62" y1="220.6" x2="125.62" y2="223.6" stroke="#111" stroke-width="1.2" />
<line x1="137.19" y1="220.6" x2="137.19" y2="223.6" stroke="#111" stroke-width="1.2" />
<line x1="148.76" y1="220.6" x2="148.76" y2="223.6" stroke="#111" stroke-width="1.2" />
<line x1="160.33" y1="220.6" x2="160.33" y2="223.6" stroke="#111" stroke-width="1.2" />
<line x1="171.9" y1="220.6" x2="171.9" y2="223.6" stroke="#111" stroke-width="1.2" />
<line x1="183.47" y1="220.6" x2="183.47" y2="223.6" stroke="#111" stroke-width="1.2" />
<text transform="translate(57.6,228) rotate(-45)" font-size="7" text-anchor="end" dominant-baseline="central" fill="#333" >T cell</text>
<text transform="translate(69.17,228) rotate(-45)" font-size="7" text-anchor="end" dominant-baseline="central" fill="#333" >T cell + DC</text>
<text transform="translate(80.74,228) rotate(-45)" font-size="7" text-anchor="end" dominant-baseline="central" fill="#333" >1:1</text>
<text transform="translate(92.31,228) rotate(-45)" font-size="7" text-anchor="end" dominant-baseline="central" fill="#333" >1:2</text>
<text transform="translate(103.88,228) rotate(-45)" font-size="7" text-anchor="end" dominant-baseline="central" fill="#333" >1:4</text>
<text transform="translate(115.45,228) rotate(-45)" font-size="7" text-anchor="end" dominant-baseline="central" fill="#333" >1:8</text>
<text transform="translate(127.02,228) rotate(-45)" font-size="7" text-anchor="end" dominant-baseline="central" fill="#333" >1:16</text>
<text transform="translate(138.59,228) rotate(-45)" font-size="7" text-anchor="end" dominant-baseline="central" fill="#333" >1:1</text>
<text transform="translate(150.16,228) rotate(-45)" font-size="7" text-anchor="end" dominant-baseline="central" fill="#333" >1:2</text>
<text transform="translate(161.73,228) rotate(-45)" font-size="7" text-anchor="end" dominant-baseline="central" fill="#333" >1:4</text>
<text transform="translate(173.3,228) rotate(-45)" font-size="7" text-anchor="end" dominant-baseline="central" fill="#333" >1:8</text>
<text transform="translate(184.87,228) rotate(-45)" font-size="7" text-anchor="end" dominant-baseline="central" fill="#333" >1:16</text>
<line x1="73.2" y1="242.7" x2="123.2" y2="242.7" stroke="#222" stroke-width="1" />
<line x1="134.7" y1="242.7" x2="184.2" y2="242.7" stroke="#222" stroke-width="1" />
<text x="98.2" y="249.6" font-size="6.8" text-anchor="middle" dominant-baseline="central" fill="#333" textLength="45" lengthAdjust="spacingAndGlyphs" >CD4 Allo iTreg</text>
<text x="159.2" y="249.6" font-size="6.8" text-anchor="middle" dominant-baseline="central" fill="#333" textLength="45" lengthAdjust="spacingAndGlyphs" >CD8 Allo iTreg</text>
<text x="88.4" y="128.8" font-size="9" text-anchor="start" dominant-baseline="auto" fill="#222" textLength="25.3" lengthAdjust="spacingAndGlyphs" >Balb/c</text>
<line x1="115.8" y1="126.7" x2="121.4" y2="126.7" stroke="#222" stroke-width="0.9" />
<path d="M120.7,124.9 L123.9,126.7 L120.7,128.5 Z" fill="#222"/>
<text x="126.8" y="128.8" font-size="9" text-anchor="start" dominant-baseline="auto" fill="#222" textLength="25.2" lengthAdjust="spacingAndGlyphs" >Balb/c</text>
<text x="56.4" y="210.18" font-size="6.2" text-anchor="middle" dominant-baseline="central" fill="#333" letter-spacing="0.4">****</text>
<text x="79.54" y="181.96" font-size="6.2" text-anchor="middle" dominant-baseline="central" fill="#333" letter-spacing="0.4">****</text>
<text x="91.11" y="173.41" font-size="6.2" text-anchor="middle" dominant-baseline="central" fill="#333" letter-spacing="0.4">**</text>
<text x="137.39" y="208.47" font-size="6.2" text-anchor="middle" dominant-baseline="central" fill="#333" letter-spacing="0.4">****</text>
<text x="148.96" y="200.34" font-size="6.2" text-anchor="middle" dominant-baseline="central" fill="#333" letter-spacing="0.4">****</text>
<text x="160.53" y="189.23" font-size="6.2" text-anchor="middle" dominant-baseline="central" fill="#333" letter-spacing="0.4">****</text>
<text x="172.1" y="173.84" font-size="6.2" text-anchor="middle" dominant-baseline="central" fill="#333" letter-spacing="0.4">****</text>
<text x="183.67" y="162.3" font-size="6.2" text-anchor="middle" dominant-baseline="central" fill="#333" letter-spacing="0.4">**</text>
<polyline points="77,158.8 77,156.3 135.4,156.3 135.4,158.8" fill="none" stroke="#222" stroke-width="1" stroke-linejoin="round" />
<text x="106.4" y="154.3" font-size="6.2" text-anchor="middle" dominant-baseline="central" fill="#333" letter-spacing="0.4">*</text>
<polyline points="90.4,152.1 90.4,149.6 148.3,149.6 148.3,152.1" fill="none" stroke="#222" stroke-width="1" stroke-linejoin="round" />
<text x="119.55" y="147.6" font-size="6.2" text-anchor="middle" dominant-baseline="central" fill="#333" letter-spacing="0.4">**</text>
<polyline points="102.3,146.1 102.3,143.6 160.2,143.6 160.2,146.1" fill="none" stroke="#222" stroke-width="1" stroke-linejoin="round" />
<text x="131.45" y="141.6" font-size="6.2" text-anchor="middle" dominant-baseline="central" fill="#333" letter-spacing="0.4">**</text>
<polyline points="113.8,139.2 113.8,136.7 171.7,136.7 171.7,139.2" fill="none" stroke="#222" stroke-width="1" stroke-linejoin="round" />
<text x="142.95" y="134.7" font-size="6.2" text-anchor="middle" dominant-baseline="central" fill="#333" letter-spacing="0.4">*</text>
<line x1="48.8" y1="277.3" x2="48.8" y2="366.3" stroke="#111" stroke-width="1.6" />
<line x1="45.8" y1="365.6" x2="48.8" y2="365.6" stroke="#111" stroke-width="1.2" />
<text x="42.3" y="365.6" font-size="6.3" text-anchor="end" dominant-baseline="central" fill="#333" >0</text>
<line x1="45.8" y1="348.44" x2="48.8" y2="348.44" stroke="#111" stroke-width="1.2" />
<text x="42.3" y="348.44" font-size="6.3" text-anchor="end" dominant-baseline="central" fill="#333" >20</text>
<line x1="45.8" y1="331.28" x2="48.8" y2="331.28" stroke="#111" stroke-width="1.2" />
<text x="42.3" y="331.28" font-size="6.3" text-anchor="end" dominant-baseline="central" fill="#333" >40</text>
<line x1="45.8" y1="314.12" x2="48.8" y2="314.12" stroke="#111" stroke-width="1.2" />
<text x="42.3" y="314.12" font-size="6.3" text-anchor="end" dominant-baseline="central" fill="#333" >60</text>
<line x1="45.8" y1="296.96" x2="48.8" y2="296.96" stroke="#111" stroke-width="1.2" />
<text x="42.3" y="296.96" font-size="6.3" text-anchor="end" dominant-baseline="central" fill="#333" >80</text>
<line x1="45.8" y1="279.8" x2="48.8" y2="279.8" stroke="#111" stroke-width="1.2" />
<text x="42.3" y="279.8" font-size="6.3" text-anchor="end" dominant-baseline="central" fill="#333" >100</text>
<line x1="56.2" y1="363.46" x2="56.2" y2="364.74" stroke="#111" stroke-width="1.35" />
<line x1="53.5" y1="363.46" x2="58.9" y2="363.46" stroke="#111" stroke-width="1.4" />
<rect x="52.3" y="364.74" width="7.8" height="0.86" fill="#bb0532" stroke="#920526" stroke-width="0.5" />
<line x1="67.77" y1="293.96" x2="67.77" y2="296.96" stroke="#111" stroke-width="1.35" />
<line x1="65.07" y1="293.96" x2="70.47" y2="293.96" stroke="#111" stroke-width="1.4" />
<rect x="63.87" y="296.96" width="7.8" height="68.64" fill="#bb0532" stroke="#920526" stroke-width="0.5" />
<line x1="79.34" y1="311.98" x2="79.34" y2="325.7" stroke="#111" stroke-width="1.35" />
<line x1="76.64" y1="311.98" x2="82.04" y2="311.98" stroke="#111" stroke-width="1.4" />
<rect x="75.44" y="325.7" width="7.8" height="39.9" fill="#68a83c" stroke="#4f8a2c" stroke-width="0.5" />
<line x1="90.91" y1="307.69" x2="90.91" y2="321.41" stroke="#111" stroke-width="1.35" />
<line x1="88.21" y1="307.69" x2="93.61" y2="307.69" stroke="#111" stroke-width="1.4" />
<rect x="87.01" y="321.41" width="7.8" height="44.19" fill="#68a83c" stroke="#4f8a2c" stroke-width="0.5" />
<line x1="102.48" y1="308.97" x2="102.48" y2="319.27" stroke="#111" stroke-width="1.35" />
<line x1="99.78" y1="308.97" x2="105.18" y2="308.97" stroke="#111" stroke-width="1.4" />
<rect x="98.58" y="319.27" width="7.8" height="46.33" fill="#68a83c" stroke="#4f8a2c" stroke-width="0.5" />
<line x1="114.05" y1="304.25" x2="114.05" y2="317.55" stroke="#111" stroke-width="1.35" />
<line x1="111.35" y1="304.25" x2="116.75" y2="304.25" stroke="#111" stroke-width="1.4" />
<rect x="110.15" y="317.55" width="7.8" height="48.05" fill="#68a83c" stroke="#4f8a2c" stroke-width="0.5" />
<line x1="125.62" y1="298.25" x2="125.62" y2="311.98" stroke="#111" stroke-width="1.35" />
<line x1="122.92" y1="298.25" x2="128.32" y2="298.25" stroke="#111" stroke-width="1.4" />
<rect x="121.72" y="311.98" width="7.8" height="53.62" fill="#68a83c" stroke="#4f8a2c" stroke-width="0.5" />
<line x1="137.19" y1="330.85" x2="137.19" y2="345.01" stroke="#111" stroke-width="1.35" />
<line x1="134.49" y1="330.85" x2="139.89" y2="330.85" stroke="#111" stroke-width="1.4" />
<rect x="133.29" y="345.01" width="7.8" height="20.59" fill="#2c4d8c" stroke="#1d3566" stroke-width="0.5" />
<line x1="148.76" y1="324.85" x2="148.76" y2="340.72" stroke="#111" stroke-width="1.35" />
<line x1="146.06" y1="324.85" x2="151.46" y2="324.85" stroke="#111" stroke-width="1.4" />
<rect x="144.86" y="340.72" width="7.8" height="24.88" fill="#2c4d8c" stroke="#1d3566" stroke-width="0.5" />
<line x1="160.33" y1="311.12" x2="160.33" y2="330.42" stroke="#111" stroke-width="1.35" />
<line x1="157.63" y1="311.12" x2="163.03" y2="311.12" stroke="#111" stroke-width="1.4" />
<rect x="156.43" y="330.42" width="7.8" height="35.18" fill="#2c4d8c" stroke="#1d3566" stroke-width="0.5" />
<line x1="171.9" y1="306.4" x2="171.9" y2="325.7" stroke="#111" stroke-width="1.35" />
<line x1="169.2" y1="306.4" x2="174.6" y2="306.4" stroke="#111" stroke-width="1.4" />
<rect x="168" y="325.7" width="7.8" height="39.9" fill="#2c4d8c" stroke="#1d3566" stroke-width="0.5" />
<line x1="183.47" y1="306.4" x2="183.47" y2="325.7" stroke="#111" stroke-width="1.35" />
<line x1="180.77" y1="306.4" x2="186.17" y2="306.4" stroke="#111" stroke-width="1.4" />
<rect x="179.57" y="325.7" width="7.8" height="39.9" fill="#2c4d8c" stroke="#1d3566" stroke-width="0.5" />
<line x1="48" y1="365.6" x2="191.5" y2="365.6" stroke="#111" stroke-width="1.6" />
<line x1="56.2" y1="365.6" x2="56.2" y2="368.6" stroke="#111" stroke-width="1.2" />
<line x1="67.77" y1="365.6" x2="67.77" y2="368.6" stroke="#111" stroke-width="1.2" />
<line x1="79.34" y1="365.6" x2="79.34" y2="368.6" stroke="#111" stroke-width="1.2" />
<line x1="90.91" y1="365.6" x2="90.91" y2="368.6" stroke="#111" stroke-width="1.2" />
<line x1="102.48" y1="365.6" x2="102.48" y2="368.6" stroke="#111" stroke-width="1.2" />
<line x1="114.05" y1="365.6" x2="114.05" y2="368.6" stroke="#111" stroke-width="1.2" />
<line x1="125.62" y1="365.6" x2="125.62" y2="368.6" stroke="#111" stroke-width="1.2" />
<line x1="137.19" y1="365.6" x2="137.19" y2="368.6" stroke="#111" stroke-width="1.2" />
<line x1="148.76" y1="365.6" x2="148.76" y2="368.6" stroke="#111" stroke-width="1.2" />
<line x1="160.33" y1="365.6" x2="160.33" y2="368.6" stroke="#111" stroke-width="1.2" />
<line x1="171.9" y1="365.6" x2="171.9" y2="368.6" stroke="#111" stroke-width="1.2" />
<line x1="183.47" y1="365.6" x2="183.47" y2="368.6" stroke="#111" stroke-width="1.2" />
<text transform="translate(57.6,373) rotate(-45)" font-size="7" text-anchor="end" dominant-baseline="central" fill="#333" >T cell</text>
<text transform="translate(69.17,373) rotate(-45)" font-size="7" text-anchor="end" dominant-baseline="central" fill="#333" >T cell + DC</text>
<text transform="translate(80.74,373) rotate(-45)" font-size="7" text-anchor="end" dominant-baseline="central" fill="#333" >1:1</text>
<text transform="translate(92.31,373) rotate(-45)" font-size="7" text-anchor="end" dominant-baseline="central" fill="#333" >1:2</text>
<text transform="translate(103.88,373) rotate(-45)" font-size="7" text-anchor="end" dominant-baseline="central" fill="#333" >1:4</text>
<text transform="translate(115.45,373) rotate(-45)" font-size="7" text-anchor="end" dominant-baseline="central" fill="#333" >1:8</text>
<text transform="translate(127.02,373) rotate(-45)" font-size="7" text-anchor="end" dominant-baseline="central" fill="#333" >1:16</text>
<text transform="translate(138.59,373) rotate(-45)" font-size="7" text-anchor="end" dominant-baseline="central" fill="#333" >1:1</text>
<text transform="translate(150.16,373) rotate(-45)" font-size="7" text-anchor="end" dominant-baseline="central" fill="#333" >1:2</text>
<text transform="translate(161.73,373) rotate(-45)" font-size="7" text-anchor="end" dominant-baseline="central" fill="#333" >1:4</text>
<text transform="translate(173.3,373) rotate(-45)" font-size="7" text-anchor="end" dominant-baseline="central" fill="#333" >1:8</text>
<text transform="translate(184.87,373) rotate(-45)" font-size="7" text-anchor="end" dominant-baseline="central" fill="#333" >1:16</text>
<line x1="73.2" y1="387.7" x2="123.2" y2="387.7" stroke="#222" stroke-width="1" />
<line x1="134.7" y1="387.7" x2="184.2" y2="387.7" stroke="#222" stroke-width="1" />
<text x="98.2" y="394.9" font-size="6.8" text-anchor="middle" dominant-baseline="central" fill="#333" textLength="45" lengthAdjust="spacingAndGlyphs" >CD4 Allo iTreg</text>
<text x="159.2" y="394.9" font-size="6.8" text-anchor="middle" dominant-baseline="central" fill="#333" textLength="45" lengthAdjust="spacingAndGlyphs" >CD8 Allo iTreg</text>
<text x="92.9" y="271.7" font-size="9" text-anchor="start" dominant-baseline="auto" fill="#222" textLength="24.6" lengthAdjust="spacingAndGlyphs" >Balb/c</text>
<line x1="119.8" y1="269.6" x2="126.7" y2="269.6" stroke="#222" stroke-width="0.9" />
<path d="M126,267.8 L129.2,269.6 L126,271.4 Z" fill="#222"/>
<text x="131.7" y="271.7" font-size="9" text-anchor="start" dominant-baseline="auto" fill="#222" textLength="15.6" lengthAdjust="spacingAndGlyphs" >FVB</text>
<text x="56.4" y="361.16" font-size="6.2" text-anchor="middle" dominant-baseline="central" fill="#333" letter-spacing="0.4">****</text>
<text x="137.39" y="328.55" font-size="6.2" text-anchor="middle" dominant-baseline="central" fill="#333" letter-spacing="0.4">**</text>
<text x="148.96" y="322.55" font-size="6.2" text-anchor="middle" dominant-baseline="central" fill="#333" letter-spacing="0.4">*</text>
<text transform="translate(12.7,176.2) rotate(-90)" font-size="7" text-anchor="middle" dominant-baseline="central" fill="#333" textLength="53.5" lengthAdjust="spacingAndGlyphs" >Proliferating cells</text>
<text transform="translate(23.3,176.2) rotate(-90)" font-size="7" text-anchor="middle" dominant-baseline="central" fill="#333" textLength="69.5" lengthAdjust="spacingAndGlyphs" >(% of Thy 1.1 positive)</text>
<text transform="translate(12.7,321.7) rotate(-90)" font-size="7" text-anchor="middle" dominant-baseline="central" fill="#333" textLength="53.5" lengthAdjust="spacingAndGlyphs" >Proliferating cells</text>
<text transform="translate(23.3,321.7) rotate(-90)" font-size="7" text-anchor="middle" dominant-baseline="central" fill="#333" textLength="69.5" lengthAdjust="spacingAndGlyphs" >(% of Thy 1.1 positive)</text>
<text x="211.3" y="125.1" font-size="11.4" text-anchor="start" dominant-baseline="central" fill="#000" font-weight="bold" >C</text>
<text x="301" y="141.2" font-size="9" text-anchor="middle" dominant-baseline="central" fill="#111" textLength="26.8" lengthAdjust="spacingAndGlyphs" >Spleen</text>
<text x="448.2" y="141.2" font-size="9" text-anchor="middle" dominant-baseline="central" fill="#111" textLength="18.3" lengthAdjust="spacingAndGlyphs" >Liver</text>
<text x="299.1" y="266.9" font-size="9" text-anchor="middle" dominant-baseline="central" fill="#111" textLength="19.6" lengthAdjust="spacingAndGlyphs" >Lung</text>
<text x="445.9" y="266.6" font-size="9" text-anchor="middle" dominant-baseline="central" fill="#111" textLength="24.2" lengthAdjust="spacingAndGlyphs" >Colon</text>
<text x="221.4" y="176.8" font-size="9.6" text-anchor="middle" dominant-baseline="central" fill="#111" textLength="17.2" lengthAdjust="spacingAndGlyphs" >CD4</text>
<text x="221.4" y="220.7" font-size="9.6" text-anchor="middle" dominant-baseline="central" fill="#111" textLength="17.2" lengthAdjust="spacingAndGlyphs" >CD8</text>
<text x="371.4" y="174.5" font-size="9.6" text-anchor="middle" dominant-baseline="central" fill="#111" textLength="17.2" lengthAdjust="spacingAndGlyphs" >CD4</text>
<text x="371.4" y="218.1" font-size="9.6" text-anchor="middle" dominant-baseline="central" fill="#111" textLength="17.2" lengthAdjust="spacingAndGlyphs" >CD8</text>
<text x="219.2" y="302.8" font-size="9.6" text-anchor="middle" dominant-baseline="central" fill="#111" textLength="17.2" lengthAdjust="spacingAndGlyphs" >CD4</text>
<text x="219.2" y="342.2" font-size="9.6" text-anchor="middle" dominant-baseline="central" fill="#111" textLength="17.2" lengthAdjust="spacingAndGlyphs" >CD8</text>
<text x="371.4" y="301.6" font-size="9.6" text-anchor="middle" dominant-baseline="central" fill="#111" textLength="17.2" lengthAdjust="spacingAndGlyphs" >CD4</text>
<text x="371.4" y="345.7" font-size="9.6" text-anchor="middle" dominant-baseline="central" fill="#111" textLength="17.2" lengthAdjust="spacingAndGlyphs" >CD8</text>
<line x1="238.7" y1="218.5" x2="238.7" y2="157.4" stroke="#111" stroke-width="1.3" />
<path d="M236.4,158.4 L238.7,153.4 L241,158.4 Z" fill="#111"/>
<text transform="translate(238.7,242.8) rotate(-90)" font-size="8.8" dominant-baseline="central" fill="#111" textLength="12.6" lengthAdjust="spacingAndGlyphs">H2K</text>
<text transform="translate(235.5,229.8) rotate(-90)" font-size="5.6" dominant-baseline="central" fill="#111">b</text>
<line x1="302.1" y1="218.5" x2="302.1" y2="158.2" stroke="#111" stroke-width="1.3" />
<path d="M299.8,159.2 L302.1,154.2 L304.4,159.2 Z" fill="#111"/>
<text transform="translate(302.1,243.6) rotate(-90)" font-size="9.0" dominant-baseline="central" fill="#111" textLength="19.8" lengthAdjust="spacingAndGlyphs">Thy1.2</text>
<line x1="385.8" y1="218.5" x2="385.8" y2="157.4" stroke="#111" stroke-width="1.3" />
<path d="M383.5,158.4 L385.8,153.4 L388.1,158.4 Z" fill="#111"/>
<text transform="translate(385.8,242.8) rotate(-90)" font-size="8.8" dominant-baseline="central" fill="#111" textLength="12.6" lengthAdjust="spacingAndGlyphs">H2K</text>
<text transform="translate(382.6,229.8) rotate(-90)" font-size="5.6" dominant-baseline="central" fill="#111">b</text>
<line x1="449.4" y1="218.5" x2="449.4" y2="157.4" stroke="#111" stroke-width="1.3" />
<path d="M447.1,158.4 L449.4,153.4 L451.7,158.4 Z" fill="#111"/>
<text transform="translate(449.4,242.8) rotate(-90)" font-size="9.0" dominant-baseline="central" fill="#111" textLength="19.8" lengthAdjust="spacingAndGlyphs">Thy1.2</text>
<line x1="236.5" y1="344.4" x2="236.5" y2="282.7" stroke="#111" stroke-width="1.3" />
<path d="M234.2,283.7 L236.5,278.7 L238.8,283.7 Z" fill="#111"/>
<text transform="translate(236.5,367.8) rotate(-90)" font-size="8.8" dominant-baseline="central" fill="#111" textLength="12.6" lengthAdjust="spacingAndGlyphs">H2K</text>
<text transform="translate(233.3,354.8) rotate(-90)" font-size="5.6" dominant-baseline="central" fill="#111">b</text>
<line x1="300.2" y1="344.4" x2="300.2" y2="283" stroke="#111" stroke-width="1.3" />
<path d="M297.9,284 L300.2,279 L302.5,284 Z" fill="#111"/>
<text transform="translate(300.2,369.5) rotate(-90)" font-size="9.0" dominant-baseline="central" fill="#111" textLength="19.8" lengthAdjust="spacingAndGlyphs">Thy1.2</text>
<line x1="383.5" y1="344.4" x2="383.5" y2="283.9" stroke="#111" stroke-width="1.3" />
<path d="M381.2,284.9 L383.5,279.9 L385.8,284.9 Z" fill="#111"/>
<text transform="translate(383.5,367.8) rotate(-90)" font-size="8.8" dominant-baseline="central" fill="#111" textLength="12.6" lengthAdjust="spacingAndGlyphs">H2K</text>
<text transform="translate(380.3,354.8) rotate(-90)" font-size="5.6" dominant-baseline="central" fill="#111">b</text>
<line x1="447.3" y1="344.4" x2="447.3" y2="283" stroke="#111" stroke-width="1.3" />
<path d="M445,284 L447.3,279 L449.6,284 Z" fill="#111"/>
<text transform="translate(447.3,369.5) rotate(-90)" font-size="9.0" dominant-baseline="central" fill="#111" textLength="19.8" lengthAdjust="spacingAndGlyphs">Thy1.2</text>
<text x="244" y="252.6" font-size="9" text-anchor="start" dominant-baseline="central" fill="#111" textLength="19.8" lengthAdjust="spacingAndGlyphs" >Thy1.2</text>
<line x1="266.4" y1="252.3" x2="283.7" y2="252.3" stroke="#111" stroke-width="1.3" />
<path d="M282.7,250 L287.7,252.3 L282.7,254.6 Z" fill="#111"/>
<text x="311.6" y="252.6" font-size="9" text-anchor="start" dominant-baseline="central" fill="#111" textLength="15.6" lengthAdjust="spacingAndGlyphs" >EGFP</text>
<line x1="331.5" y1="252.3" x2="347.4" y2="252.3" stroke="#111" stroke-width="1.3" />
<path d="M346.4,250 L351.4,252.3 L346.4,254.6 Z" fill="#111"/>
<text x="391.3" y="252.6" font-size="9" text-anchor="start" dominant-baseline="central" fill="#111" textLength="19.9" lengthAdjust="spacingAndGlyphs" >Thy1.2</text>
<line x1="414.7" y1="252.3" x2="431.5" y2="252.3" stroke="#111" stroke-width="1.3" />
<path d="M430.5,250 L435.5,252.3 L430.5,254.6 Z" fill="#111"/>
<text x="458.5" y="252.6" font-size="9" text-anchor="start" dominant-baseline="central" fill="#111" textLength="16.8" lengthAdjust="spacingAndGlyphs" >EGFP</text>
<line x1="478.4" y1="252.3" x2="495.2" y2="252.3" stroke="#111" stroke-width="1.3" />
<path d="M494.2,250 L499.2,252.3 L494.2,254.6 Z" fill="#111"/>
<text x="242.2" y="377.9" font-size="9" text-anchor="start" dominant-baseline="central" fill="#111" textLength="19.9" lengthAdjust="spacingAndGlyphs" >Thy1.2</text>
<line x1="265.6" y1="377.6" x2="281.5" y2="377.6" stroke="#111" stroke-width="1.3" />
<path d="M280.5,375.3 L285.5,377.6 L280.5,379.9 Z" fill="#111"/>
<text x="310.6" y="377.6" font-size="9" text-anchor="start" dominant-baseline="central" fill="#111" textLength="15.9" lengthAdjust="spacingAndGlyphs" >EGFP</text>
<line x1="329.6" y1="377.3" x2="345.4" y2="377.3" stroke="#111" stroke-width="1.3" />
<path d="M344.4,375 L349.4,377.3 L344.4,379.6 Z" fill="#111"/>
<text x="389.6" y="377.6" font-size="9" text-anchor="start" dominant-baseline="central" fill="#111" textLength="19.9" lengthAdjust="spacingAndGlyphs" >Thy1.2</text>
<line x1="413" y1="377.3" x2="428.9" y2="377.3" stroke="#111" stroke-width="1.3" />
<path d="M427.9,375 L432.9,377.3 L427.9,379.6 Z" fill="#111"/>
<text x="457.7" y="377.6" font-size="9" text-anchor="start" dominant-baseline="central" fill="#111" textLength="15.6" lengthAdjust="spacingAndGlyphs" >EGFP</text>
<line x1="476.4" y1="377.3" x2="492.1" y2="377.3" stroke="#111" stroke-width="1.3" />
<path d="M491.1,375 L496.1,377.3 L491.1,379.6 Z" fill="#111"/>
<rect x="247.4" y="149.4" width="44.5" height="44.2" fill="none" stroke="#808080" stroke-width="1.15" />
<ellipse cx="259" cy="176" rx="13" ry="15" fill="#8a8a8a" filter="url(#speck)" opacity="0.3"/>
<path d="M247.9,168 C251,165 257,163.6 266.5,163.5 C266.8,172 265,181 261.5,190.2 C257,191.8 252,192 247.9,191.3 Z" fill="#c9c9c9" />
<path d="M247.9,168 C251,165 257,163.6 266.5,163.5 C266.8,172 265,181 261.5,190.2 C257,191.8 252,192 247.9,191.3 Z" fill="#8a8a8a" filter="url(#speck2)" opacity="0.7"/>
<path d="M252,173 C255,171 259,170.5 261.5,171 C261,177 260,183 258,186 C255,186.5 253,186.3 252,186 Z" fill="none" stroke="#7a7a7a" stroke-width="0.6" stroke-linejoin="round" />
<ellipse cx="257.5" cy="176" rx="2.6" ry="4.5" fill="#3c3c3c" filter="url(#blur2)"/>
<ellipse cx="252" cy="190" rx="4" ry="1.5" fill="#222" filter="url(#blur2)"/>
<path d="M250.2,170.5 C254,168 259,167 263.8,167 C263.6,175 262,182.5 259.5,187.8 C256,189 252.5,189.2 250.2,188.6 Z" fill="none" stroke="#f6f6f6" stroke-width="0.9" stroke-linejoin="round" />
<path d="M247.9,168 C251,165 257,163.6 266.5,163.5 C266.8,172 265,181 261.5,190.2 C257,191.8 252,192 247.9,191.3 Z" fill="none" stroke="#333" stroke-width="1.3" stroke-linejoin="round" filter="url(#blur05)"/>
<path d="M247.9,168 C251,165 257,163.6 266.5,163.5 C266.8,172 265,181 261.5,190.2 C257,191.8 252,192 247.9,191.3 Z" fill="none" stroke="#3a3a3a" stroke-width="0.5" stroke-linejoin="round" />
<ellipse cx="281.2" cy="175.5" rx="9" ry="12.5" fill="#909090" filter="url(#speck)" opacity="0.3"/>
<ellipse cx="281.2" cy="175.5" rx="7" ry="10.5" fill="#d2d2d2" />
<ellipse cx="281.2" cy="175.5" rx="7" ry="10.5" fill="#7a7a7a" filter="url(#speck2)" opacity="0.6"/>
<ellipse cx="281.2" cy="175.5" rx="5.04" ry="7.88" fill="none" stroke="#8a8a8a" stroke-width="0.5" />
<ellipse cx="281.2" cy="176.5" rx="2.6" ry="4" fill="#6a6a6a" filter="url(#blur2)"/>
<ellipse cx="281.2" cy="175.5" rx="7" ry="10.5" fill="none" stroke="#5e5e5e" stroke-width="0.8" />
<text x="281" y="157" font-size="6" text-anchor="middle" dominant-baseline="central" fill="#000" stroke="#000" stroke-width="0.12">1.1</text>
<rect x="247.4" y="199" width="44.5" height="43.8" fill="none" stroke="#808080" stroke-width="1.15" />
<ellipse cx="259" cy="224" rx="13" ry="15" fill="#8a8a8a" filter="url(#speck)" opacity="0.3"/>
<path d="M247.9,212.5 C252,210.5 261,209.8 267.8,211 C268.5,219 267,228 263.5,236 C258,238 252,238.2 247.9,237.5 Z" fill="#c9c9c9" />
<path d="M247.9,212.5 C252,210.5 261,209.8 267.8,211 C268.5,219 267,228 263.5,236 C258,238 252,238.2 247.9,237.5 Z" fill="#8a8a8a" filter="url(#speck2)" opacity="0.7"/>
<path d="M252.5,218 C256,216.5 260,216.3 262.5,217 C262,223 261,228 259,231.5 C256,232.3 253.5,232 252.5,231.6 Z" fill="none" stroke="#7a7a7a" stroke-width="0.6" stroke-linejoin="round" />
<ellipse cx="260" cy="221" rx="3" ry="5" fill="#3c3c3c" filter="url(#blur2)"/>
<ellipse cx="258" cy="236" rx="4" ry="1.5" fill="#333" filter="url(#blur2)"/>
<path d="M250.2,215.2 C255,213.2 261,213 265.2,214 C265.2,221 263.5,228.5 260.8,233.5 C256,235 252.5,235 250.2,234.3 Z" fill="none" stroke="#f6f6f6" stroke-width="0.9" stroke-linejoin="round" />
<path d="M247.9,212.5 C252,210.5 261,209.8 267.8,211 C268.5,219 267,228 263.5,236 C258,238 252,238.2 247.9,237.5 Z" fill="none" stroke="#333" stroke-width="1.3" stroke-linejoin="round" filter="url(#blur05)"/>
<path d="M247.9,212.5 C252,210.5 261,209.8 267.8,211 C268.5,219 267,228 263.5,236 C258,238 252,238.2 247.9,237.5 Z" fill="none" stroke="#3a3a3a" stroke-width="0.5" stroke-linejoin="round" />
<ellipse cx="283" cy="223" rx="9" ry="13" fill="#909090" filter="url(#speck)" opacity="0.3"/>
<ellipse cx="283" cy="223" rx="7" ry="11" fill="#d2d2d2" />
<ellipse cx="283" cy="223" rx="7" ry="11" fill="#7a7a7a" filter="url(#speck2)" opacity="0.6"/>
<ellipse cx="283" cy="223" rx="5.04" ry="8.25" fill="none" stroke="#8a8a8a" stroke-width="0.5" />
<ellipse cx="283.5" cy="224" rx="2.8" ry="4" fill="#5a5a5a" filter="url(#blur2)"/>
<ellipse cx="283" cy="223" rx="7" ry="11" fill="none" stroke="#5e5e5e" stroke-width="0.8" />
<text x="282.5" y="206.4" font-size="6" text-anchor="middle" dominant-baseline="central" fill="#000" stroke="#000" stroke-width="0.12">1.4</text>
<rect x="394.6" y="149.4" width="44.3" height="43.8" fill="none" stroke="#808080" stroke-width="1.15" />
<ellipse cx="426" cy="173" rx="11" ry="12.5" fill="#8a8a8a" filter="url(#speck)" opacity="0.3"/>
<ellipse cx="407" cy="176" rx="12" ry="16" fill="#8a8a8a" filter="url(#speck)" opacity="0.3"/>
<path d="M395.3,163.5 C400,161.5 407,160.8 412,161.3 C415,161.8 416.3,164 416,168 C415.5,175 413,182 410.5,188 C409,190.5 407,192 404,192.4 L395.3,192.4 Z" fill="#c9c9c9" />
<path d="M395.3,163.5 C400,161.5 407,160.8 412,161.3 C415,161.8 416.3,164 416,168 C415.5,175 413,182 410.5,188 C409,190.5 407,192 404,192.4 L395.3,192.4 Z" fill="#8a8a8a" filter="url(#speck2)" opacity="0.7"/>
<path d="M400,170 C403,168 407,167.5 409.5,168 C409.5,174 408,180 405.5,185 C403,186.5 401,186.5 400,186.2 Z" fill="none" stroke="#7a7a7a" stroke-width="0.6" stroke-linejoin="round" />
<ellipse cx="407" cy="166" rx="4.5" ry="2.6" fill="#2e2e2e" filter="url(#blur2)"/>
<ellipse cx="400" cy="190.5" rx="3.5" ry="1.5" fill="#333" filter="url(#blur2)"/>
<path d="M397.8,167 C402,164.5 407,164 411.5,164.5 C412.5,170 410.5,179 407.5,186 C405,189 401,189.5 397.8,189.3 Z" fill="none" stroke="#f6f6f6" stroke-width="0.9" stroke-linejoin="round" />
<path d="M395.3,163.5 C400,161.5 407,160.8 412,161.3 C415,161.8 416.3,164 416,168 C415.5,175 413,182 410.5,188 C409,190.5 407,192 404,192.4 L395.3,192.4 Z" fill="none" stroke="#333" stroke-width="1.3" stroke-linejoin="round" filter="url(#blur05)"/>
<path d="M395.3,163.5 C400,161.5 407,160.8 412,161.3 C415,161.8 416.3,164 416,168 C415.5,175 413,182 410.5,188 C409,190.5 407,192 404,192.4 L395.3,192.4 Z" fill="none" stroke="#3a3a3a" stroke-width="0.5" stroke-linejoin="round" />
<ellipse cx="428" cy="175.5" rx="9.6" ry="11.6" fill="#c4c4c4" />
<ellipse cx="428" cy="175.5" rx="9.6" ry="11.6" fill="#6a6a6a" filter="url(#speck2)" opacity="0.6"/>
<path d="M421,168 C424,164 430,163 434,165 C437,168 437.5,173 436.5,177" fill="none" stroke="#333" stroke-width="1.6" stroke-linejoin="round" filter="url(#blur1)"/>
<ellipse cx="428" cy="175.5" rx="9.6" ry="11.6" fill="none" stroke="#6a6a6a" stroke-width="0.7" />
<ellipse cx="426.2" cy="177.5" rx="6.5" ry="5.9" fill="#f4f4f4" stroke="#1e1e1e" stroke-width="1.6" />
<ellipse cx="426.2" cy="177.5" rx="3.8" ry="3.2" fill="none" stroke="#c8c8c8" stroke-width="0.5" />
<text x="430" y="156.8" font-size="6" text-anchor="middle" dominant-baseline="central" fill="#000" stroke="#000" stroke-width="0.12">6.5</text>
<rect x="394.6" y="199" width="44.3" height="43.8" fill="none" stroke="#808080" stroke-width="1.15" />
<ellipse cx="427" cy="224" rx="11" ry="12.5" fill="#8a8a8a" filter="url(#speck)" opacity="0.3"/>
<ellipse cx="407" cy="226" rx="12" ry="16" fill="#8a8a8a" filter="url(#speck)" opacity="0.3"/>
<path d="M395.3,213.5 C400,211.5 408,210.8 413.5,211.8 C414.5,216 414,223 412.5,229 C411,235 409.5,239 407,241.5 L395.3,241.7 Z" fill="#c9c9c9" />
<path d="M395.3,213.5 C400,211.5 408,210.8 413.5,211.8 C414.5,216 414,223 412.5,229 C411,235 409.5,239 407,241.5 L395.3,241.7 Z" fill="#8a8a8a" filter="url(#speck2)" opacity="0.7"/>
<path d="M400,219.5 C403,218 407,217.5 409,218 C408.8,224 407.5,230 405.5,234.5 C403,235.5 401,235.5 400,235.2 Z" fill="none" stroke="#7a7a7a" stroke-width="0.6" stroke-linejoin="round" />
<ellipse cx="406.5" cy="224" rx="2.8" ry="4.5" fill="#333" filter="url(#blur2)"/>
<ellipse cx="401" cy="240.3" rx="5" ry="1.6" fill="#222" filter="url(#blur2)"/>
<ellipse cx="398" cy="214" rx="3" ry="1.5" fill="#333" filter="url(#blur2)"/>
<path d="M397.8,216.5 C402,214.5 407,214 411,214.8 C411.3,221 410,229 407.5,235.5 C405,238 401,238.6 397.8,238.4 Z" fill="none" stroke="#f6f6f6" stroke-width="0.9" stroke-linejoin="round" />
<path d="M395.3,213.5 C400,211.5 408,210.8 413.5,211.8 C414.5,216 414,223 412.5,229 C411,235 409.5,239 407,241.5 L395.3,241.7 Z" fill="none" stroke="#333" stroke-width="1.3" stroke-linejoin="round" filter="url(#blur05)"/>
<path d="M395.3,213.5 C400,211.5 408,210.8 413.5,211.8 C414.5,216 414,223 412.5,229 C411,235 409.5,239 407,241.5 L395.3,241.7 Z" fill="none" stroke="#3a3a3a" stroke-width="0.5" stroke-linejoin="round" />
<ellipse cx="428" cy="225" rx="9" ry="11" fill="#cdcdcd" />
<ellipse cx="428" cy="225" rx="9" ry="11" fill="#6a6a6a" filter="url(#speck2)" opacity="0.55"/>
<ellipse cx="428" cy="225" rx="9" ry="11" fill="none" stroke="#777" stroke-width="0.7" />
<ellipse cx="428" cy="225" rx="6.3" ry="8" fill="none" stroke="#888" stroke-width="0.5" />
<ellipse cx="426.3" cy="225.2" rx="6.2" ry="4.4" fill="#2a2a2a" transform="rotate(-20 426.3 225.2)" filter="url(#blur1)"/>
<ellipse cx="426.3" cy="225.2" rx="4.3" ry="2.6" fill="#ffffff" transform="rotate(-20 426.3 225.2)" />
<text x="429.4" y="206" font-size="6" text-anchor="middle" dominant-baseline="central" fill="#000" stroke="#000" stroke-width="0.12">3.4</text>
<rect x="245.6" y="275.2" width="44.7" height="43.8" fill="none" stroke="#808080" stroke-width="1.15" />
<ellipse cx="262" cy="297" rx="15" ry="13" fill="#8a8a8a" filter="url(#speck)" opacity="0.3"/>
<path d="M247.5,285.5 L266,285.5 C269,286 271.5,288.5 272.5,291 C271,296 268,303 262,308.5 L247.5,308.5 Z" fill="#cfcfcf" />
<path d="M247.5,285.5 L266,285.5 C269,286 271.5,288.5 272.5,291 C271,296 268,303 262,308.5 L247.5,308.5 Z" fill="#7a7a7a" filter="url(#speck2)" opacity="0.6"/>
<line x1="249" y1="288.3" x2="265.5" y2="288.3" stroke="#3a3a3a" stroke-width="1.8" filter="url(#blur1)"/>
<line x1="249" y1="292.8" x2="265.5" y2="292.8" stroke="#7a7a7a" stroke-width="1.3" filter="url(#blur1)"/>
<line x1="249" y1="298.8" x2="265.5" y2="298.8" stroke="#333" stroke-width="2" filter="url(#blur1)"/>
<line x1="249" y1="303.6" x2="265.5" y2="303.6" stroke="#8a8a8a" stroke-width="1.2" filter="url(#blur1)"/>
<path d="M263.5,286 C267.5,289 268.5,296 264.5,305" fill="none" stroke="#2a2a2a" stroke-width="1.5" stroke-linejoin="round" filter="url(#blur1)"/>
<path d="M247.5,285.5 L266,285.5 C269,286 271.5,288.5 272.5,291 C271,296 268,303 262,308.5 L247.5,308.5 Z" fill="none" stroke="#f6f6f6" stroke-width="0.9" stroke-linejoin="round" />
<line x1="247.3" y1="287" x2="247.3" y2="306" stroke="#1a1a1a" stroke-width="1.8" />
<ellipse cx="284.5" cy="297.5" rx="5.3" ry="12.2" fill="#e2e2e2" />
<ellipse cx="284.5" cy="297.5" rx="5.3" ry="12.2" fill="#8a8a8a" filter="url(#speck2)" opacity="0.45"/>
<ellipse cx="284.5" cy="297.5" rx="5.3" ry="12.2" fill="none" stroke="#4a4a4a" stroke-width="1.2" />
<ellipse cx="284.8" cy="297.5" rx="3.4" ry="9" fill="none" stroke="#999" stroke-width="0.6" />
<text x="283.2" y="279.4" font-size="6" text-anchor="middle" dominant-baseline="central" fill="#000" stroke="#000" stroke-width="0.12">8.6</text>
<rect x="245.6" y="324.5" width="44.7" height="43.3" fill="none" stroke="#808080" stroke-width="1.15" />
<ellipse cx="262" cy="345.5" rx="15" ry="13" fill="#8a8a8a" filter="url(#speck)" opacity="0.3"/>
<path d="M247.5,334.0 L266,334.0 C269,334.5 271.5,337.0 272.5,339.5 C271,344.5 268,351.5 262,357.0 L247.5,357.0 Z" fill="#cfcfcf" />
<path d="M247.5,334.0 L266,334.0 C269,334.5 271.5,337.0 272.5,339.5 C271,344.5 268,351.5 262,357.0 L247.5,357.0 Z" fill="#7a7a7a" filter="url(#speck2)" opacity="0.6"/>
<line x1="249" y1="336.8" x2="265.5" y2="336.8" stroke="#3a3a3a" stroke-width="1.8" filter="url(#blur1)"/>
<line x1="249" y1="341.3" x2="265.5" y2="341.3" stroke="#7a7a7a" stroke-width="1.3" filter="url(#blur1)"/>
<line x1="249" y1="347.3" x2="265.5" y2="347.3" stroke="#333" stroke-width="2" filter="url(#blur1)"/>
<line x1="249" y1="352.1" x2="265.5" y2="352.1" stroke="#8a8a8a" stroke-width="1.2" filter="url(#blur1)"/>
<path d="M263.5,334.5 C267.5,337.5 268.5,344.5 264.5,353.5" fill="none" stroke="#2a2a2a" stroke-width="1.5" stroke-linejoin="round" filter="url(#blur1)"/>
<path d="M247.5,334.0 L266,334.0 C269,334.5 271.5,337.0 272.5,339.5 C271,344.5 268,351.5 262,357.0 L247.5,357.0 Z" fill="none" stroke="#f6f6f6" stroke-width="0.9" stroke-linejoin="round" />
<line x1="247.3" y1="335.5" x2="247.3" y2="354.5" stroke="#1a1a1a" stroke-width="1.8" />
<ellipse cx="284.2" cy="346.5" rx="5.2" ry="11.5" fill="#d6d6d6" />
<ellipse cx="284.2" cy="346.5" rx="5.2" ry="11.5" fill="#8a8a8a" filter="url(#speck2)" opacity="0.45"/>
<ellipse cx="284.2" cy="346.5" rx="5.2" ry="11.5" fill="none" stroke="#555" stroke-width="1" />
<ellipse cx="284.4" cy="347.5" rx="2.2" ry="4" fill="#f8f8f8" stroke="#222" stroke-width="1.3" />
<text x="282.9" y="328.8" font-size="6" text-anchor="middle" dominant-baseline="central" fill="#000" stroke="#000" stroke-width="0.12">2.8</text>
<rect x="392.4" y="275.2" width="44.1" height="43.7" fill="none" stroke="#808080" stroke-width="1.15" />
<path d="M393,285 C402,281 415,279 425,277.5 C431,277 435,278 436,280 L436,299 C430,300 425,297 420,296.5 C410,297 402,299 393,298 Z" fill="#c8c8c8" filter="url(#blur1)"/>
<path d="M393,285 C402,281 415,279 425,277.5 C431,277 435,278 436,280 L436,299 C430,300 425,297 420,296.5 C410,297 402,299 393,298 Z" fill="#6a6a6a" filter="url(#speck2)" opacity="0.6"/>
<path d="M395,290 C402,287 410,286 416,288" fill="none" stroke="#555" stroke-width="1.4" stroke-linejoin="round" filter="url(#blur1)"/>
<path d="M398,294 C405,292.5 412,293 417,294" fill="none" stroke="#222" stroke-width="1.7" stroke-linejoin="round" filter="url(#blur1)"/>
<path d="M400,283.5 C410,280 420,279 428,279.5" fill="none" stroke="#888" stroke-width="0.9" stroke-linejoin="round" />
<path d="M396,296.5 C405,296 413,296 421,294" fill="none" stroke="#f4f4f4" stroke-width="0.8" stroke-linejoin="round" />
<line x1="393" y1="287" x2="393" y2="295" stroke="#111" stroke-width="1.8" />
<ellipse cx="410" cy="305" rx="16" ry="8" fill="#bbb" filter="url(#speck)" opacity="0.15"/>
<path d="M426,278.5 C431,277 435,279 436,283 L436,299 C431,300 427,298 425.5,293 C424,289 424,283 426,278.5 Z" fill="none" stroke="#444" stroke-width="0.9" stroke-linejoin="round" />
<path d="M428,281 C431,280.5 433.5,282 434,285 L434,296" fill="none" stroke="#777" stroke-width="0.6" stroke-linejoin="round" />
<ellipse cx="434.8" cy="294" rx="1.6" ry="2.6" fill="#111" filter="url(#blur1)"/>
<text x="429.4" y="304.6" font-size="6" text-anchor="middle" dominant-baseline="central" fill="#000" textLength="10" lengthAdjust="spacingAndGlyphs" stroke="#000" stroke-width="0.12">19.4</text>
<rect x="392.4" y="324.5" width="44.1" height="43.3" fill="none" stroke="#808080" stroke-width="1.15" />
<path d="M393,333.5 C402,329.5 415,327.5 425,326.0 C431,325.5 435,326.5 436,328.5 L436,347.5 C430,348.5 425,345.5 420,345.0 C410,345.5 402,347.5 393,346.5 Z" fill="#c8c8c8" filter="url(#blur1)"/>
<path d="M393,333.5 C402,329.5 415,327.5 425,326.0 C431,325.5 435,326.5 436,328.5 L436,347.5 C430,348.5 425,345.5 420,345.0 C410,345.5 402,347.5 393,346.5 Z" fill="#6a6a6a" filter="url(#speck2)" opacity="0.6"/>
<path d="M395,338.5 C402,335.5 410,334.5 416,336.5" fill="none" stroke="#555" stroke-width="1.4" stroke-linejoin="round" filter="url(#blur1)"/>
<path d="M398,342.5 C405,341.0 412,341.5 417,342.5" fill="none" stroke="#222" stroke-width="1.7" stroke-linejoin="round" filter="url(#blur1)"/>
<path d="M400,332.0 C410,328.5 420,327.5 428,328.0" fill="none" stroke="#888" stroke-width="0.9" stroke-linejoin="round" />
<path d="M396,345.0 C405,344.5 413,344.5 421,342.5" fill="none" stroke="#f4f4f4" stroke-width="0.8" stroke-linejoin="round" />
<line x1="393" y1="335.5" x2="393" y2="343.5" stroke="#111" stroke-width="1.8" />
<ellipse cx="410" cy="353.5" rx="16" ry="8" fill="#bbb" filter="url(#speck)" opacity="0.15"/>
<path d="M428,327 C432,326 436,329 436,333 L436,347 C432,349 428,347 427,342 C426,337 426,331 428,327 Z" fill="none" stroke="#444" stroke-width="0.9" stroke-linejoin="round" />
<ellipse cx="433" cy="338" rx="2.4" ry="4.6" fill="#444" filter="url(#blur1)"/>
<ellipse cx="433" cy="338" rx="1.2" ry="3" fill="#f2f2f2" />
<text x="429.4" y="353.9" font-size="6" text-anchor="middle" dominant-baseline="central" fill="#000" textLength="10.5" lengthAdjust="spacingAndGlyphs" stroke="#000" stroke-width="0.12">3.62</text>
<rect x="311.2" y="149.5" width="44.5" height="43.8" fill="none" stroke="#808080" stroke-width="1.15" />
<ellipse cx="323.3" cy="160.3" rx="7.3" ry="7.3" fill="#8a8a8a" filter="url(#speck)" opacity="0.35"/>
<ellipse cx="323.3" cy="160.3" rx="5.8" ry="5.8" fill="#a2a2a2" />
<ellipse cx="323.3" cy="160.3" rx="5.8" ry="5.8" fill="#3a3a3a" filter="url(#speck2)" opacity="0.4"/>
<ellipse cx="323.3" cy="160.3" rx="5.63" ry="5.63" fill="none" stroke="#5a5a5a" stroke-width="0.7" filter="url(#blur05)"/>
<ellipse cx="323.3" cy="160.3" rx="4.29" ry="4.29" fill="none" stroke="#444" stroke-width="0.75" filter="url(#blur05)"/>
<ellipse cx="323.3" cy="160.3" rx="2.9" ry="2.9" fill="none" stroke="#4a4a4a" stroke-width="0.65" filter="url(#blur05)"/>
<ellipse cx="323.3" cy="160.3" rx="1.57" ry="1.57" fill="none" stroke="#777" stroke-width="0.55" filter="url(#blur05)"/>
<ellipse cx="323.5" cy="160.5" rx="0.81" ry="0.81" fill="#ddd" />
<ellipse cx="336.4" cy="159.5" rx="4.5" ry="5.5" fill="#dcdcdc" />
<ellipse cx="336.4" cy="159.5" rx="4.5" ry="5.5" fill="#888" filter="url(#speck2)" opacity="0.45"/>
<ellipse cx="336.4" cy="159.5" rx="4.27" ry="5.22" fill="none" stroke="#8c8c8c" stroke-width="0.6" />
<ellipse cx="336.4" cy="159.5" rx="2.7" ry="3.3" fill="none" stroke="#9a9a9a" stroke-width="0.5" />
<rect x="330.4" y="150.6" width="16.3" height="15.6" fill="none" stroke="#7a7a7a" stroke-width="0.75" />
<text x="337.5" y="170.2" font-size="6" text-anchor="middle" dominant-baseline="central" fill="#000" textLength="10.6" lengthAdjust="spacingAndGlyphs" stroke="#000" stroke-width="0.12">17.9</text>
<rect x="311.2" y="199" width="44.5" height="43.8" fill="none" stroke="#808080" stroke-width="1.15" />
<ellipse cx="322.9" cy="205.8" rx="7.7" ry="6.9" fill="#8a8a8a" filter="url(#speck)" opacity="0.35"/>
<ellipse cx="322.9" cy="205.8" rx="6.2" ry="5.4" fill="#a2a2a2" />
<ellipse cx="322.9" cy="205.8" rx="6.2" ry="5.4" fill="#3a3a3a" filter="url(#speck2)" opacity="0.4"/>
<ellipse cx="322.9" cy="205.8" rx="6.01" ry="5.24" fill="none" stroke="#5a5a5a" stroke-width="0.7" filter="url(#blur05)"/>
<ellipse cx="322.9" cy="205.8" rx="4.59" ry="4" fill="none" stroke="#444" stroke-width="0.75" filter="url(#blur05)"/>
<ellipse cx="322.9" cy="205.8" rx="3.1" ry="2.7" fill="none" stroke="#4a4a4a" stroke-width="0.65" filter="url(#blur05)"/>
<ellipse cx="322.9" cy="205.8" rx="1.67" ry="1.46" fill="none" stroke="#777" stroke-width="0.55" filter="url(#blur05)"/>
<ellipse cx="323.1" cy="206" rx="0.87" ry="0.76" fill="#ddd" />
<ellipse cx="337.5" cy="206.5" rx="4.6" ry="4.8" fill="#dcdcdc" />
<ellipse cx="337.5" cy="206.5" rx="4.6" ry="4.8" fill="#888" filter="url(#speck2)" opacity="0.45"/>
<ellipse cx="337.5" cy="206.5" rx="4.37" ry="4.56" fill="none" stroke="#8c8c8c" stroke-width="0.6" />
<ellipse cx="337.5" cy="206.5" rx="2.76" ry="2.88" fill="none" stroke="#9a9a9a" stroke-width="0.5" />
<rect x="330.3" y="200" width="15.9" height="16" fill="none" stroke="#7a7a7a" stroke-width="0.75" />
<text x="337.6" y="219.8" font-size="6" text-anchor="middle" dominant-baseline="central" fill="#000" stroke="#000" stroke-width="0.12">9.9</text>
<rect x="458.5" y="149.5" width="45" height="43.7" fill="none" stroke="#808080" stroke-width="1.15" />
<ellipse cx="470.7" cy="161.1" rx="6.1" ry="9.3" fill="#8a8a8a" filter="url(#speck)" opacity="0.35"/>
<ellipse cx="470.7" cy="161.1" rx="4.6" ry="7.8" fill="#a2a2a2" />
<ellipse cx="470.7" cy="161.1" rx="4.6" ry="7.8" fill="#3a3a3a" filter="url(#speck2)" opacity="0.4"/>
<ellipse cx="470.7" cy="161.1" rx="4.46" ry="7.57" fill="none" stroke="#5a5a5a" stroke-width="0.7" filter="url(#blur05)"/>
<ellipse cx="470.7" cy="161.1" rx="3.4" ry="5.77" fill="none" stroke="#444" stroke-width="0.75" filter="url(#blur05)"/>
<ellipse cx="470.7" cy="161.1" rx="2.3" ry="3.9" fill="none" stroke="#4a4a4a" stroke-width="0.65" filter="url(#blur05)"/>
<ellipse cx="470.7" cy="161.1" rx="1.24" ry="2.11" fill="none" stroke="#777" stroke-width="0.55" filter="url(#blur05)"/>
<ellipse cx="470.9" cy="161.3" rx="0.64" ry="1.09" fill="#ddd" />
<ellipse cx="484.3" cy="161.3" rx="3.5" ry="7" fill="#dcdcdc" />
<ellipse cx="484.3" cy="161.3" rx="3.5" ry="7" fill="#888" filter="url(#speck2)" opacity="0.45"/>
<ellipse cx="484.3" cy="161.3" rx="3.32" ry="6.65" fill="none" stroke="#8c8c8c" stroke-width="0.6" />
<ellipse cx="484.3" cy="161.3" rx="2.1" ry="4.2" fill="none" stroke="#9a9a9a" stroke-width="0.5" />
<rect x="479.8" y="150.4" width="16.8" height="20.8" fill="none" stroke="#7a7a7a" stroke-width="0.75" />
<text x="484.5" y="175" font-size="6" text-anchor="middle" dominant-baseline="central" fill="#000" textLength="10.6" lengthAdjust="spacingAndGlyphs" stroke="#000" stroke-width="0.12">18.9</text>
<rect x="458.5" y="199" width="45" height="43.8" fill="none" stroke="#808080" stroke-width="1.15" />
<ellipse cx="471.5" cy="210.8" rx="6.7" ry="8.7" fill="#8a8a8a" filter="url(#speck)" opacity="0.35"/>
<ellipse cx="471.5" cy="210.8" rx="5.2" ry="7.2" fill="#a2a2a2" />
<ellipse cx="471.5" cy="210.8" rx="5.2" ry="7.2" fill="#3a3a3a" filter="url(#speck2)" opacity="0.4"/>
<ellipse cx="471.5" cy="210.8" rx="5.04" ry="6.98" fill="none" stroke="#5a5a5a" stroke-width="0.7" filter="url(#blur05)"/>
<ellipse cx="471.5" cy="210.8" rx="3.85" ry="5.33" fill="none" stroke="#444" stroke-width="0.75" filter="url(#blur05)"/>
<ellipse cx="471.5" cy="210.8" rx="2.6" ry="3.6" fill="none" stroke="#4a4a4a" stroke-width="0.65" filter="url(#blur05)"/>
<ellipse cx="471.5" cy="210.8" rx="1.4" ry="1.94" fill="none" stroke="#777" stroke-width="0.55" filter="url(#blur05)"/>
<ellipse cx="471.7" cy="211" rx="0.73" ry="1.01" fill="#ddd" />
<ellipse cx="484.5" cy="211" rx="3.6" ry="6.2" fill="#dcdcdc" />
<ellipse cx="484.5" cy="211" rx="3.6" ry="6.2" fill="#888" filter="url(#speck2)" opacity="0.45"/>
<ellipse cx="484.5" cy="211" rx="3.42" ry="5.89" fill="none" stroke="#8c8c8c" stroke-width="0.6" />
<ellipse cx="484.5" cy="211" rx="2.16" ry="3.72" fill="none" stroke="#9a9a9a" stroke-width="0.5" />
<rect x="479.8" y="199.6" width="16.8" height="20.7" fill="none" stroke="#7a7a7a" stroke-width="0.75" />
<text x="485.4" y="226" font-size="6" text-anchor="middle" dominant-baseline="central" fill="#000" stroke="#000" stroke-width="0.12">9.0</text>
<rect x="309.2" y="275.2" width="44.7" height="43.7" fill="none" stroke="#808080" stroke-width="1.15" />
<ellipse cx="318.7" cy="280.6" rx="7.7" ry="5.4" fill="#8a8a8a" transform="rotate(-25 318.7 280.6)" filter="url(#speck)" opacity="0.35"/>
<ellipse cx="318.7" cy="280.6" rx="6.2" ry="3.9" fill="#a2a2a2" transform="rotate(-25 318.7 280.6)" />
<ellipse cx="318.7" cy="280.6" rx="6.2" ry="3.9" fill="#3a3a3a" transform="rotate(-25 318.7 280.6)" filter="url(#speck2)" opacity="0.4"/>
<ellipse cx="318.7" cy="280.6" rx="6.01" ry="3.78" fill="none" stroke="#5a5a5a" stroke-width="0.7" transform="rotate(-25 318.7 280.6)" filter="url(#blur05)"/>
<ellipse cx="318.7" cy="280.6" rx="4.59" ry="2.89" fill="none" stroke="#444" stroke-width="0.75" transform="rotate(-25 318.7 280.6)" filter="url(#blur05)"/>
<ellipse cx="318.7" cy="280.6" rx="3.1" ry="1.95" fill="none" stroke="#4a4a4a" stroke-width="0.65" transform="rotate(-25 318.7 280.6)" filter="url(#blur05)"/>
<ellipse cx="318.7" cy="280.6" rx="1.67" ry="1.05" fill="none" stroke="#777" stroke-width="0.55" transform="rotate(-25 318.7 280.6)" filter="url(#blur05)"/>
<ellipse cx="318.9" cy="280.8" rx="0.87" ry="0.55" fill="#ddd" transform="rotate(-25 318.9 280.8)" />
<ellipse cx="335.6" cy="281.2" rx="4" ry="4" fill="#dcdcdc" />
<ellipse cx="335.6" cy="281.2" rx="4" ry="4" fill="#888" filter="url(#speck2)" opacity="0.45"/>
<ellipse cx="335.6" cy="281.2" rx="3.8" ry="3.8" fill="none" stroke="#8c8c8c" stroke-width="0.6" />
<ellipse cx="335.6" cy="281.2" rx="2.4" ry="2.4" fill="none" stroke="#9a9a9a" stroke-width="0.5" />
<rect x="328.3" y="275.3" width="15.5" height="12" fill="none" stroke="#7a7a7a" stroke-width="0.75" />
<text x="335.5" y="291.1" font-size="6" text-anchor="middle" dominant-baseline="central" fill="#000" stroke="#000" stroke-width="0.12">19</text>
<rect x="309.2" y="324.5" width="44.7" height="43.3" fill="none" stroke="#808080" stroke-width="1.15" />
<ellipse cx="320.3" cy="330.6" rx="7.7" ry="5.5" fill="#8a8a8a" transform="rotate(-15 320.3 330.6)" filter="url(#speck)" opacity="0.35"/>
<ellipse cx="320.3" cy="330.6" rx="6.2" ry="4" fill="#a2a2a2" transform="rotate(-15 320.3 330.6)" />
<ellipse cx="320.3" cy="330.6" rx="6.2" ry="4" fill="#3a3a3a" transform="rotate(-15 320.3 330.6)" filter="url(#speck2)" opacity="0.4"/>
<ellipse cx="320.3" cy="330.6" rx="6.01" ry="3.88" fill="none" stroke="#5a5a5a" stroke-width="0.7" transform="rotate(-15 320.3 330.6)" filter="url(#blur05)"/>
<ellipse cx="320.3" cy="330.6" rx="4.59" ry="2.96" fill="none" stroke="#444" stroke-width="0.75" transform="rotate(-15 320.3 330.6)" filter="url(#blur05)"/>
<ellipse cx="320.3" cy="330.6" rx="3.1" ry="2" fill="none" stroke="#4a4a4a" stroke-width="0.65" transform="rotate(-15 320.3 330.6)" filter="url(#blur05)"/>
<ellipse cx="320.3" cy="330.6" rx="1.67" ry="1.08" fill="none" stroke="#777" stroke-width="0.55" transform="rotate(-15 320.3 330.6)" filter="url(#blur05)"/>
<ellipse cx="320.5" cy="330.8" rx="0.87" ry="0.56" fill="#ddd" transform="rotate(-15 320.5 330.8)" />
<ellipse cx="335.4" cy="330.2" rx="4" ry="4" fill="#dcdcdc" />
<ellipse cx="335.4" cy="330.2" rx="4" ry="4" fill="#888" filter="url(#speck2)" opacity="0.45"/>
<ellipse cx="335.4" cy="330.2" rx="3.8" ry="3.8" fill="none" stroke="#8c8c8c" stroke-width="0.6" />
<ellipse cx="335.4" cy="330.2" rx="2.4" ry="2.4" fill="none" stroke="#9a9a9a" stroke-width="0.5" />
<rect x="328.3" y="324.6" width="15.5" height="12" fill="none" stroke="#7a7a7a" stroke-width="0.75" />
<text x="335.2" y="341" font-size="6" text-anchor="middle" dominant-baseline="central" fill="#000" stroke="#000" stroke-width="0.12">6.9</text>
<rect x="456.8" y="275.2" width="44.5" height="43.7" fill="none" stroke="#808080" stroke-width="1.15" />
<ellipse cx="466.3" cy="280.8" rx="6.3" ry="7.1" fill="#8a8a8a" transform="rotate(-20 466.3 280.8)" filter="url(#speck)" opacity="0.35"/>
<ellipse cx="466.3" cy="280.8" rx="4.8" ry="5.6" fill="#a2a2a2" transform="rotate(-20 466.3 280.8)" />
<ellipse cx="466.3" cy="280.8" rx="4.8" ry="5.6" fill="#3a3a3a" transform="rotate(-20 466.3 280.8)" filter="url(#speck2)" opacity="0.4"/>
<ellipse cx="466.3" cy="280.8" rx="4.66" ry="5.43" fill="none" stroke="#5a5a5a" stroke-width="0.7" transform="rotate(-20 466.3 280.8)" filter="url(#blur05)"/>
<ellipse cx="466.3" cy="280.8" rx="3.55" ry="4.14" fill="none" stroke="#444" stroke-width="0.75" transform="rotate(-20 466.3 280.8)" filter="url(#blur05)"/>
<ellipse cx="466.3" cy="280.8" rx="2.4" ry="2.8" fill="none" stroke="#4a4a4a" stroke-width="0.65" transform="rotate(-20 466.3 280.8)" filter="url(#blur05)"/>
<ellipse cx="466.3" cy="280.8" rx="1.3" ry="1.51" fill="none" stroke="#777" stroke-width="0.55" transform="rotate(-20 466.3 280.8)" filter="url(#blur05)"/>
<ellipse cx="466.5" cy="281" rx="0.67" ry="0.78" fill="#ddd" transform="rotate(-20 466.5 281)" />
<ellipse cx="481" cy="282" rx="3.4" ry="5.5" fill="#dcdcdc" />
<ellipse cx="481" cy="282" rx="3.4" ry="5.5" fill="#888" filter="url(#speck2)" opacity="0.45"/>
<ellipse cx="481" cy="282" rx="3.23" ry="5.22" fill="none" stroke="#8c8c8c" stroke-width="0.6" />
<ellipse cx="481" cy="282" rx="2.04" ry="3.3" fill="none" stroke="#9a9a9a" stroke-width="0.5" />
<rect x="475.8" y="275.3" width="16.5" height="15" fill="none" stroke="#7a7a7a" stroke-width="0.75" />
<text x="484" y="294.3" font-size="6" text-anchor="middle" dominant-baseline="central" fill="#000" textLength="10.6" lengthAdjust="spacingAndGlyphs" stroke="#000" stroke-width="0.12">15.7</text>
<rect x="456.8" y="324.5" width="44.5" height="43.3" fill="none" stroke="#808080" stroke-width="1.15" />
<ellipse cx="467.3" cy="329.9" rx="7.3" ry="6.5" fill="#8a8a8a" transform="rotate(-20 467.3 329.9)" filter="url(#speck)" opacity="0.35"/>
<ellipse cx="467.3" cy="329.9" rx="5.8" ry="5" fill="#a2a2a2" transform="rotate(-20 467.3 329.9)" />
<ellipse cx="467.3" cy="329.9" rx="5.8" ry="5" fill="#3a3a3a" transform="rotate(-20 467.3 329.9)" filter="url(#speck2)" opacity="0.4"/>
<ellipse cx="467.3" cy="329.9" rx="5.63" ry="4.85" fill="none" stroke="#5a5a5a" stroke-width="0.7" transform="rotate(-20 467.3 329.9)" filter="url(#blur05)"/>
<ellipse cx="467.3" cy="329.9" rx="4.29" ry="3.7" fill="none" stroke="#444" stroke-width="0.75" transform="rotate(-20 467.3 329.9)" filter="url(#blur05)"/>
<ellipse cx="467.3" cy="329.9" rx="2.9" ry="2.5" fill="none" stroke="#4a4a4a" stroke-width="0.65" transform="rotate(-20 467.3 329.9)" filter="url(#blur05)"/>
<ellipse cx="467.3" cy="329.9" rx="1.57" ry="1.35" fill="none" stroke="#777" stroke-width="0.55" transform="rotate(-20 467.3 329.9)" filter="url(#blur05)"/>
<ellipse cx="467.5" cy="330.1" rx="0.81" ry="0.7" fill="#ddd" transform="rotate(-20 467.5 330.1)" />
<ellipse cx="481.5" cy="331" rx="4.8" ry="5.2" fill="#dcdcdc" />
<ellipse cx="481.5" cy="331" rx="4.8" ry="5.2" fill="#888" filter="url(#speck2)" opacity="0.45"/>
<ellipse cx="481.5" cy="331" rx="4.56" ry="4.94" fill="none" stroke="#8c8c8c" stroke-width="0.6" />
<ellipse cx="481.5" cy="331" rx="2.88" ry="3.12" fill="none" stroke="#9a9a9a" stroke-width="0.5" />
<rect x="476.4" y="324.6" width="15.9" height="14.6" fill="none" stroke="#7a7a7a" stroke-width="0.75" />
<text x="483.6" y="342.7" font-size="6" text-anchor="middle" dominant-baseline="central" fill="#000" textLength="10.6" lengthAdjust="spacingAndGlyphs" stroke="#000" stroke-width="0.12">11.8</text>
<text x="7.7" y="412" font-size="11.4" text-anchor="start" dominant-baseline="central" fill="#000" font-weight="bold" >D</text>
<line x1="48.9" y1="436.5" x2="48.9" y2="480.2" stroke="#111" stroke-width="1.6" />
<line x1="45.9" y1="479.5" x2="48.9" y2="479.5" stroke="#111" stroke-width="1.1" />
<text x="42.9" y="479.5" font-size="6.9" text-anchor="end" dominant-baseline="central" fill="#333" >0</text>
<line x1="45.9" y1="469.5" x2="48.9" y2="469.5" stroke="#111" stroke-width="1.1" />
<text x="42.9" y="469.5" font-size="6.9" text-anchor="end" dominant-baseline="central" fill="#333" >5</text>
<line x1="45.9" y1="459.5" x2="48.9" y2="459.5" stroke="#111" stroke-width="1.1" />
<text x="42.9" y="459.5" font-size="6.9" text-anchor="end" dominant-baseline="central" fill="#333" >10</text>
<line x1="45.9" y1="449.5" x2="48.9" y2="449.5" stroke="#111" stroke-width="1.1" />
<text x="42.9" y="449.5" font-size="6.9" text-anchor="end" dominant-baseline="central" fill="#333" >15</text>
<line x1="45.9" y1="439.5" x2="48.9" y2="439.5" stroke="#111" stroke-width="1.1" />
<text x="42.9" y="439.5" font-size="6.9" text-anchor="end" dominant-baseline="central" fill="#333" >20</text>
<line x1="57.95" y1="443.3" x2="57.95" y2="445.7" stroke="#111" stroke-width="1.2" />
<line x1="54.75" y1="443.3" x2="61.15" y2="443.3" stroke="#111" stroke-width="1.3" />
<rect x="51.9" y="445.7" width="12.1" height="33.8" fill="#bb0532" stroke="#920526" stroke-width="0.5" />
<line x1="57.95" y1="479.5" x2="57.95" y2="482.5" stroke="#111" stroke-width="1.1" />
<text x="57.95" y="489.6" font-size="7.4" text-anchor="middle" dominant-baseline="central" fill="#222" textLength="12.9" lengthAdjust="spacingAndGlyphs" >CD4</text>
<line x1="76.5" y1="451.3" x2="76.5" y2="453.3" stroke="#111" stroke-width="1.2" />
<line x1="73.3" y1="451.3" x2="79.7" y2="451.3" stroke="#111" stroke-width="1.3" />
<rect x="70.1" y="453.3" width="12.8" height="26.2" fill="#2c4d8c" stroke="#1d3566" stroke-width="0.5" />
<line x1="76.5" y1="479.5" x2="76.5" y2="482.5" stroke="#111" stroke-width="1.1" />
<text x="76.5" y="489.6" font-size="7.4" text-anchor="middle" dominant-baseline="central" fill="#222" textLength="12.9" lengthAdjust="spacingAndGlyphs" >CD8</text>
<line x1="48.1" y1="479.5" x2="85.6" y2="479.5" stroke="#111" stroke-width="1.6" />
<text x="67" y="423.6" font-size="9" text-anchor="middle" dominant-baseline="central" fill="#111" textLength="26.8" lengthAdjust="spacingAndGlyphs" >Spleen</text>
<polyline points="54.5,438.8 54.5,435.8 78.7,435.8 78.7,438.8" fill="none" stroke="#222" stroke-width="1" stroke-linejoin="round" />
<text x="66.6" y="433.8" font-size="6" text-anchor="middle" dominant-baseline="central" fill="#333" letter-spacing="0.5">***</text>
<line x1="103.3" y1="437" x2="103.3" y2="480.1" stroke="#111" stroke-width="1.6" />
<line x1="100.3" y1="479.4" x2="103.3" y2="479.4" stroke="#111" stroke-width="1.1" />
<text x="97.3" y="479.4" font-size="6.9" text-anchor="end" dominant-baseline="central" fill="#333" >0</text>
<line x1="100.3" y1="471.36" x2="103.3" y2="471.36" stroke="#111" stroke-width="1.1" />
<text x="97.3" y="471.36" font-size="6.9" text-anchor="end" dominant-baseline="central" fill="#333" >5</text>
<line x1="100.3" y1="463.32" x2="103.3" y2="463.32" stroke="#111" stroke-width="1.1" />
<text x="97.3" y="463.32" font-size="6.9" text-anchor="end" dominant-baseline="central" fill="#333" >10</text>
<line x1="100.3" y1="455.28" x2="103.3" y2="455.28" stroke="#111" stroke-width="1.1" />
<text x="97.3" y="455.28" font-size="6.9" text-anchor="end" dominant-baseline="central" fill="#333" >15</text>
<line x1="100.3" y1="447.24" x2="103.3" y2="447.24" stroke="#111" stroke-width="1.1" />
<text x="97.3" y="447.24" font-size="6.9" text-anchor="end" dominant-baseline="central" fill="#333" >20</text>
<line x1="100.3" y1="439.2" x2="103.3" y2="439.2" stroke="#111" stroke-width="1.1" />
<text x="97.3" y="439.2" font-size="6.9" text-anchor="end" dominant-baseline="central" fill="#333" >25</text>
<line x1="112.4" y1="447.88" x2="112.4" y2="449.49" stroke="#111" stroke-width="1.2" />
<line x1="109.2" y1="447.88" x2="115.6" y2="447.88" stroke="#111" stroke-width="1.3" />
<rect x="105.9" y="449.49" width="13" height="29.91" fill="#bb0532" stroke="#920526" stroke-width="0.5" />
<line x1="112.4" y1="479.4" x2="112.4" y2="482.4" stroke="#111" stroke-width="1.1" />
<text x="112.4" y="489.6" font-size="7.4" text-anchor="middle" dominant-baseline="central" fill="#222" textLength="12.9" lengthAdjust="spacingAndGlyphs" >CD4</text>
<line x1="130.8" y1="458.5" x2="130.8" y2="460.26" stroke="#111" stroke-width="1.2" />
<line x1="127.6" y1="458.5" x2="134" y2="458.5" stroke="#111" stroke-width="1.3" />
<rect x="124.2" y="460.26" width="13.2" height="19.14" fill="#2c4d8c" stroke="#1d3566" stroke-width="0.5" />
<line x1="130.8" y1="479.4" x2="130.8" y2="482.4" stroke="#111" stroke-width="1.1" />
<text x="130.8" y="489.6" font-size="7.4" text-anchor="middle" dominant-baseline="central" fill="#222" textLength="12.9" lengthAdjust="spacingAndGlyphs" >CD8</text>
<line x1="102.5" y1="479.4" x2="140.2" y2="479.4" stroke="#111" stroke-width="1.6" />
<text x="121.8" y="423.6" font-size="9" text-anchor="middle" dominant-baseline="central" fill="#111" textLength="18.4" lengthAdjust="spacingAndGlyphs" >Liver</text>
<polyline points="108.8,438.4 108.8,435.4 133.1,435.4 133.1,438.4" fill="none" stroke="#222" stroke-width="1" stroke-linejoin="round" />
<text x="120.95" y="433.4" font-size="6" text-anchor="middle" dominant-baseline="central" fill="#333" letter-spacing="0.5">***</text>
<line x1="157.6" y1="437" x2="157.6" y2="480.1" stroke="#111" stroke-width="1.6" />
<line x1="154.6" y1="479.4" x2="157.6" y2="479.4" stroke="#111" stroke-width="1.1" />
<text x="151.6" y="479.4" font-size="6.9" text-anchor="end" dominant-baseline="central" fill="#333" >0</text>
<line x1="154.6" y1="471.36" x2="157.6" y2="471.36" stroke="#111" stroke-width="1.1" />
<text x="151.6" y="471.36" font-size="6.9" text-anchor="end" dominant-baseline="central" fill="#333" >5</text>
<line x1="154.6" y1="463.32" x2="157.6" y2="463.32" stroke="#111" stroke-width="1.1" />
<text x="151.6" y="463.32" font-size="6.9" text-anchor="end" dominant-baseline="central" fill="#333" >10</text>
<line x1="154.6" y1="455.28" x2="157.6" y2="455.28" stroke="#111" stroke-width="1.1" />
<text x="151.6" y="455.28" font-size="6.9" text-anchor="end" dominant-baseline="central" fill="#333" >15</text>
<line x1="154.6" y1="447.24" x2="157.6" y2="447.24" stroke="#111" stroke-width="1.1" />
<text x="151.6" y="447.24" font-size="6.9" text-anchor="end" dominant-baseline="central" fill="#333" >20</text>
<line x1="154.6" y1="439.2" x2="157.6" y2="439.2" stroke="#111" stroke-width="1.1" />
<text x="151.6" y="439.2" font-size="6.9" text-anchor="end" dominant-baseline="central" fill="#333" >25</text>
<line x1="166.55" y1="446.92" x2="166.55" y2="448.53" stroke="#111" stroke-width="1.2" />
<line x1="163.35" y1="446.92" x2="169.75" y2="446.92" stroke="#111" stroke-width="1.3" />
<rect x="160.2" y="448.53" width="12.7" height="30.87" fill="#bb0532" stroke="#920526" stroke-width="0.5" />
<line x1="166.55" y1="479.4" x2="166.55" y2="482.4" stroke="#111" stroke-width="1.1" />
<text x="166.55" y="489.6" font-size="7.4" text-anchor="middle" dominant-baseline="central" fill="#222" textLength="12.9" lengthAdjust="spacingAndGlyphs" >CD4</text>
<line x1="185.5" y1="465.73" x2="185.5" y2="467.18" stroke="#111" stroke-width="1.2" />
<line x1="182.3" y1="465.73" x2="188.7" y2="465.73" stroke="#111" stroke-width="1.3" />
<rect x="179" y="467.18" width="13" height="12.22" fill="#2c4d8c" stroke="#1d3566" stroke-width="0.5" />
<line x1="185.5" y1="479.4" x2="185.5" y2="482.4" stroke="#111" stroke-width="1.1" />
<text x="185.5" y="489.6" font-size="7.4" text-anchor="middle" dominant-baseline="central" fill="#222" textLength="12.9" lengthAdjust="spacingAndGlyphs" >CD8</text>
<line x1="156.8" y1="479.4" x2="194.6" y2="479.4" stroke="#111" stroke-width="1.6" />
<text x="176.3" y="423.6" font-size="9" text-anchor="middle" dominant-baseline="central" fill="#111" textLength="19.7" lengthAdjust="spacingAndGlyphs" >Lung</text>
<polyline points="163.3,438.8 163.3,435.8 188.2,435.8 188.2,438.8" fill="none" stroke="#222" stroke-width="1" stroke-linejoin="round" />
<text x="175.75" y="433.8" font-size="6" text-anchor="middle" dominant-baseline="central" fill="#333" letter-spacing="0.5">***</text>
<line x1="212" y1="436.3" x2="212" y2="480" stroke="#111" stroke-width="1.6" />
<line x1="209" y1="479.3" x2="212" y2="479.3" stroke="#111" stroke-width="1.1" />
<text x="206" y="479.3" font-size="6.9" text-anchor="end" dominant-baseline="central" fill="#333" >0</text>
<line x1="209" y1="465.85" x2="212" y2="465.85" stroke="#111" stroke-width="1.1" />
<text x="206" y="465.85" font-size="6.9" text-anchor="end" dominant-baseline="central" fill="#333" >5</text>
<line x1="209" y1="452.4" x2="212" y2="452.4" stroke="#111" stroke-width="1.1" />
<text x="206" y="452.4" font-size="6.9" text-anchor="end" dominant-baseline="central" fill="#333" >10</text>
<line x1="209" y1="438.95" x2="212" y2="438.95" stroke="#111" stroke-width="1.1" />
<text x="206" y="438.95" font-size="6.9" text-anchor="end" dominant-baseline="central" fill="#333" >15</text>
<line x1="221.25" y1="448.1" x2="221.25" y2="451.06" stroke="#111" stroke-width="1.2" />
<line x1="218.05" y1="448.1" x2="224.45" y2="448.1" stroke="#111" stroke-width="1.3" />
<rect x="214.7" y="451.06" width="13.1" height="28.25" fill="#bb0532" stroke="#920526" stroke-width="0.5" />
<line x1="221.25" y1="479.3" x2="221.25" y2="482.3" stroke="#111" stroke-width="1.1" />
<text x="221.25" y="489.6" font-size="7.4" text-anchor="middle" dominant-baseline="central" fill="#222" textLength="12.9" lengthAdjust="spacingAndGlyphs" >CD4</text>
<line x1="239.85" y1="453.48" x2="239.85" y2="455.9" stroke="#111" stroke-width="1.2" />
<line x1="236.65" y1="453.48" x2="243.05" y2="453.48" stroke="#111" stroke-width="1.3" />
<rect x="233.7" y="455.9" width="12.3" height="23.4" fill="#2c4d8c" stroke="#1d3566" stroke-width="0.5" />
<line x1="239.85" y1="479.3" x2="239.85" y2="482.3" stroke="#111" stroke-width="1.1" />
<text x="239.85" y="489.6" font-size="7.4" text-anchor="middle" dominant-baseline="central" fill="#222" textLength="12.9" lengthAdjust="spacingAndGlyphs" >CD8</text>
<line x1="211.2" y1="479.3" x2="248.9" y2="479.3" stroke="#111" stroke-width="1.6" />
<text x="230.5" y="423.6" font-size="9" text-anchor="middle" dominant-baseline="central" fill="#111" textLength="24.3" lengthAdjust="spacingAndGlyphs" >Colon</text>
<line x1="48.7" y1="510.5" x2="48.7" y2="554.1" stroke="#111" stroke-width="1.6" />
<line x1="45.7" y1="553.4" x2="48.7" y2="553.4" stroke="#111" stroke-width="1.1" />
<text x="42.7" y="553.4" font-size="6.9" text-anchor="end" dominant-baseline="central" fill="#333" >0</text>
<line x1="45.7" y1="543.22" x2="48.7" y2="543.22" stroke="#111" stroke-width="1.1" />
<text x="42.7" y="543.22" font-size="6.9" text-anchor="end" dominant-baseline="central" fill="#333" >2</text>
<line x1="45.7" y1="533.04" x2="48.7" y2="533.04" stroke="#111" stroke-width="1.1" />
<text x="42.7" y="533.04" font-size="6.9" text-anchor="end" dominant-baseline="central" fill="#333" >4</text>
<line x1="45.7" y1="522.86" x2="48.7" y2="522.86" stroke="#111" stroke-width="1.1" />
<text x="42.7" y="522.86" font-size="6.9" text-anchor="end" dominant-baseline="central" fill="#333" >6</text>
<line x1="45.7" y1="512.68" x2="48.7" y2="512.68" stroke="#111" stroke-width="1.1" />
<text x="42.7" y="512.68" font-size="6.9" text-anchor="end" dominant-baseline="central" fill="#333" >8</text>
<line x1="57.95" y1="519.81" x2="57.95" y2="525.4" stroke="#111" stroke-width="1.2" />
<line x1="54.75" y1="519.81" x2="61.15" y2="519.81" stroke="#111" stroke-width="1.3" />
<rect x="51.8" y="525.4" width="12.3" height="28" fill="#bb0532" stroke="#920526" stroke-width="0.5" />
<line x1="57.95" y1="553.4" x2="57.95" y2="556.4" stroke="#111" stroke-width="1.1" />
<text x="57.95" y="563.2" font-size="7.4" text-anchor="middle" dominant-baseline="central" fill="#222" textLength="12.9" lengthAdjust="spacingAndGlyphs" >CD4</text>
<line x1="76.35" y1="545.51" x2="76.35" y2="546.53" stroke="#111" stroke-width="1.2" />
<line x1="73.15" y1="545.51" x2="79.55" y2="545.51" stroke="#111" stroke-width="1.3" />
<rect x="69.8" y="546.53" width="13.1" height="6.87" fill="#2c4d8c" stroke="#1d3566" stroke-width="0.5" />
<line x1="76.35" y1="553.4" x2="76.35" y2="556.4" stroke="#111" stroke-width="1.1" />
<text x="76.35" y="563.2" font-size="7.4" text-anchor="middle" dominant-baseline="central" fill="#222" textLength="12.9" lengthAdjust="spacingAndGlyphs" >CD8</text>
<line x1="47.9" y1="553.4" x2="84.6" y2="553.4" stroke="#111" stroke-width="1.6" />
<polyline points="57.3,514.8 57.3,511.8 81.5,511.8 81.5,514.8" fill="none" stroke="#222" stroke-width="1" stroke-linejoin="round" />
<text x="69.4" y="509.8" font-size="6" text-anchor="middle" dominant-baseline="central" fill="#333" letter-spacing="0.5">***</text>
<line x1="103.4" y1="510" x2="103.4" y2="554" stroke="#111" stroke-width="1.6" />
<line x1="100.4" y1="553.3" x2="103.4" y2="553.3" stroke="#111" stroke-width="1.1" />
<text x="97.4" y="553.3" font-size="6.9" text-anchor="end" dominant-baseline="central" fill="#333" >0</text>
<line x1="100.4" y1="539.94" x2="103.4" y2="539.94" stroke="#111" stroke-width="1.1" />
<text x="97.4" y="539.94" font-size="6.9" text-anchor="end" dominant-baseline="central" fill="#333" >4</text>
<line x1="100.4" y1="526.58" x2="103.4" y2="526.58" stroke="#111" stroke-width="1.1" />
<text x="97.4" y="526.58" font-size="6.9" text-anchor="end" dominant-baseline="central" fill="#333" >8</text>
<line x1="100.4" y1="513.22" x2="103.4" y2="513.22" stroke="#111" stroke-width="1.1" />
<text x="97.4" y="513.22" font-size="6.9" text-anchor="end" dominant-baseline="central" fill="#333" >12</text>
<line x1="112.6" y1="519.57" x2="112.6" y2="524.24" stroke="#111" stroke-width="1.2" />
<line x1="109.4" y1="519.57" x2="115.8" y2="519.57" stroke="#111" stroke-width="1.3" />
<rect x="106.3" y="524.24" width="12.6" height="29.06" fill="#bb0532" stroke="#920526" stroke-width="0.5" />
<line x1="112.6" y1="553.3" x2="112.6" y2="556.3" stroke="#111" stroke-width="1.1" />
<text x="112.6" y="563.2" font-size="7.4" text-anchor="middle" dominant-baseline="central" fill="#222" textLength="12.9" lengthAdjust="spacingAndGlyphs" >CD4</text>
<line x1="130.85" y1="531.59" x2="130.85" y2="536.27" stroke="#111" stroke-width="1.2" />
<line x1="127.65" y1="531.59" x2="134.05" y2="531.59" stroke="#111" stroke-width="1.3" />
<rect x="124.2" y="536.27" width="13.3" height="17.03" fill="#2c4d8c" stroke="#1d3566" stroke-width="0.5" />
<line x1="130.85" y1="553.3" x2="130.85" y2="556.3" stroke="#111" stroke-width="1.1" />
<text x="130.85" y="563.2" font-size="7.4" text-anchor="middle" dominant-baseline="central" fill="#222" textLength="12.9" lengthAdjust="spacingAndGlyphs" >CD8</text>
<line x1="102.6" y1="553.3" x2="139.6" y2="553.3" stroke="#111" stroke-width="1.6" />
<polyline points="112.3,514.7 112.3,511.7 136.1,511.7 136.1,514.7" fill="none" stroke="#222" stroke-width="1" stroke-linejoin="round" />
<text x="124.2" y="509.7" font-size="6" text-anchor="middle" dominant-baseline="central" fill="#333" letter-spacing="0.5">*</text>
<line x1="154.6" y1="510.5" x2="154.6" y2="554.1" stroke="#111" stroke-width="1.6" />
<line x1="151.6" y1="553.4" x2="154.6" y2="553.4" stroke="#111" stroke-width="1.1" />
<text x="148.6" y="553.4" font-size="6.9" text-anchor="end" dominant-baseline="central" fill="#333" >0</text>
<line x1="151.6" y1="539.95" x2="154.6" y2="539.95" stroke="#111" stroke-width="1.1" />
<text x="148.6" y="539.95" font-size="6.9" text-anchor="end" dominant-baseline="central" fill="#333" >1</text>
<line x1="151.6" y1="526.5" x2="154.6" y2="526.5" stroke="#111" stroke-width="1.1" />
<text x="148.6" y="526.5" font-size="6.9" text-anchor="end" dominant-baseline="central" fill="#333" >2</text>
<line x1="151.6" y1="513.05" x2="154.6" y2="513.05" stroke="#111" stroke-width="1.1" />
<text x="148.6" y="513.05" font-size="6.9" text-anchor="end" dominant-baseline="central" fill="#333" >3</text>
<line x1="163.3" y1="517.49" x2="163.3" y2="522.06" stroke="#111" stroke-width="1.2" />
<line x1="160.1" y1="517.49" x2="166.5" y2="517.49" stroke="#111" stroke-width="1.3" />
<rect x="157" y="522.06" width="12.6" height="31.34" fill="#bb0532" stroke="#920526" stroke-width="0.5" />
<line x1="163.3" y1="553.4" x2="163.3" y2="556.4" stroke="#111" stroke-width="1.1" />
<text x="163.3" y="563.2" font-size="7.4" text-anchor="middle" dominant-baseline="central" fill="#222" textLength="12.9" lengthAdjust="spacingAndGlyphs" >CD4</text>
<line x1="181.4" y1="545.6" x2="181.4" y2="547.08" stroke="#111" stroke-width="1.2" />
<line x1="178.2" y1="545.6" x2="184.6" y2="545.6" stroke="#111" stroke-width="1.3" />
<rect x="175" y="547.08" width="12.8" height="6.32" fill="#2c4d8c" stroke="#1d3566" stroke-width="0.5" />
<line x1="181.4" y1="553.4" x2="181.4" y2="556.4" stroke="#111" stroke-width="1.1" />
<text x="181.4" y="563.2" font-size="7.4" text-anchor="middle" dominant-baseline="central" fill="#222" textLength="12.9" lengthAdjust="spacingAndGlyphs" >CD8</text>
<line x1="153.8" y1="553.4" x2="190.8" y2="553.4" stroke="#111" stroke-width="1.6" />
<polyline points="159.5,514.8 159.5,511.8 183.5,511.8 183.5,514.8" fill="none" stroke="#222" stroke-width="1" stroke-linejoin="round" />
<text x="171.5" y="509.8" font-size="6" text-anchor="middle" dominant-baseline="central" fill="#333" letter-spacing="0.5">***</text>
<line x1="204.5" y1="510.5" x2="204.5" y2="554.1" stroke="#111" stroke-width="1.6" />
<line x1="201.5" y1="553.4" x2="204.5" y2="553.4" stroke="#111" stroke-width="1.1" />
<text x="198.5" y="553.4" font-size="6.9" text-anchor="end" dominant-baseline="central" fill="#333" >0</text>
<line x1="201.5" y1="539.95" x2="204.5" y2="539.95" stroke="#111" stroke-width="1.1" />
<text x="198.5" y="539.95" font-size="6.9" text-anchor="end" dominant-baseline="central" fill="#333" >1</text>
<line x1="201.5" y1="526.5" x2="204.5" y2="526.5" stroke="#111" stroke-width="1.1" />
<text x="198.5" y="526.5" font-size="6.9" text-anchor="end" dominant-baseline="central" fill="#333" >2</text>
<line x1="201.5" y1="513.05" x2="204.5" y2="513.05" stroke="#111" stroke-width="1.1" />
<text x="198.5" y="513.05" font-size="6.9" text-anchor="end" dominant-baseline="central" fill="#333" >3</text>
<line x1="213.6" y1="515.74" x2="213.6" y2="526.5" stroke="#111" stroke-width="1.2" />
<line x1="210.4" y1="515.74" x2="216.8" y2="515.74" stroke="#111" stroke-width="1.3" />
<rect x="207.2" y="526.5" width="12.8" height="26.9" fill="#bb0532" stroke="#920526" stroke-width="0.5" />
<line x1="213.6" y1="553.4" x2="213.6" y2="556.4" stroke="#111" stroke-width="1.1" />
<text x="213.6" y="563.2" font-size="7.4" text-anchor="middle" dominant-baseline="central" fill="#222" textLength="12.9" lengthAdjust="spacingAndGlyphs" >CD4</text>
<line x1="232.3" y1="548.29" x2="232.3" y2="549.23" stroke="#111" stroke-width="1.2" />
<line x1="229.1" y1="548.29" x2="235.5" y2="548.29" stroke="#111" stroke-width="1.3" />
<rect x="225.9" y="549.23" width="12.8" height="4.17" fill="#2c4d8c" stroke="#1d3566" stroke-width="0.5" />
<line x1="232.3" y1="553.4" x2="232.3" y2="556.4" stroke="#111" stroke-width="1.1" />
<text x="232.3" y="563.2" font-size="7.4" text-anchor="middle" dominant-baseline="central" fill="#222" textLength="12.9" lengthAdjust="spacingAndGlyphs" >CD8</text>
<line x1="203.7" y1="553.4" x2="242.8" y2="553.4" stroke="#111" stroke-width="1.6" />
<polyline points="214,515.2 214,512.2 237.8,512.2 237.8,515.2" fill="none" stroke="#222" stroke-width="1" stroke-linejoin="round" />
<text x="225.9" y="508.8" font-size="6.3" text-anchor="middle" dominant-baseline="central" fill="#222" textLength="24.5" lengthAdjust="spacingAndGlyphs" >p=0.0593</text>
<text transform="translate(15.4,459.0) rotate(-90)" font-size="7.9" text-anchor="middle" dominant-baseline="central" fill="#222" textLength="27" lengthAdjust="spacingAndGlyphs">% eGFP<tspan font-size="5.2" dy="-2.8">+</tspan></text>
<text transform="translate(26.0,457.6) rotate(-90)" font-size="7.9" text-anchor="middle" dominant-baseline="central" fill="#222" textLength="50" lengthAdjust="spacingAndGlyphs">of Thy 1.2<tspan font-size="5.2" dy="-2.8">+</tspan><tspan dy="2.8"> gate</tspan></text>
<text transform="translate(19.5,531.6) rotate(-90)" font-size="8.2" text-anchor="middle" dominant-baseline="central" fill="#222" textLength="70.5" lengthAdjust="spacingAndGlyphs" >Abs number persisting</text>
<text transform="translate(31.0,532.4) rotate(-90)" font-size="8.2" text-anchor="middle" dominant-baseline="central" fill="#222" textLength="49" lengthAdjust="spacingAndGlyphs">allo iTregs (10<tspan font-size="5.4" dy="-2.8">4</tspan><tspan dy="2.8">)</tspan></text>
<text x="269" y="412.3" font-size="11.4" text-anchor="start" dominant-baseline="central" fill="#000" font-weight="bold" >E</text>
<line x1="298.9" y1="420.5" x2="298.9" y2="511.4" stroke="#111" stroke-width="1.6" />
<line x1="296.2" y1="510.6" x2="300.2" y2="510.6" stroke="#111" stroke-width="1" />
<text x="293.6" y="510.6" font-size="6.6" text-anchor="end" dominant-baseline="central" fill="#333" >0</text>
<line x1="296.2" y1="501.79" x2="300.2" y2="501.79" stroke="#111" stroke-width="1" />
<text x="293.6" y="501.79" font-size="6.6" text-anchor="end" dominant-baseline="central" fill="#333" >10</text>
<line x1="296.2" y1="492.98" x2="300.2" y2="492.98" stroke="#111" stroke-width="1" />
<text x="293.6" y="492.98" font-size="6.6" text-anchor="end" dominant-baseline="central" fill="#333" >20</text>
<line x1="296.2" y1="484.17" x2="300.2" y2="484.17" stroke="#111" stroke-width="1" />
<text x="293.6" y="484.17" font-size="6.6" text-anchor="end" dominant-baseline="central" fill="#333" >30</text>
<line x1="296.2" y1="475.36" x2="300.2" y2="475.36" stroke="#111" stroke-width="1" />
<text x="293.6" y="475.36" font-size="6.6" text-anchor="end" dominant-baseline="central" fill="#333" >40</text>
<line x1="296.2" y1="466.55" x2="300.2" y2="466.55" stroke="#111" stroke-width="1" />
<text x="293.6" y="466.55" font-size="6.6" text-anchor="end" dominant-baseline="central" fill="#333" >50</text>
<line x1="296.2" y1="457.74" x2="300.2" y2="457.74" stroke="#111" stroke-width="1" />
<text x="293.6" y="457.74" font-size="6.6" text-anchor="end" dominant-baseline="central" fill="#333" >60</text>
<line x1="296.2" y1="448.93" x2="300.2" y2="448.93" stroke="#111" stroke-width="1" />
<text x="293.6" y="448.93" font-size="6.6" text-anchor="end" dominant-baseline="central" fill="#333" >70</text>
<line x1="296.2" y1="440.12" x2="300.2" y2="440.12" stroke="#111" stroke-width="1" />
<text x="293.6" y="440.12" font-size="6.6" text-anchor="end" dominant-baseline="central" fill="#333" >80</text>
<line x1="296.2" y1="431.31" x2="300.2" y2="431.31" stroke="#111" stroke-width="1" />
<text x="293.6" y="431.31" font-size="6.6" text-anchor="end" dominant-baseline="central" fill="#333" >90</text>
<line x1="296.2" y1="422.5" x2="300.2" y2="422.5" stroke="#111" stroke-width="1" />
<text x="293.6" y="422.5" font-size="6.6" text-anchor="end" dominant-baseline="central" fill="#333" >100</text>
<line x1="298.8" y1="510.6" x2="434.3" y2="510.6" stroke="#111" stroke-width="1.6" />
<line x1="299.2" y1="510.6" x2="299.2" y2="513.4" stroke="#111" stroke-width="1" />
<text x="299.2" y="520.4" font-size="6.6" text-anchor="middle" dominant-baseline="central" fill="#333" >0</text>
<line x1="321.25" y1="510.6" x2="321.25" y2="513.4" stroke="#111" stroke-width="1" />
<text x="321.25" y="520.4" font-size="6.6" text-anchor="middle" dominant-baseline="central" fill="#333" >10</text>
<line x1="343.3" y1="510.6" x2="343.3" y2="513.4" stroke="#111" stroke-width="1" />
<text x="343.3" y="520.4" font-size="6.6" text-anchor="middle" dominant-baseline="central" fill="#333" >20</text>
<line x1="365.35" y1="510.6" x2="365.35" y2="513.4" stroke="#111" stroke-width="1" />
<text x="365.35" y="520.4" font-size="6.6" text-anchor="middle" dominant-baseline="central" fill="#333" >30</text>
<line x1="387.4" y1="510.6" x2="387.4" y2="513.4" stroke="#111" stroke-width="1" />
<text x="387.4" y="520.4" font-size="6.6" text-anchor="middle" dominant-baseline="central" fill="#333" >40</text>
<line x1="409.45" y1="510.6" x2="409.45" y2="513.4" stroke="#111" stroke-width="1" />
<text x="409.45" y="520.4" font-size="6.6" text-anchor="middle" dominant-baseline="central" fill="#333" >50</text>
<line x1="431.5" y1="510.6" x2="431.5" y2="513.4" stroke="#111" stroke-width="1" />
<text x="431.5" y="520.4" font-size="6.6" text-anchor="middle" dominant-baseline="central" fill="#333" >60</text>
<text x="367" y="532.1" font-size="9.2" text-anchor="middle" dominant-baseline="central" fill="#222" textLength="63.3" lengthAdjust="spacingAndGlyphs" >Days post-transplant</text>
<text transform="translate(273.4,464) rotate(-90)" font-size="9.2" text-anchor="middle" dominant-baseline="central" fill="#222" textLength="49" lengthAdjust="spacingAndGlyphs" >Percent survival</text>
<polyline points="299.2,422.5 367.56,422.5 367.56,427.52 431.5,427.52 431.5,427.52" fill="none" stroke="#a8143a" stroke-width="1.4" stroke-linejoin="round" />
<polyline points="299.2,422.5 318.38,422.5 318.38,426.2 329.19,426.2 329.19,430.43 332.05,430.43 332.05,433.95 340.65,433.95 340.65,436.86 346.17,436.86 346.17,443.64 348.37,443.64 348.37,446.29 350.14,446.29 350.14,448.49 356.09,448.49 356.09,462.15 359.62,462.15 359.62,465.14 362.92,465.14 362.92,473.16 365.13,473.16 365.13,475.89 370.86,475.89 370.86,480.65 373.73,480.65 373.73,491.22 380.34,491.22 380.34,495.62 387.4,495.62 387.4,498.71 402.83,498.71 402.83,503.55 407.25,503.55 407.25,507.34 409.45,507.34 409.45,510.6" fill="none" stroke="#27447f" stroke-width="1.4" stroke-linejoin="round" />
<polyline points="299.2,422.5 365.35,422.5 365.35,428.31 370.42,428.31 370.42,434.22 379.46,434.22 379.46,436.86 386.74,436.86 386.74,441.88 390.27,441.88 390.27,444.97 394.24,444.97 394.24,448.93 401.95,448.93 401.95,460.56 411.65,460.56 411.65,465.14 416.95,465.14 416.95,472.28 424,472.28 424,475.89 431.5,475.89 431.5,475.89" fill="none" stroke="#7cb04c" stroke-width="1.3" stroke-linejoin="round" />
<polyline points="299.2,422.5 347.05,422.5 347.05,426.02 354.99,426.02 354.99,427.35 362.04,427.35 362.04,432.72 364.8,432.72 364.8,442.5 367.33,442.5 367.33,446.99 368.88,446.99 368.88,451.57 370.42,451.57 370.42,455.98 372.19,455.98 372.19,460.03 373.51,460.03 373.51,464.17 375.49,464.17 375.49,467.78 376.82,467.78 376.82,474.48 390.71,474.48 390.71,477.12 401.73,477.12 401.73,482.41 403.06,482.41 403.06,496.06 407.25,496.06 407.25,498.71 411.21,498.71 411.21,502.67 431.5,502.67 431.5,502.67" fill="none" stroke="#5e1d52" stroke-width="1.3" stroke-linejoin="round" />
<rect x="315.93" y="423.75" width="4.9" height="4.9" fill="#27447f" />
<rect x="326.74" y="427.98" width="4.9" height="4.9" fill="#27447f" />
<rect x="329.6" y="431.5" width="4.9" height="4.9" fill="#27447f" />
<rect x="338.2" y="434.41" width="4.9" height="4.9" fill="#27447f" />
<rect x="343.72" y="441.19" width="4.9" height="4.9" fill="#27447f" />
<rect x="345.92" y="443.84" width="4.9" height="4.9" fill="#27447f" />
<rect x="347.69" y="446.04" width="4.9" height="4.9" fill="#27447f" />
<rect x="353.64" y="459.7" width="4.9" height="4.9" fill="#27447f" />
<rect x="357.17" y="462.69" width="4.9" height="4.9" fill="#27447f" />
<rect x="360.47" y="470.71" width="4.9" height="4.9" fill="#27447f" />
<rect x="362.68" y="473.44" width="4.9" height="4.9" fill="#27447f" />
<rect x="368.41" y="478.2" width="4.9" height="4.9" fill="#27447f" />
<rect x="371.28" y="488.77" width="4.9" height="4.9" fill="#27447f" />
<rect x="377.89" y="493.17" width="4.9" height="4.9" fill="#27447f" />
<rect x="384.95" y="496.26" width="4.9" height="4.9" fill="#27447f" />
<rect x="400.38" y="501.1" width="4.9" height="4.9" fill="#27447f" />
<rect x="404.8" y="504.89" width="4.9" height="4.9" fill="#27447f" />
<rect x="407" y="508.15" width="4.9" height="4.9" fill="#27447f" />
<path d="M362.55,430.75 L365.35,425.88 L368.15,430.75 Z" fill="#fff" stroke="#7cb04c" stroke-width="0.9"/>
<path d="M367.62,436.65 L370.42,431.78 L373.22,436.65 Z" fill="#fff" stroke="#7cb04c" stroke-width="0.9"/>
<path d="M376.66,439.3 L379.46,434.42 L382.26,439.3 Z" fill="#fff" stroke="#7cb04c" stroke-width="0.9"/>
<path d="M383.94,444.32 L386.74,439.45 L389.54,444.32 Z" fill="#fff" stroke="#7cb04c" stroke-width="0.9"/>
<path d="M387.47,447.4 L390.27,442.53 L393.07,447.4 Z" fill="#fff" stroke="#7cb04c" stroke-width="0.9"/>
<path d="M391.44,451.37 L394.24,446.49 L397.04,451.37 Z" fill="#fff" stroke="#7cb04c" stroke-width="0.9"/>
<path d="M399.15,463 L401.95,458.12 L404.75,463 Z" fill="#fff" stroke="#7cb04c" stroke-width="0.9"/>
<path d="M408.85,467.58 L411.65,462.7 L414.45,467.58 Z" fill="#fff" stroke="#7cb04c" stroke-width="0.9"/>
<path d="M414.15,474.71 L416.95,469.84 L419.75,474.71 Z" fill="#fff" stroke="#7cb04c" stroke-width="0.9"/>
<path d="M421.2,478.32 L424,473.45 L426.8,478.32 Z" fill="#fff" stroke="#7cb04c" stroke-width="0.9"/>
<path d="M428.7,478.32 L431.5,473.45 L434.3,478.32 Z" fill="#fff" stroke="#7cb04c" stroke-width="0.9"/>
<path d="M342.7,420.06 L345.5,424.94 L348.31,420.06 Z" fill="#fff" stroke="#5e1d52" stroke-width="0.9"/>
<path d="M344.25,423.59 L347.05,428.46 L349.85,423.59 Z" fill="#fff" stroke="#5e1d52" stroke-width="0.9"/>
<path d="M352.19,424.91 L354.99,429.78 L357.79,424.91 Z" fill="#fff" stroke="#5e1d52" stroke-width="0.9"/>
<path d="M359.24,430.28 L362.04,435.16 L364.84,430.28 Z" fill="#fff" stroke="#5e1d52" stroke-width="0.9"/>
<path d="M362,440.06 L364.8,444.93 L367.6,440.06 Z" fill="#fff" stroke="#5e1d52" stroke-width="0.9"/>
<path d="M364.53,444.56 L367.33,449.43 L370.13,444.56 Z" fill="#fff" stroke="#5e1d52" stroke-width="0.9"/>
<path d="M366.08,449.14 L368.88,454.01 L371.68,449.14 Z" fill="#fff" stroke="#5e1d52" stroke-width="0.9"/>
<path d="M367.62,453.54 L370.42,458.41 L373.22,453.54 Z" fill="#fff" stroke="#5e1d52" stroke-width="0.9"/>
<path d="M369.39,457.59 L372.19,462.47 L374.99,457.59 Z" fill="#fff" stroke="#5e1d52" stroke-width="0.9"/>
<path d="M370.71,461.74 L373.51,466.61 L376.31,461.74 Z" fill="#fff" stroke="#5e1d52" stroke-width="0.9"/>
<path d="M372.69,465.35 L375.49,470.22 L378.29,465.35 Z" fill="#fff" stroke="#5e1d52" stroke-width="0.9"/>
<path d="M374.02,472.04 L376.82,476.92 L379.62,472.04 Z" fill="#fff" stroke="#5e1d52" stroke-width="0.9"/>
<path d="M387.91,474.69 L390.71,479.56 L393.51,474.69 Z" fill="#fff" stroke="#5e1d52" stroke-width="0.9"/>
<path d="M398.93,479.97 L401.73,484.84 L404.53,479.97 Z" fill="#fff" stroke="#5e1d52" stroke-width="0.9"/>
<path d="M400.26,493.63 L403.06,498.5 L405.86,493.63 Z" fill="#fff" stroke="#5e1d52" stroke-width="0.9"/>
<path d="M404.44,496.27 L407.25,501.14 L410.05,496.27 Z" fill="#fff" stroke="#5e1d52" stroke-width="0.9"/>
<path d="M408.41,500.24 L411.21,505.11 L414.01,500.24 Z" fill="#fff" stroke="#5e1d52" stroke-width="0.9"/>
<path d="M428.7,500.24 L431.5,505.11 L434.3,500.24 Z" fill="#fff" stroke="#5e1d52" stroke-width="0.9"/>
<circle cx="431.5" cy="427.52" r="2.3" fill="#a8143a"/>
<line x1="441.2" y1="427.5" x2="448.7" y2="427.5" stroke="#a8143a" stroke-width="1.3" />
<circle cx="444.9" cy="427.5" r="2.1" fill="#a8143a"/>
<text x="451.6" y="427.5" font-size="6" text-anchor="start" dominant-baseline="central" fill="#222" textLength="8.2" lengthAdjust="spacingAndGlyphs" >BM</text>
<line x1="441.2" y1="437" x2="448.7" y2="437" stroke="#2a4a86" stroke-width="1.3" />
<rect x="442.9" y="435" width="4" height="4" fill="#2a4a86" />
<text x="451.6" y="437" font-size="6" text-anchor="start" dominant-baseline="central" fill="#222" textLength="13.5" lengthAdjust="spacingAndGlyphs" >GVHD</text>
<line x1="441.2" y1="446.1" x2="448.7" y2="446.1" stroke="#7cb04c" stroke-width="1.3" />
<path d="M442.8,447.93 L444.9,444.27 L447,447.93 Z" fill="#fff" stroke="#7cb04c" stroke-width="0.9"/>
<text x="451.6" y="446.1" font-size="6" text-anchor="start" dominant-baseline="central" fill="#222" textLength="29.5" lengthAdjust="spacingAndGlyphs" >CD4 Allo iT</text>
<text x="481.3" y="449.1" font-size="3.8" text-anchor="start" dominant-baseline="central" fill="#222" >reg</text>
<line x1="441.2" y1="454.8" x2="448.7" y2="454.8" stroke="#5e1d52" stroke-width="1.3" />
<path d="M442.8,452.97 L444.9,456.63 L447,452.97 Z" fill="#fff" stroke="#5e1d52" stroke-width="0.9"/>
<text x="451.6" y="454.8" font-size="6" text-anchor="start" dominant-baseline="central" fill="#222" textLength="29.5" lengthAdjust="spacingAndGlyphs" >CD8 Allo iT</text>
<text x="481.3" y="457.8" font-size="3.8" text-anchor="start" dominant-baseline="central" fill="#222" >reg</text>
<polyline points="488.5,435.8 491.6,435.8 491.6,443.5 488.5,443.5" fill="none" stroke="#222" stroke-width="1" stroke-linejoin="round" />
<polyline points="488.5,445.6 491.6,445.6 491.6,453.9 488.5,453.9" fill="none" stroke="#222" stroke-width="1" stroke-linejoin="round" />
<line x1="486.5" y1="444.6" x2="489" y2="444.6" stroke="#222" stroke-width="0.8" />
<text x="498.2" y="440.6" font-size="6.4" text-anchor="middle" dominant-baseline="central" fill="#333" letter-spacing="0.4">***</text>
<text x="497.6" y="450.3" font-size="6.4" text-anchor="middle" dominant-baseline="central" fill="#333" letter-spacing="0.4">**</text>
<polyline points="503.5,435.8 506.5,435.8 506.5,453.9 503.5,453.9" fill="none" stroke="#222" stroke-width="1" stroke-linejoin="round" />
<text x="511.3" y="446" font-size="6.4" text-anchor="middle" dominant-baseline="central" fill="#333" >*</text>
</svg>
</body></html>
